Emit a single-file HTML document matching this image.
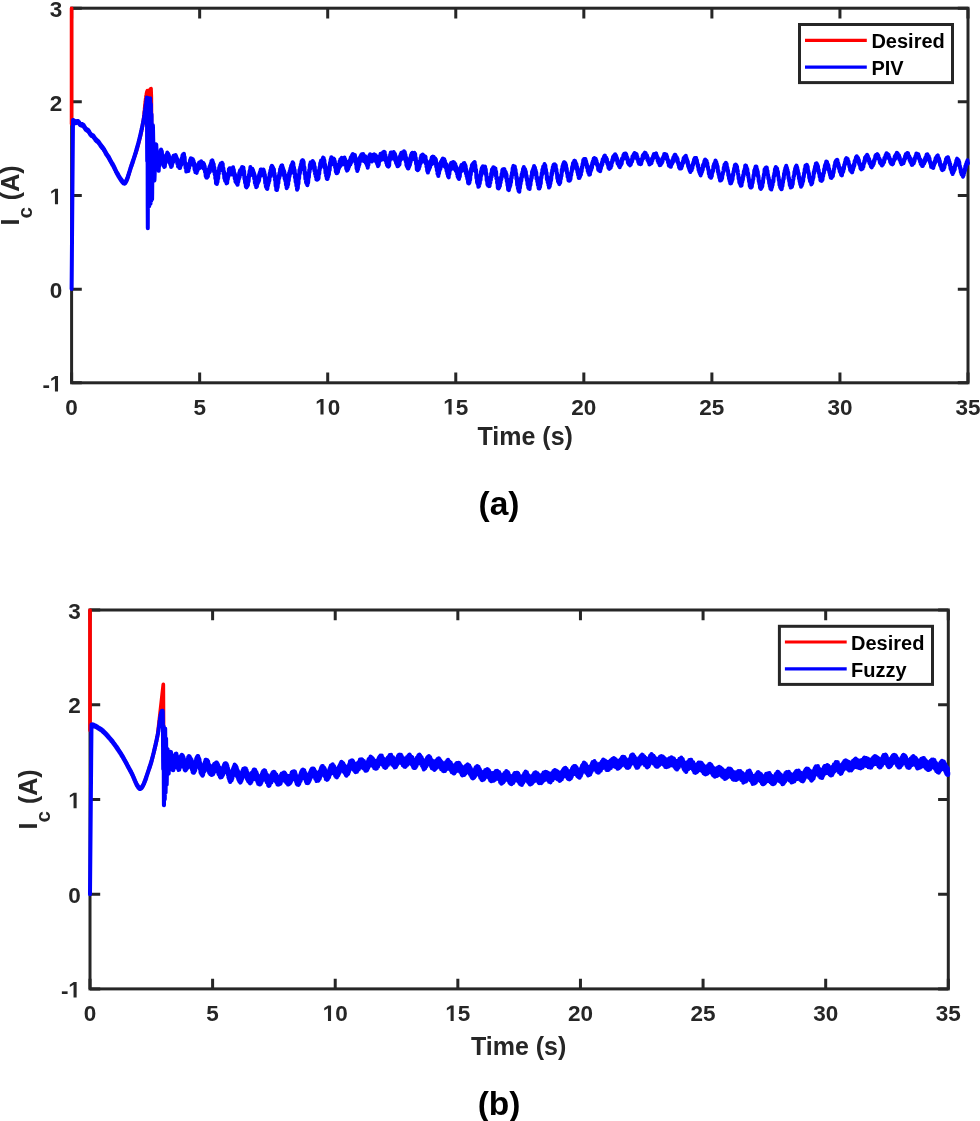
<!DOCTYPE html><html><head><meta charset="utf-8"><style>html,body{margin:0;padding:0;background:#fff;overflow:hidden}svg{display:block;will-change:transform}text{font-family:"Liberation Sans",sans-serif;font-weight:bold}</style></head><body>
<svg width="980" height="1121" viewBox="0 0 980 1121">
<defs><clipPath id="ca"><rect x="68.6" y="6.4" width="902.4" height="378.2"/></clipPath>
<clipPath id="cb"><rect x="87.0" y="608.2" width="864.3" height="382.5"/></clipPath></defs>
<path d="M71.60,382.80V372.60M71.60,8.20V18.40M199.66,382.80V372.60M199.66,8.20V18.40M327.71,382.80V372.60M327.71,8.20V18.40M455.77,382.80V372.60M455.77,8.20V18.40M583.83,382.80V372.60M583.83,8.20V18.40M711.89,382.80V372.60M711.89,8.20V18.40M839.94,382.80V372.60M839.94,8.20V18.40M968.00,382.80V372.60M968.00,8.20V18.40M71.60,382.80H81.80M968.00,382.80H957.80M71.60,289.15H81.80M968.00,289.15H957.80M71.60,195.50H81.80M968.00,195.50H957.80M71.60,101.85H81.80M968.00,101.85H957.80M71.60,8.20H81.80M968.00,8.20H957.80" stroke="#262626" stroke-width="3" fill="none"/>
<rect x="71.60" y="8.20" width="896.40" height="374.60" stroke="#262626" stroke-width="3" fill="none"/>
<g font-size="22.5" fill="#262626"><text x="71.60" y="414.50" text-anchor="middle">0</text><text x="199.66" y="414.50" text-anchor="middle">5</text><text x="327.71" y="414.50">0</text><text x="455.77" y="414.50">5</text><text x="583.83" y="414.50" text-anchor="middle">20</text><text x="711.89" y="414.50" text-anchor="middle">25</text><text x="839.94" y="414.50" text-anchor="middle">30</text><text x="968.00" y="414.50" text-anchor="middle">35</text><text x="49.99" y="391.50" text-anchor="end">-</text><text x="62.20" y="297.85" text-anchor="end">0</text><text x="62.20" y="110.55" text-anchor="end">2</text><text x="62.20" y="16.90" text-anchor="end">3</text><path d="M320.45,414.50 L320.45,401.65 L316.74,403.96 L316.74,401.54 L320.62,399.02 L323.54,399.02 L323.54,414.50ZM448.51,414.50 L448.51,401.65 L444.80,403.96 L444.80,401.54 L448.67,399.02 L451.60,399.02 L451.60,414.50ZM54.94,391.50 L54.94,378.65 L51.22,380.96 L51.22,378.54 L55.10,376.02 L58.03,376.02 L58.03,391.50ZM54.94,204.20 L54.94,191.35 L51.22,193.66 L51.22,191.24 L55.10,188.72 L58.03,188.72 L58.03,204.20Z"/></g>
<g clip-path="url(#ca)" fill="none" stroke-width="3.6" stroke-linejoin="round" stroke-linecap="round">
<path d="M71.6,8.2 L71.6,124.0 71.9,123.2 72.1,122.4 72.4,121.6 72.6,121.0 72.9,120.6 73.1,120.6 73.4,120.6 73.6,120.6 73.9,120.7 74.2,120.7 74.4,120.8 74.7,120.8 74.9,120.9 75.2,121.0 75.4,121.1 75.7,121.2 76.0,121.3 76.2,121.4 76.5,121.5 76.7,121.7 77.0,121.8 77.2,121.9 77.5,122.1 77.7,122.2 78.0,122.4 78.3,122.5 78.5,122.7 78.8,122.9 79.0,123.0 79.3,123.2 79.5,123.3 79.8,123.5 80.1,123.6 80.3,123.8 80.6,124.0 80.8,124.1 81.1,124.3 81.3,124.5 81.6,124.7 81.8,124.9 82.1,125.1 82.4,125.3 82.6,125.5 82.9,125.7 83.1,125.9 83.4,126.2 83.6,126.4 83.9,126.7 84.1,126.9 84.4,127.2 84.7,127.5 84.9,127.7 85.2,128.0 85.4,128.3 85.7,128.5 85.9,128.8 86.2,129.1 86.5,129.4 86.7,129.7 87.0,130.0 87.2,130.2 87.5,130.5 87.7,130.8 88.0,131.1 88.2,131.4 88.5,131.7 88.8,132.0 89.0,132.3 89.3,132.5 89.5,132.8 89.8,133.1 90.0,133.4 90.3,133.6 90.6,133.9 90.8,134.2 91.1,134.5 91.3,134.7 91.6,135.0 91.8,135.3 92.1,135.5 92.3,135.8 92.6,136.0 92.9,136.3 93.1,136.6 93.4,136.8 93.6,137.1 93.9,137.4 94.1,137.6 94.4,137.9 94.7,138.2 94.9,138.5 95.2,138.7 95.4,139.0 95.7,139.3 95.9,139.6 96.2,139.8 96.4,140.1 96.7,140.4 97.0,140.7 97.2,141.0 97.5,141.3 97.7,141.5 98.0,141.8 98.2,142.1 98.5,142.4 98.7,142.7 99.0,143.1 99.3,143.4 99.5,143.7 99.8,144.0 100.0,144.3 100.3,144.6 100.5,145.0 100.8,145.3 101.1,145.6 101.3,146.0 101.6,146.3 101.8,146.7 102.1,147.1 102.3,147.4 102.6,147.8 102.8,148.2 103.1,148.6 103.4,148.9 103.6,149.3 103.9,149.7 104.1,150.1 104.4,150.5 104.6,150.9 104.9,151.3 105.2,151.8 105.4,152.2 105.7,152.6 105.9,153.0 106.2,153.4 106.4,153.9 106.7,154.3 106.9,154.7 107.2,155.1 107.5,155.6 107.7,156.0 108.0,156.4 108.2,156.9 108.5,157.3 108.7,157.8 109.0,158.2 109.2,158.6 109.5,159.1 109.8,159.5 110.0,159.9 110.3,160.4 110.5,160.8 110.8,161.3 111.0,161.7 111.3,162.1 111.6,162.6 111.8,163.0 112.1,163.5 112.3,164.0 112.6,164.5 112.8,164.9 113.1,165.4 113.3,165.9 113.6,166.4 113.9,166.9 114.1,167.4 114.4,167.9 114.6,168.5 114.9,169.0 115.1,169.5 115.4,170.0 115.7,170.5 115.9,171.0 116.2,171.5 116.4,172.0 116.7,172.5 116.9,173.0 117.2,173.5 117.4,174.0 117.7,174.4 118.0,174.9 118.2,175.4 118.5,175.8 118.7,176.3 119.0,176.7 119.2,177.1 119.5,177.5 119.7,177.9 120.0,178.3 120.3,178.7 120.5,179.1 120.8,179.4 121.0,179.7 121.3,180.0 121.5,180.4 121.8,180.7 122.1,181.1 122.3,181.4 122.6,181.7 122.8,182.0 123.1,182.3 123.3,182.6 123.6,182.8 123.8,182.9 124.1,183.0 124.4,183.0 124.6,183.0 124.9,182.9 125.1,182.6 125.4,182.4 125.6,182.0 125.9,181.6 126.2,181.2 126.4,180.7 126.7,180.1 126.9,179.5 127.2,178.8 127.4,178.1 127.7,177.4 127.9,176.7 128.2,175.9 128.5,175.1 128.7,174.3 129.0,173.5 129.2,172.6 129.5,171.8 129.7,171.0 130.0,170.1 130.3,169.3 130.5,168.5 130.8,167.6 131.0,166.9 131.3,166.1 131.5,165.3 131.8,164.6 132.0,163.9 132.3,163.1 132.6,162.4 132.8,161.7 133.1,160.9 133.3,160.2 133.6,159.4 133.8,158.7 134.1,157.9 134.3,157.2 134.6,156.4 134.9,155.7 135.1,154.9 135.4,154.1 135.6,153.3 135.9,152.5 136.1,151.7 136.4,150.8 136.7,150.0 136.9,149.1 137.2,148.3 137.4,147.4 137.7,146.5 137.9,145.6 138.2,144.7 138.4,143.7 138.7,142.7 139.0,141.7 139.2,140.7 139.5,139.7 139.7,138.7 140.0,137.6 140.2,136.5 140.5,135.4 140.8,134.2 141.0,133.0 141.3,131.8 141.5,130.6 141.8,129.4 142.0,128.1 142.3,126.8 142.5,125.4 142.8,124.0 143.1,122.6 143.3,121.0 143.6,119.0 143.8,116.8 144.1,114.4 144.3,111.9 144.6,109.4 144.8,106.8 145.1,104.2 145.4,101.8 145.6,99.6 145.9,97.5 146.1,95.8 146.4,94.4 146.6,93.1 146.9,91.9 147.2,91.0 147.4,90.6 147.7,91.3 147.9,92.9 148.2,94.9 148.4,96.5 148.7,97.2 148.9,96.5 149.2,94.7 149.5,92.6 149.7,90.7 150.0,89.7 150.2,89.3 150.5,89.0 150.7,88.8 151.0,88.7 151.3,96.2 151.8,167.4 153.6,162.7" stroke="#ff0000" stroke-width="3.7"/>
<path d="M71.6,289.1 L73.0,121.0 73.0,120.0 73.3,120.3 73.5,120.1 73.8,121.2 74.0,120.5 74.3,122.2 74.5,121.0 74.8,122.8 75.1,121.6 75.3,123.2 75.6,121.8 75.8,123.3 76.1,121.7 76.3,123.1 76.6,121.4 76.9,122.7 77.1,121.1 77.4,122.5 77.6,121.0 77.9,122.5 78.1,121.1 78.4,122.8 78.6,121.6 78.9,123.5 79.2,122.3 79.4,124.2 79.7,123.1 79.9,124.9 80.2,123.6 80.4,125.3 80.7,124.0 80.9,125.6 81.2,124.1 81.5,125.6 81.7,124.1 82.0,125.5 82.2,124.0 82.5,125.6 82.7,124.2 83.0,125.9 83.3,124.6 83.5,126.4 83.8,125.3 84.0,127.2 84.3,126.1 84.5,128.1 84.8,127.0 85.0,128.9 85.3,127.8 85.6,129.6 85.8,128.4 86.1,130.1 86.3,128.8 86.6,130.5 86.8,129.1 87.1,130.7 87.4,129.4 87.6,131.0 87.9,129.7 88.1,131.5 88.4,130.3 88.6,132.1 88.9,131.0 89.1,132.9 89.4,131.8 89.7,133.8 89.9,132.7 90.2,134.6 90.4,133.4 90.7,135.2 90.9,134.0 91.2,135.7 91.4,134.4 91.7,136.1 92.0,134.7 92.2,136.3 92.5,135.0 92.7,136.6 93.0,135.3 93.2,137.1 93.5,135.8 93.8,137.7 94.0,136.5 94.3,138.4 94.5,137.2 94.8,139.1 95.0,138.0 95.3,139.9 95.5,138.7 95.8,140.5 96.1,139.3 96.3,141.0 96.6,139.7 96.8,141.4 97.1,140.1 97.3,141.8 97.6,140.5 97.9,142.2 98.1,141.0 98.4,142.7 98.6,141.5 98.9,143.4 99.1,142.2 99.4,144.1 99.6,143.0 99.9,144.9 100.2,143.9 100.4,145.7 100.7,144.6 100.9,146.5 101.2,145.3 101.4,147.1 101.7,145.9 101.9,147.7 102.2,146.5 102.5,148.3 102.7,147.1 103.0,148.9 103.2,147.8 103.5,149.7 103.7,148.5 104.0,150.5 104.3,149.4 104.5,151.4 104.8,150.4 105.0,152.3 105.3,151.3 105.5,153.3 105.8,152.2 106.0,154.2 106.3,153.1 106.6,155.0 106.8,153.9 107.1,155.8 107.3,154.6 107.6,156.5 107.8,155.4 108.1,157.3 108.4,156.2 108.6,158.1 108.9,157.0 109.1,159.0 109.4,158.0 109.6,160.0 109.9,158.9 110.1,160.9 110.4,159.9 110.7,161.9 110.9,160.9 111.2,162.8 111.4,161.8 111.7,163.7 111.9,162.6 112.2,164.6 112.5,163.5 112.7,165.4 113.0,164.4 113.2,166.3 113.5,165.3 113.7,167.3 114.0,166.3 114.2,168.3 114.5,167.4 114.8,169.4 115.0,168.4 115.3,170.5 115.5,169.5 115.8,171.6 116.0,170.6 116.3,172.6 116.5,171.6 116.8,173.6 117.1,172.6 117.3,174.5 117.6,173.5 117.8,175.4 118.1,174.3 118.3,176.3 118.6,175.2 118.9,177.1 119.1,176.1 119.4,178.0 119.6,176.9 119.9,178.8 120.1,177.7 120.4,179.6 120.6,178.5 120.9,180.4 121.2,179.2 121.4,181.1 121.7,179.9 121.9,181.7 122.2,180.6 122.4,182.4 122.7,181.2 123.0,182.9 123.2,181.7 123.5,183.4 123.7,182.0 124.0,183.6 124.2,182.2 124.5,183.7 124.7,182.1 125.0,183.5 125.3,181.8 125.5,183.0 125.8,181.1 126.0,182.2 126.3,180.2 126.5,181.2 126.8,179.1 127.0,180.0 127.3,177.8 127.6,178.6 127.8,176.3 128.1,177.0 128.3,174.7 128.6,175.4 128.8,173.1 129.1,173.7 129.4,171.4 129.6,172.1 129.9,169.7 130.1,170.4 130.4,168.1 130.6,168.8 130.9,166.5 131.1,167.3 131.4,165.0 131.7,165.8 131.9,163.5 132.2,164.3 132.4,162.0 132.7,162.7 132.9,160.5 133.2,161.2 133.5,158.9 133.7,159.6 134.0,157.3 134.2,158.0 134.5,155.7 134.7,156.4 135.0,154.1 135.2,154.7 135.5,152.4 135.8,153.1 136.0,150.7 136.3,151.4 136.5,149.0 136.8,149.6 137.0,147.2 137.3,147.8 137.5,145.4 137.8,145.9 138.1,143.5 138.3,144.0 138.6,141.5 138.8,142.0 139.1,139.5 139.3,140.0 139.6,137.4 139.9,137.9 140.1,135.3 140.4,135.8 140.6,133.2 140.9,133.6 141.1,131.0 141.4,131.3 141.6,128.7 141.9,129.0 142.2,126.3 142.4,126.6 142.7,123.8 142.9,124.1 143.2,121.3 143.4,121.4 143.7,118.4 144.0,118.4 144.2,115.3 144.5,115.2 144.7,112.0 145.0,111.7 145.2,108.5 145.5,108.2 145.7,104.9 146.0,104.5 146.3,101.1 146.5,100.8 146.8,97.4 146.9,97.7 147.0,116.2 147.1,147.5 147.2,161.2 147.3,139.8 147.4,105.9 147.5,102.5 147.6,147.1 147.7,206.8 147.8,228.3 147.9,192.3 148.0,131.8 148.1,97.9 148.2,115.4 148.3,165.4 148.4,205.1 148.5,201.7 148.6,157.9 148.7,110.3 148.8,98.7 148.9,132.0 149.0,182.1 149.2,206.3 149.3,184.5 149.4,135.4 149.5,100.8 149.6,109.3 149.7,153.8 149.8,196.3 149.9,200.9 150.0,163.4 150.1,116.0 150.2,98.3 150.3,125.2 150.4,174.0 150.5,203.7 150.6,188.9 150.7,142.6 150.8,103.8 150.9,104.8 151.0,144.4 151.1,189.2 151.2,201.0 151.3,173.6 151.4,135.7 151.5,114.1 151.6,116.2 151.7,136.0 151.8,161.7 151.9,183.9 152.0,196.7 152.1,199.1 152.2,192.2 152.3,179.6 152.4,164.8 152.5,150.7 152.6,138.7 152.7,130.5 152.8,126.1 152.9,125.3 153.0,127.4 153.1,132.2 153.2,138.3 153.4,145.2 153.5,152.2 153.6,159.0 153.7,165.0 153.8,170.2 153.9,174.3 154.0,177.2 154.1,178.9 154.2,180.1 154.3,180.6 154.4,180.4 154.5,179.2 154.6,177.0 154.7,173.4 154.8,169.5 154.9,165.8 155.0,162.7 155.1,159.8 155.2,157.3 155.3,154.5 155.4,151.7 155.5,149.5 155.6,148.5 155.7,148.0 155.8,147.9 155.9,147.4 156.0,146.1 156.1,144.6 156.2,144.3 156.3,145.3 156.4,147.3 156.5,149.2 156.6,150.4 156.7,150.2 156.8,150.0 156.9,150.8 157.0,152.9 157.1,155.7 157.2,158.4 157.3,159.8 157.4,160.0 157.6,160.3 157.7,161.9 157.8,164.0 157.9,166.3 158.0,167.6 158.1,167.0 158.2,165.4 158.3,164.9 158.4,165.9 158.5,168.2 158.6,170.3 158.7,170.8 158.8,168.9 158.9,166.2 159.0,164.4 159.1,164.3 159.2,165.3 159.3,166.2 159.4,165.4 159.5,163.0 159.6,160.3 159.7,159.0 159.8,159.0 159.9,159.8 160.0,159.8 160.1,158.1 160.2,155.1 160.3,152.9 160.4,152.3 160.5,153.5 160.6,155.1 160.7,155.7 160.8,154.0 160.9,151.4 161.0,149.5 161.1,149.5 161.2,150.9 161.3,153.1 161.4,153.8 161.5,153.0 161.6,151.5 161.8,151.1 161.9,152.2 162.0,154.5 162.1,156.4 162.2,156.7 162.3,155.4 162.4,154.5 162.5,154.9 162.6,157.1 162.7,160.1 162.8,162.4 162.9,162.2 163.0,160.6 163.1,159.2 163.2,159.3 163.3,161.1 163.4,163.9 163.5,165.5 163.6,165.2 163.7,163.9 163.8,163.0 163.9,163.3 164.0,165.0 164.1,166.7 164.2,166.9 164.3,165.3 164.4,163.4 164.5,162.4 164.6,163.1 164.7,165.1 164.8,166.6 164.9,166.0 165.0,163.7 165.1,161.1 165.2,159.8 165.3,160.2 165.4,162.0 165.5,163.0 165.6,162.3 165.7,160.1 165.9,158.0 166.0,157.1 166.1,158.0 166.2,159.3 166.3,159.6 166.4,158.0 166.5,155.9 166.6,154.4 166.7,154.7 166.8,156.5 166.9,158.5 167.0,158.4 167.1,156.6 167.2,154.1 167.3,152.6 167.4,152.9 167.5,155.1 167.6,157.0 167.7,157.3 167.8,156.0 167.9,154.3 168.0,153.5 168.1,154.5 168.2,156.5 168.3,157.7 168.4,157.2 168.5,155.9 168.6,154.6 168.7,154.9 168.8,157.0 168.9,159.7 169.0,160.7 169.1,159.9 169.2,157.9 169.3,156.5 169.4,156.8 169.5,159.3 169.6,161.9 169.7,163.1 169.8,162.4 169.9,161.0 170.1,160.0 170.2,160.7 170.3,162.8 170.4,164.6 170.5,164.7 170.6,163.6 170.7,162.0 170.8,161.7 170.9,163.3 171.0,165.7 171.1,166.9 171.2,166.2 171.3,164.0 171.4,161.8 171.5,161.1 171.6,162.8 171.7,165.0 171.8,166.1 171.9,165.4 172.0,163.4 172.1,161.2 172.2,160.8 172.3,162.0 172.4,163.4 172.5,163.4 172.6,162.0 172.7,159.8 172.8,158.5 172.9,159.0 173.0,161.0 173.1,162.2 173.2,161.7 173.3,159.6 173.4,157.0 173.5,155.8 173.6,156.8 173.7,158.9 173.8,160.4 173.9,160.1 174.0,158.4 174.1,156.2 174.3,155.5 174.4,156.7 174.5,158.5 174.6,159.3 174.7,158.8 174.8,157.1 174.9,155.9 175.0,156.4 175.1,158.5 175.2,160.2 175.3,160.5 175.4,159.0 175.5,156.6 175.6,155.0 175.7,155.9 175.8,158.3 175.9,160.4 176.0,161.0 176.1,159.8 176.2,157.6 176.3,156.6 176.4,157.6 176.5,159.6 176.6,161.1 176.7,161.2 176.8,159.7 176.9,158.3 177.0,158.3 177.1,160.2 177.2,162.4 177.3,163.6 177.4,162.9 177.5,161.0 177.6,159.4 177.7,160.1 177.8,162.5 177.9,165.1 178.0,166.4 178.1,165.8 178.2,163.6 178.3,162.2 178.5,162.6 178.6,164.5 178.7,166.1 178.8,166.8 178.9,165.6 179.0,163.9 179.1,163.3 179.2,164.6 179.3,166.5 179.4,167.9 179.5,167.4 179.6,165.3 179.7,163.1 179.8,162.8 179.9,164.3 180.0,166.6 180.1,168.0 180.2,167.3 180.3,164.9 180.4,162.7 180.5,162.2 180.6,163.5 180.7,165.0 180.8,165.9 180.9,164.8 181.0,162.8 181.1,161.5 181.2,162.0 181.3,163.4 181.4,164.7 181.5,164.3 181.6,162.1 181.7,159.3 181.8,158.1 181.9,158.9 182.0,160.8 182.1,162.2 182.2,161.7 182.3,159.1 182.4,156.4 182.5,155.2 182.7,155.8 182.8,157.3 182.9,158.5 183.0,157.9 183.1,155.9 183.2,154.2 183.3,154.3 183.4,155.7 183.5,157.5 183.6,158.1 183.7,156.9 183.8,154.6 183.9,153.7 184.0,154.6 184.1,157.2 184.2,159.8 184.3,160.8 184.4,159.5 184.5,157.7 184.6,157.0 184.7,158.3 184.8,160.8 184.9,163.4 185.0,164.2 185.1,163.3 185.2,162.3 185.3,162.6 185.4,164.2 185.5,166.6 185.6,168.0 185.7,167.5 185.8,165.6 185.9,164.5 186.0,165.1 186.1,167.4 186.2,170.2 186.3,171.6 186.4,170.4 186.5,168.1 186.6,166.4 186.7,166.6 186.9,168.3 187.0,170.6 187.1,171.3 187.2,170.0 187.3,168.1 187.4,167.3 187.5,167.8 187.6,169.7 187.7,171.0 187.8,170.6 187.9,168.4 188.0,166.5 188.1,166.0 188.2,167.4 188.3,169.6 188.4,171.0 188.5,170.0 188.6,167.4 188.7,165.0 188.8,164.3 188.9,165.4 189.0,167.5 189.1,168.3 189.2,167.2 189.3,164.9 189.4,163.2 189.5,163.0 189.6,164.3 189.7,165.6 189.8,165.5 189.9,163.4 190.0,161.1 190.1,159.9 190.2,160.7 190.3,162.8 190.4,164.5 190.5,164.1 190.6,161.9 190.7,159.4 190.8,158.3 190.9,159.3 191.1,161.6 191.2,163.2 191.3,162.9 191.4,161.0 191.5,159.4 191.6,159.0 191.7,160.4 191.8,162.3 191.9,163.1 192.0,161.9 192.1,160.1 192.2,158.8 192.3,159.4 192.4,161.7 192.5,164.1 192.6,164.4 192.7,162.9 192.8,160.6 192.9,159.3 193.0,159.9 193.1,162.4 193.2,164.5 193.3,164.9 193.4,163.5 193.5,161.7 193.6,161.0 193.7,162.3 193.8,164.6 193.9,166.2 194.0,165.8 194.1,164.4 194.2,163.0 194.3,163.4 194.4,165.6 194.5,168.5 194.6,169.7 194.7,168.9 194.8,167.0 194.9,165.5 195.0,166.0 195.1,168.5 195.3,171.1 195.4,172.2 195.5,171.3 195.6,169.6 195.7,168.3 195.8,168.9 195.9,170.9 196.0,172.5 196.1,172.4 196.2,170.9 196.3,169.0 196.4,168.3 196.5,169.6 196.6,171.9 196.7,172.9 196.8,171.9 196.9,169.4 197.0,166.8 197.1,165.9 197.2,167.4 197.3,169.6 197.4,170.7 197.5,169.8 197.6,167.6 197.7,165.4 197.8,165.0 197.9,166.4 198.0,168.0 198.1,168.2 198.2,167.0 198.3,165.0 198.4,163.9 198.5,164.8 198.6,167.2 198.7,168.7 198.8,168.4 198.9,166.4 199.0,163.8 199.1,162.6 199.2,164.0 199.3,166.5 199.5,168.2 199.6,168.1 199.7,166.3 199.8,164.0 199.9,163.2 200.0,164.4 200.1,166.3 200.2,167.1 200.3,166.4 200.4,164.3 200.5,162.7 200.6,163.0 200.7,165.0 200.8,166.8 200.9,167.1 201.0,165.4 201.1,162.8 201.2,161.2 201.3,162.0 201.4,164.4 201.5,166.6 201.6,167.1 201.7,165.7 201.8,163.4 201.9,162.3 202.0,163.2 202.1,165.3 202.2,166.8 202.3,166.7 202.4,164.9 202.5,163.1 202.6,162.9 202.7,164.7 202.8,166.8 202.9,167.8 203.0,166.9 203.1,164.6 203.2,162.7 203.3,163.0 203.4,165.2 203.6,167.7 203.7,168.8 203.8,167.9 203.9,165.5 204.0,163.9 204.1,164.4 204.2,166.4 204.3,168.3 204.4,169.0 204.5,168.0 204.6,166.4 204.7,166.0 204.8,167.8 204.9,170.2 205.0,172.2 205.1,172.2 205.2,170.5 205.3,168.8 205.4,169.1 205.5,171.3 205.6,174.3 205.7,176.2 205.8,176.1 205.9,174.1 206.0,172.4 206.1,172.4 206.2,174.2 206.3,176.4 206.4,177.6 206.5,176.8 206.6,174.8 206.7,173.7 206.8,174.4 206.9,176.1 207.0,177.7 207.1,177.5 207.2,175.4 207.3,172.7 207.4,171.7 207.5,172.7 207.6,174.9 207.8,176.6 207.9,176.4 208.0,173.8 208.1,171.1 208.2,169.9 208.3,170.7 208.4,172.4 208.5,173.7 208.6,173.0 208.7,170.9 208.8,169.1 208.9,169.1 209.0,170.5 209.1,172.2 209.2,172.6 209.3,171.0 209.4,168.3 209.5,166.8 209.6,167.3 209.7,169.4 209.8,171.4 209.9,171.7 210.0,169.6 210.1,166.9 210.2,165.2 210.3,165.6 210.4,167.3 210.5,168.8 210.6,168.5 210.7,166.4 210.8,164.1 210.9,163.2 211.0,164.1 211.1,165.8 211.2,166.6 211.3,165.4 211.4,162.8 211.5,160.9 211.6,160.8 211.7,162.6 211.8,164.9 212.0,165.9 212.1,164.5 212.2,162.0 212.3,160.2 212.4,160.5 212.5,162.5 212.6,164.9 212.7,165.8 212.8,164.7 212.9,162.9 213.0,162.3 213.1,163.2 213.2,165.4 213.3,167.2 213.4,167.2 213.5,165.4 213.6,164.0 213.7,164.1 213.8,166.2 213.9,169.3 214.0,171.6 214.1,171.1 214.2,169.2 214.3,167.5 214.4,167.5 214.5,169.5 214.6,172.7 214.7,174.5 214.8,174.4 214.9,173.1 215.0,172.5 215.1,173.2 215.2,175.5 215.3,178.0 215.4,178.8 215.5,177.6 215.6,176.3 215.7,176.0 215.8,177.7 215.9,180.7 216.0,183.3 216.2,183.4 216.3,181.5 216.4,179.3 216.5,178.5 216.6,179.6 216.7,182.3 216.8,184.0 216.9,183.7 217.0,181.7 217.1,179.8 217.2,179.1 217.3,180.2 217.4,181.8 217.5,182.1 217.6,180.3 217.7,177.7 217.8,175.6 217.9,175.5 218.0,177.0 218.1,178.7 218.2,178.3 218.3,175.9 218.4,172.7 218.5,170.6 218.6,170.5 218.7,172.3 218.8,173.8 218.9,173.5 219.0,171.3 219.1,168.9 219.2,167.4 219.3,168.1 219.4,169.8 219.5,170.8 219.6,169.7 219.7,167.7 219.8,165.7 219.9,165.5 220.0,167.3 220.1,169.6 220.2,170.2 220.4,168.8 220.5,166.0 220.6,163.9 220.7,163.7 220.8,165.8 220.9,168.0 221.0,168.7 221.1,167.3 221.2,165.2 221.3,163.4 221.4,163.8 221.5,165.6 221.6,167.1 221.7,166.8 221.8,165.2 221.9,163.3 222.0,162.7 222.1,164.3 222.2,167.0 222.3,168.5 222.4,168.0 222.5,165.9 222.6,163.9 222.7,163.7 222.8,166.0 222.9,169.1 223.0,170.9 223.1,170.8 223.2,169.4 223.3,167.9 223.4,168.4 223.5,170.7 223.6,173.2 223.7,174.1 223.8,173.6 223.9,172.1 224.0,171.5 224.1,173.0 224.2,175.9 224.3,178.0 224.4,178.3 224.6,176.7 224.7,174.6 224.8,173.8 224.9,175.6 225.0,178.5 225.1,180.6 225.2,180.8 225.3,179.3 225.4,177.2 225.5,176.8 225.6,178.4 225.7,180.7 225.8,181.8 225.9,181.4 226.0,179.5 226.1,178.1 226.2,178.6 226.3,180.9 226.4,182.9 226.5,183.4 226.6,181.9 226.7,179.3 226.8,177.6 226.9,178.4 227.0,180.7 227.1,182.7 227.2,182.9 227.3,181.1 227.4,178.2 227.5,176.5 227.6,176.9 227.7,178.4 227.8,179.3 227.9,178.7 228.0,176.4 228.1,174.1 228.2,173.4 228.3,174.7 228.4,176.1 228.5,176.5 228.6,174.8 228.8,171.8 228.9,169.2 229.0,169.1 229.1,171.0 229.2,173.2 229.3,174.0 229.4,172.8 229.5,170.0 229.6,168.2 229.7,168.4 229.8,170.3 229.9,172.0 230.0,172.5 230.1,171.1 230.2,169.1 230.3,168.5 230.4,169.9 230.5,172.1 230.6,173.6 230.7,173.2 230.8,171.0 230.9,168.7 231.0,168.5 231.1,170.3 231.2,172.9 231.3,174.4 231.4,173.8 231.5,171.3 231.6,169.0 231.7,168.6 231.8,170.1 231.9,171.9 232.0,172.9 232.1,171.7 232.2,169.6 232.3,168.3 232.4,169.0 232.5,170.8 232.6,172.5 232.7,172.4 232.8,170.5 233.0,167.9 233.1,167.3 233.2,168.8 233.3,171.5 233.4,173.8 233.5,174.1 233.6,172.2 233.7,170.1 233.8,169.6 233.9,171.2 234.0,173.7 234.1,175.7 234.2,175.6 234.3,174.1 234.4,172.8 234.5,173.4 234.6,175.4 234.7,177.8 234.8,178.8 234.9,177.7 235.0,175.5 235.1,174.5 235.2,175.5 235.3,178.2 235.4,180.8 235.5,181.7 235.6,180.1 235.7,177.8 235.8,176.8 235.9,177.8 236.0,180.1 236.1,182.3 236.2,182.6 236.3,181.0 236.4,179.3 236.5,179.0 236.6,180.3 236.7,182.5 236.8,183.7 236.9,182.8 237.0,180.4 237.2,178.8 237.3,179.0 237.4,181.1 237.5,183.6 237.6,184.8 237.7,183.2 237.8,180.4 237.9,178.3 238.0,178.2 238.1,179.7 238.2,181.7 238.3,182.0 238.4,180.3 238.5,177.8 238.6,176.4 238.7,176.7 238.8,178.2 238.9,179.3 239.0,178.5 239.1,175.8 239.2,173.4 239.3,172.6 239.4,173.8 239.5,176.0 239.6,177.4 239.7,176.1 239.8,173.4 239.9,170.9 240.0,170.3 240.1,171.6 240.2,173.9 240.3,174.9 240.4,173.9 240.5,171.6 240.6,170.1 240.7,170.0 240.8,171.7 240.9,173.5 241.0,173.6 241.1,171.6 241.3,169.5 241.4,168.4 241.5,169.4 241.6,171.8 241.7,173.8 241.8,173.3 241.9,170.9 242.0,168.2 242.1,167.0 242.2,167.8 242.3,170.3 242.4,171.9 242.5,171.5 242.6,169.6 242.7,167.8 242.8,167.2 242.9,168.6 243.0,170.7 243.1,171.5 243.2,170.3 243.3,168.6 243.4,167.5 243.5,168.4 243.6,171.2 243.7,174.2 243.8,175.0 243.9,173.7 244.0,171.8 244.1,170.9 244.2,172.1 244.3,175.3 244.4,178.2 244.5,179.2 244.6,178.3 244.7,177.0 244.8,176.7 244.9,178.4 245.0,181.1 245.1,183.0 245.2,182.8 245.3,181.4 245.5,180.1 245.6,180.4 245.7,182.7 245.8,185.6 245.9,186.7 246.0,185.7 246.1,183.4 246.2,181.6 246.3,181.7 246.4,184.1 246.5,186.6 246.6,187.4 246.7,186.2 246.8,184.1 246.9,182.4 247.0,182.9 247.1,184.8 247.2,186.4 247.3,186.0 247.4,184.2 247.5,181.8 247.6,180.9 247.7,182.0 247.8,184.2 247.9,185.2 248.0,184.1 248.1,181.3 248.2,178.5 248.3,177.4 248.4,178.8 248.5,180.8 248.6,181.6 248.7,180.3 248.8,177.6 248.9,174.9 249.0,174.2 249.1,175.3 249.2,176.6 249.3,176.4 249.4,174.6 249.5,172.0 249.7,170.4 249.8,171.0 249.9,173.1 250.0,174.3 250.1,173.8 250.2,171.4 250.3,168.6 250.4,167.1 250.5,168.5 250.6,171.1 250.7,173.0 250.8,173.0 250.9,171.2 251.0,168.9 251.1,168.3 251.2,169.7 251.3,171.9 251.4,173.0 251.5,172.4 251.6,170.5 251.7,169.1 251.8,169.6 251.9,172.0 252.0,174.0 252.1,174.6 252.2,173.0 252.3,170.5 252.4,168.8 252.5,169.8 252.6,172.3 252.7,174.6 252.8,175.2 252.9,173.7 253.0,171.3 253.1,170.3 253.2,171.4 253.3,173.7 253.4,175.4 253.5,175.5 253.6,174.0 253.7,172.5 253.9,172.7 254.0,174.9 254.1,177.4 254.2,178.8 254.3,178.2 254.4,176.1 254.5,174.5 254.6,175.5 254.7,178.3 254.8,181.4 254.9,183.1 255.0,182.6 255.1,180.5 255.2,179.3 255.3,180.1 255.4,182.4 255.5,184.5 255.6,185.4 255.7,184.3 255.8,182.5 255.9,181.9 256.0,183.4 256.1,185.6 256.2,187.2 256.3,186.6 256.4,184.3 256.5,181.8 256.6,181.3 256.7,182.9 256.8,185.2 256.9,186.5 257.0,185.6 257.1,182.8 257.2,180.4 257.3,179.9 257.4,181.3 257.5,183.0 257.6,183.8 257.7,182.5 257.8,180.2 257.9,178.6 258.1,179.2 258.2,180.8 258.3,182.4 258.4,182.1 258.5,179.9 258.6,177.0 258.7,175.8 258.8,176.8 258.9,179.1 259.0,180.8 259.1,180.4 259.2,177.7 259.3,174.9 259.4,173.6 259.5,174.5 259.6,176.2 259.7,177.4 259.8,176.5 259.9,174.1 260.0,172.0 260.1,171.9 260.2,173.2 260.3,175.0 260.4,175.4 260.5,173.7 260.6,171.0 260.7,169.5 260.8,170.1 260.9,172.4 261.0,174.7 261.1,175.3 261.2,173.4 261.3,170.8 261.4,169.4 261.5,170.2 261.6,172.3 261.7,174.3 261.8,174.4 261.9,172.7 262.0,170.7 262.1,170.3 262.3,171.6 262.4,173.8 262.5,175.0 262.6,174.1 262.7,171.7 262.8,169.9 262.9,169.9 263.0,171.8 263.1,174.3 263.2,175.3 263.3,173.9 263.4,171.4 263.5,169.6 263.6,169.9 263.7,171.9 263.8,174.4 263.9,175.2 264.0,174.1 264.1,172.2 264.2,171.6 264.3,172.7 264.4,175.2 264.5,177.3 264.6,177.5 264.7,175.8 264.8,174.5 264.9,174.8 265.0,177.2 265.1,180.7 265.2,183.1 265.3,182.9 265.4,181.0 265.5,179.3 265.6,179.4 265.7,181.5 265.8,184.8 265.9,186.6 266.0,186.3 266.1,184.7 266.2,183.8 266.3,184.1 266.5,186.1 266.6,188.1 266.7,188.4 266.8,186.5 266.9,184.4 267.0,183.4 267.1,184.5 267.2,186.9 267.3,188.9 267.4,188.3 267.5,185.7 267.6,182.8 267.7,181.3 267.8,182.0 267.9,184.3 268.0,185.7 268.1,185.0 268.2,182.7 268.3,180.5 268.4,179.7 268.5,180.9 268.6,182.7 268.7,183.2 268.8,181.5 268.9,178.9 269.0,177.0 269.1,177.1 269.2,178.9 269.3,180.8 269.4,180.7 269.5,178.4 269.6,175.3 269.7,173.3 269.8,173.4 269.9,175.4 270.0,177.0 270.1,176.6 270.2,174.4 270.3,171.8 270.4,170.2 270.5,170.8 270.7,172.4 270.8,173.3 270.9,172.1 271.0,169.7 271.1,167.5 271.2,167.1 271.3,168.7 271.4,171.1 271.5,171.8 271.6,170.4 271.7,167.7 271.8,165.7 271.9,165.7 272.0,167.9 272.1,170.4 272.2,171.3 272.3,170.1 272.4,168.0 272.5,166.5 272.6,167.2 272.7,169.4 272.8,171.3 272.9,171.3 273.0,170.0 273.1,168.2 273.2,167.8 273.3,169.6 273.4,172.6 273.5,174.1 273.6,173.6 273.7,171.5 273.8,169.4 273.9,169.1 274.0,171.4 274.1,174.4 274.2,176.3 274.3,176.0 274.4,174.4 274.5,173.0 274.6,173.6 274.7,176.1 274.9,178.8 275.0,180.0 275.1,179.6 275.2,178.2 275.3,177.9 275.4,179.7 275.5,183.0 275.6,185.5 275.7,186.2 275.8,184.8 275.9,182.9 276.0,182.4 276.1,184.4 276.2,187.5 276.3,189.8 276.4,189.9 276.5,188.3 276.6,186.1 276.7,185.6 276.8,187.1 276.9,189.2 277.0,190.1 277.1,189.1 277.2,186.6 277.3,184.5 277.4,184.4 277.5,186.0 277.6,187.5 277.7,187.5 277.8,185.3 277.9,182.0 278.0,179.7 278.1,179.9 278.2,181.7 278.3,183.3 278.4,183.0 278.5,180.8 278.6,177.6 278.7,175.7 278.8,176.1 279.0,177.6 279.1,178.5 279.2,178.0 279.3,175.6 279.4,173.3 279.5,172.7 279.6,174.1 279.7,175.8 279.8,176.4 279.9,174.8 280.0,171.8 280.1,169.2 280.2,169.1 280.3,170.9 280.4,172.9 280.5,173.5 280.6,172.0 280.7,169.0 280.8,166.9 280.9,167.0 281.0,168.6 281.1,170.2 281.2,170.4 281.3,168.7 281.4,166.4 281.5,165.5 281.6,166.7 281.7,168.9 281.8,170.4 281.9,170.0 282.0,167.8 282.1,165.5 282.2,165.4 282.3,167.4 282.4,170.3 282.5,172.1 282.6,171.8 282.7,169.5 282.8,167.5 282.9,167.5 283.0,169.4 283.2,171.7 283.3,173.1 283.4,172.4 283.5,170.7 283.6,169.7 283.7,170.9 283.8,173.2 283.9,175.4 284.0,175.8 284.1,174.2 284.2,172.0 284.3,171.5 284.4,173.1 284.5,176.0 284.6,178.3 284.7,178.7 284.8,176.8 284.9,174.8 285.0,174.4 285.1,176.2 285.2,178.8 285.3,181.0 285.4,181.0 285.5,179.6 285.6,178.4 285.7,179.2 285.8,181.4 285.9,184.0 286.0,185.1 286.1,184.1 286.2,181.9 286.3,181.0 286.4,182.0 286.5,184.8 286.6,187.4 286.7,188.2 286.8,186.4 286.9,183.9 287.0,182.5 287.1,183.1 287.2,185.1 287.4,187.0 287.5,186.8 287.6,184.8 287.7,182.5 287.8,181.7 287.9,182.4 288.0,184.0 288.1,184.6 288.2,183.0 288.3,179.9 288.4,177.4 288.5,176.8 288.6,178.2 288.7,180.1 288.8,180.6 288.9,178.6 289.0,175.4 289.1,173.0 289.2,172.8 289.3,174.2 289.4,176.1 289.5,176.4 289.6,174.6 289.7,172.0 289.8,170.7 289.9,171.1 290.0,172.9 290.1,174.2 290.2,173.5 290.3,171.0 290.4,168.7 290.5,168.0 290.6,169.3 290.7,171.7 290.8,173.1 290.9,171.8 291.0,169.0 291.1,166.4 291.2,165.6 291.3,166.8 291.4,169.0 291.6,169.9 291.7,168.6 291.8,166.2 291.9,164.4 292.0,164.2 292.1,165.7 292.2,167.4 292.3,167.4 292.4,165.3 292.5,163.2 292.6,162.2 292.7,163.5 292.8,166.2 292.9,168.6 293.0,168.4 293.1,166.3 293.2,164.0 293.3,163.2 293.4,164.6 293.5,167.6 293.6,169.8 293.7,170.0 293.8,168.5 293.9,167.2 294.0,167.2 294.1,169.3 294.2,171.9 294.3,173.3 294.4,172.5 294.5,170.8 294.6,169.8 294.7,170.9 294.8,173.8 294.9,176.7 295.0,177.7 295.1,176.7 295.2,174.8 295.3,174.0 295.4,175.3 295.5,178.6 295.6,181.5 295.8,182.4 295.9,181.4 296.0,180.1 296.1,179.6 296.2,181.2 296.3,183.9 296.4,185.8 296.5,185.5 296.6,184.1 296.7,182.9 296.8,183.3 296.9,185.7 297.0,188.7 297.1,189.8 297.2,188.6 297.3,186.0 297.4,183.9 297.5,183.7 297.6,185.8 297.7,188.0 297.8,188.5 297.9,186.8 298.0,184.1 298.1,181.9 298.2,181.8 298.3,183.1 298.4,184.0 298.5,183.0 298.6,180.5 298.7,177.5 298.8,175.9 298.9,176.5 299.0,178.2 299.1,178.7 299.2,177.2 299.3,174.1 299.4,171.0 299.5,169.7 299.6,171.0 299.7,173.0 299.8,173.8 300.0,172.5 300.1,169.9 300.2,167.3 300.3,166.8 300.4,168.1 300.5,169.7 300.6,169.7 300.7,168.1 300.8,165.7 300.9,164.2 301.0,164.8 301.1,167.1 301.2,168.5 301.3,168.0 301.4,165.6 301.5,162.7 301.6,161.2 301.7,162.3 301.8,164.7 301.9,166.3 302.0,165.9 302.1,163.8 302.2,161.1 302.3,160.2 302.4,161.4 302.5,163.3 302.6,164.2 302.7,163.6 302.8,161.6 302.9,160.2 303.0,160.8 303.1,163.4 303.2,165.7 303.3,166.5 303.4,165.2 303.5,163.0 303.6,161.7 303.7,163.2 303.8,166.3 303.9,169.2 304.0,170.3 304.2,169.4 304.3,167.6 304.4,167.1 304.5,168.7 304.6,171.6 304.7,173.8 304.8,174.4 304.9,173.2 305.0,171.9 305.1,172.3 305.2,174.8 305.3,177.5 305.4,179.1 305.5,178.4 305.6,176.4 305.7,174.7 305.8,175.5 305.9,178.2 306.0,181.2 306.1,182.6 306.2,181.9 306.3,179.7 306.4,178.3 306.5,179.0 306.6,181.3 306.7,183.4 306.8,184.2 306.9,182.9 307.0,181.0 307.1,180.3 307.2,181.8 307.3,183.8 307.4,185.2 307.5,184.4 307.6,181.7 307.7,178.9 307.8,178.3 307.9,179.8 308.0,182.0 308.1,183.1 308.2,181.9 308.4,178.7 308.5,175.9 308.6,174.9 308.7,175.8 308.8,177.1 308.9,177.3 309.0,175.3 309.1,172.2 309.2,170.0 309.3,169.9 309.4,171.1 309.5,172.3 309.6,171.7 309.7,169.2 309.8,166.0 309.9,164.5 310.0,165.3 310.1,167.4 310.2,169.0 310.3,168.7 310.4,166.0 310.5,163.3 310.6,162.3 310.7,163.4 310.8,165.5 310.9,167.0 311.0,166.5 311.1,164.4 311.2,162.7 311.3,162.9 311.4,164.6 311.5,166.7 311.6,167.4 311.7,165.9 311.8,163.2 311.9,161.7 312.0,162.3 312.1,164.6 312.2,166.8 312.3,167.3 312.4,165.3 312.6,162.5 312.7,161.1 312.8,161.8 312.9,163.8 313.0,165.8 313.1,165.9 313.2,164.1 313.3,162.2 313.4,161.9 313.5,163.3 313.6,165.8 313.7,167.3 313.8,166.7 313.9,164.7 314.0,163.2 314.1,163.7 314.2,166.2 314.3,169.2 314.4,170.8 314.5,169.9 314.6,167.9 314.7,166.6 314.8,167.4 314.9,169.9 315.0,172.8 315.1,174.0 315.2,173.1 315.3,171.4 315.4,170.9 315.5,172.0 315.6,174.4 315.7,176.4 315.8,176.3 315.9,174.3 316.0,172.6 316.1,172.4 316.2,174.4 316.3,177.3 316.4,179.3 316.5,178.6 316.7,176.3 316.8,174.2 316.9,174.0 317.0,175.7 317.1,178.5 317.2,179.8 317.3,179.0 317.4,177.0 317.5,175.6 317.6,175.6 317.7,177.4 317.8,179.2 317.9,179.2 318.0,177.1 318.1,174.8 318.2,173.5 318.3,174.3 318.4,176.6 318.5,178.4 318.6,177.6 318.7,174.9 318.8,171.8 318.9,170.3 319.0,170.8 319.1,172.9 319.2,174.1 319.3,173.2 319.4,170.7 319.5,168.3 319.6,167.1 319.7,168.0 319.8,169.5 319.9,169.7 320.0,167.8 320.1,165.1 320.2,163.1 320.3,163.2 320.4,165.2 320.5,167.3 320.6,167.3 320.7,165.2 320.9,162.3 321.0,160.6 321.1,161.0 321.2,163.4 321.3,165.4 321.4,165.5 321.5,163.7 321.6,161.5 321.7,160.4 321.8,161.4 321.9,163.4 322.0,164.7 322.1,163.8 322.2,161.7 322.3,159.7 322.4,159.5 322.5,161.3 322.6,163.7 322.7,164.4 322.8,162.9 322.9,160.0 323.0,157.8 323.1,157.6 323.2,159.8 323.3,162.2 323.4,163.0 323.5,161.7 323.6,159.6 323.7,158.1 323.8,158.8 323.9,161.1 324.0,163.1 324.1,163.3 324.2,162.1 324.3,160.5 324.4,160.4 324.5,162.5 324.6,165.8 324.7,167.9 324.8,167.8 324.9,166.1 325.1,164.5 325.2,164.7 325.3,167.4 325.4,170.9 325.5,173.1 325.6,173.1 325.7,171.7 325.8,170.3 325.9,170.7 326.0,173.0 326.1,175.5 326.2,176.3 326.3,175.5 326.4,173.7 326.5,172.8 326.6,174.0 326.7,176.8 326.8,178.7 326.9,178.8 327.0,176.8 327.1,174.2 327.2,173.1 327.3,174.5 327.4,177.1 327.5,178.9 327.6,178.5 327.7,176.4 327.8,173.9 327.9,173.0 328.0,174.2 328.1,176.0 328.2,176.7 328.3,175.7 328.4,173.3 328.5,171.3 328.6,171.2 328.7,173.1 328.8,174.6 328.9,174.5 329.0,172.3 329.1,169.0 329.3,166.6 329.4,166.9 329.5,168.7 329.6,170.3 329.7,170.1 329.8,167.8 329.9,164.5 330.0,162.6 330.1,162.9 330.2,164.5 330.3,165.4 330.4,164.7 330.5,162.3 330.6,160.0 330.7,159.3 330.8,160.9 330.9,162.7 331.0,163.5 331.1,162.2 331.2,159.5 331.3,157.3 331.4,157.6 331.5,159.9 331.6,162.6 331.7,163.8 331.8,162.8 331.9,160.1 332.0,158.4 332.1,158.7 332.2,160.7 332.3,162.6 332.4,163.2 332.5,161.9 332.6,159.9 332.7,159.2 332.8,160.6 332.9,162.8 333.0,164.3 333.1,163.7 333.2,161.3 333.3,158.8 333.5,158.5 333.6,160.2 333.7,162.8 333.8,164.4 333.9,163.8 334.0,161.3 334.1,159.2 334.2,159.1 334.3,160.9 334.4,163.2 334.5,164.6 334.6,163.8 334.7,162.0 334.8,161.1 334.9,162.4 335.0,164.8 335.1,167.1 335.2,167.7 335.3,166.2 335.4,164.1 335.5,163.8 335.6,165.7 335.7,168.8 335.8,171.4 335.9,171.9 336.0,170.0 336.1,167.9 336.2,167.4 336.3,169.0 336.4,171.4 336.5,173.2 336.6,172.7 336.7,170.7 336.8,169.0 336.9,169.1 337.0,170.7 337.1,172.6 337.2,173.1 337.3,171.4 337.4,168.5 337.5,166.9 337.7,167.4 337.8,169.5 337.9,171.6 338.0,171.9 338.1,169.7 338.2,166.8 338.3,165.1 338.4,165.6 338.5,167.5 338.6,169.3 338.7,169.1 338.8,167.1 338.9,164.8 339.0,164.1 339.1,165.0 339.2,166.8 339.3,167.6 339.4,166.3 339.5,163.4 339.6,161.4 339.7,161.3 339.8,163.2 339.9,165.6 340.0,166.6 340.1,164.8 340.2,161.8 340.3,159.5 340.4,159.4 340.5,161.0 340.6,163.2 340.7,163.7 340.8,162.2 340.9,159.9 341.0,158.8 341.1,159.3 341.2,161.3 341.3,162.7 341.4,162.3 341.5,159.9 341.6,158.0 341.7,157.8 341.9,159.6 342.0,162.5 342.1,164.5 342.2,163.7 342.3,161.3 342.4,159.1 342.5,158.8 342.6,160.5 342.7,163.2 342.8,164.5 342.9,163.7 343.0,161.5 343.1,160.1 343.2,160.2 343.3,162.0 343.4,163.9 343.5,164.0 343.6,162.0 343.7,159.8 343.8,158.6 343.9,159.6 344.0,162.1 344.1,164.1 344.2,163.7 344.3,161.3 344.4,158.7 344.5,157.6 344.6,158.8 344.7,161.4 344.8,163.2 344.9,162.9 345.0,161.1 345.1,159.4 345.2,159.2 345.3,161.1 345.4,163.7 345.5,164.9 345.6,164.0 345.7,162.3 345.8,161.3 345.9,162.4 346.1,165.2 346.2,168.2 346.3,168.9 346.4,167.5 346.5,165.2 346.6,163.9 346.7,164.8 346.8,167.7 346.9,170.1 347.0,170.6 347.1,169.0 347.2,167.1 347.3,165.9 347.4,166.9 347.5,168.9 347.6,170.0 347.7,168.9 347.8,166.7 347.9,164.6 348.0,164.3 348.1,166.0 348.2,168.3 348.3,168.9 348.4,167.2 348.5,164.3 348.6,162.0 348.7,161.7 348.8,163.8 348.9,166.1 349.0,166.8 349.1,165.4 349.2,163.1 349.3,161.3 349.4,161.7 349.5,163.6 349.6,165.1 349.7,164.8 349.8,162.9 349.9,160.6 350.0,159.7 350.1,161.0 350.3,163.4 350.4,164.5 350.5,163.5 350.6,160.8 350.7,158.1 350.8,157.2 350.9,159.0 351.0,161.4 351.1,162.7 351.2,161.8 351.3,159.5 351.4,157.1 351.5,156.7 351.6,158.2 351.7,159.9 351.8,160.0 351.9,158.6 352.0,156.3 352.1,155.0 352.2,155.9 352.3,158.4 352.4,160.1 352.5,160.0 352.6,157.8 352.7,155.2 352.8,154.0 352.9,155.5 353.0,158.2 353.1,160.2 353.2,160.1 353.3,158.2 353.4,155.8 353.5,155.2 353.6,156.7 353.7,158.9 353.8,159.9 353.9,159.2 354.0,157.1 354.1,155.5 354.2,155.8 354.4,158.1 354.5,160.2 354.6,160.7 354.7,159.1 354.8,156.6 354.9,155.0 355.0,156.1 355.1,158.8 355.2,161.4 355.3,162.1 355.4,160.9 355.5,158.7 355.6,157.8 355.7,159.2 355.8,161.8 355.9,163.8 356.0,164.2 356.1,163.0 356.2,161.6 356.3,162.0 356.4,164.5 356.5,167.2 356.6,168.7 356.7,168.1 356.8,165.9 356.9,164.2 357.0,164.8 357.1,167.2 357.2,170.0 357.3,171.1 357.4,170.0 357.5,167.3 357.6,165.5 357.7,165.8 357.8,167.7 357.9,169.3 358.0,169.4 358.1,167.4 358.2,164.7 358.3,163.4 358.4,164.2 358.6,165.9 358.7,166.8 358.8,165.7 358.9,162.9 359.0,159.9 359.1,159.2 359.2,160.7 359.3,163.1 359.4,164.4 359.5,163.6 359.6,160.6 359.7,158.1 359.8,157.5 359.9,158.9 360.0,160.7 360.1,161.6 360.2,160.4 360.3,158.1 360.4,156.6 360.5,157.3 360.6,159.1 360.7,160.9 360.8,160.8 360.9,158.7 361.0,155.9 361.1,154.9 361.2,156.1 361.3,158.6 361.4,160.5 361.5,160.4 361.6,157.9 361.7,155.3 361.8,154.3 361.9,155.4 362.0,157.5 362.1,159.0 362.2,158.5 362.3,156.4 362.4,154.7 362.5,154.9 362.6,156.5 362.8,158.7 362.9,159.4 363.0,157.9 363.1,155.3 363.2,154.1 363.3,155.0 363.4,157.6 363.5,160.1 363.6,160.9 363.7,159.1 363.8,156.6 363.9,155.3 364.0,156.2 364.1,158.5 364.2,160.6 364.3,160.8 364.4,159.0 364.5,157.0 364.6,156.7 364.7,157.9 364.8,160.1 364.9,161.4 365.0,160.4 365.1,157.9 365.2,156.2 365.3,156.4 365.4,158.6 365.5,161.3 365.6,162.6 365.7,161.4 365.8,159.0 365.9,157.3 366.0,157.8 366.1,160.1 366.2,162.8 366.3,163.7 366.4,162.6 366.5,160.8 366.6,160.2 366.7,161.2 366.8,163.6 367.0,165.5 367.1,165.4 367.2,163.4 367.3,161.6 367.4,161.3 367.5,163.2 367.6,165.9 367.7,167.7 367.8,166.7 367.9,164.0 368.0,161.4 368.1,160.7 368.2,161.9 368.3,164.2 368.4,165.2 368.5,163.9 368.6,161.3 368.7,159.5 368.8,159.1 368.9,160.4 369.0,161.9 369.1,161.6 369.2,159.3 369.3,156.7 369.4,155.4 369.5,156.3 369.6,158.6 369.7,160.6 369.8,160.2 369.9,157.9 370.0,155.3 370.1,154.3 370.2,155.5 370.3,158.2 370.4,160.0 370.5,159.7 370.6,157.7 370.7,156.0 370.8,155.7 370.9,157.4 371.0,159.7 371.2,160.6 371.3,159.4 371.4,157.3 371.5,155.8 371.6,156.4 371.7,158.7 371.8,161.2 371.9,161.4 372.0,159.5 372.1,156.7 372.2,155.0 372.3,155.4 372.4,157.8 372.5,159.9 372.6,160.0 372.7,158.1 372.8,155.9 372.9,154.7 373.0,155.7 373.1,157.8 373.2,159.1 373.3,158.2 373.4,156.3 373.5,154.4 373.6,154.4 373.7,156.5 373.8,159.2 373.9,160.2 374.0,158.9 374.1,156.3 374.2,154.3 374.3,154.4 374.4,156.8 374.5,159.5 374.6,160.4 374.7,159.3 374.8,157.2 374.9,155.5 375.0,156.0 375.1,158.0 375.2,159.7 375.4,159.4 375.5,157.9 375.6,155.8 375.7,155.3 375.8,156.9 375.9,159.7 376.0,161.3 376.1,160.8 376.2,158.6 376.3,156.4 376.4,156.1 376.5,158.3 376.6,161.3 376.7,163.0 376.8,162.6 376.9,160.8 377.0,159.1 377.1,159.3 377.2,161.4 377.3,163.7 377.4,164.4 377.5,163.5 377.6,161.5 377.7,160.6 377.8,161.7 377.9,164.4 378.0,166.2 378.1,166.0 378.2,163.9 378.3,161.1 378.4,159.8 378.5,161.0 378.6,163.4 378.7,165.0 378.8,164.4 378.9,162.1 379.0,159.3 379.1,158.2 379.2,159.2 379.3,161.0 379.4,161.5 379.6,160.5 379.7,158.0 379.8,156.1 379.9,156.2 380.0,158.3 380.1,160.0 380.2,160.3 380.3,158.4 380.4,155.6 380.5,153.8 380.6,154.6 380.7,157.0 380.8,159.2 380.9,159.6 381.0,158.0 381.1,155.4 381.2,154.2 381.3,155.2 381.4,157.4 381.5,158.9 381.6,158.9 381.7,157.0 381.8,155.0 381.9,154.8 382.0,156.6 382.1,158.7 382.2,159.6 382.3,158.3 382.4,155.5 382.5,153.1 382.6,153.3 382.7,155.3 382.8,157.7 382.9,158.5 383.0,157.2 383.1,154.2 383.2,152.2 383.3,152.4 383.4,154.2 383.5,155.9 383.6,156.3 383.8,154.7 383.9,152.6 384.0,151.8 384.1,153.3 384.2,155.5 384.3,157.1 384.4,156.6 384.5,154.4 384.6,152.1 384.7,152.2 384.8,154.4 384.9,157.5 385.0,159.5 385.1,159.3 385.2,157.0 385.3,155.1 385.4,155.2 385.5,157.1 385.6,159.5 385.7,160.9 385.8,160.2 385.9,158.4 386.0,157.4 386.1,158.6 386.2,160.8 386.3,162.8 386.4,163.1 386.5,161.3 386.6,158.9 386.7,158.3 386.8,159.9 386.9,162.8 387.0,165.1 387.1,165.4 387.2,163.3 387.3,161.1 387.4,160.5 387.5,162.0 387.6,164.3 387.7,166.2 387.8,165.9 388.0,164.0 388.1,162.4 388.2,162.6 388.3,164.2 388.4,166.1 388.5,166.6 388.6,164.8 388.7,161.8 388.8,160.2 388.9,160.8 389.0,162.9 389.1,165.0 389.2,165.3 389.3,162.7 389.4,159.4 389.5,157.4 389.6,157.5 389.7,159.0 389.8,160.6 389.9,160.1 390.0,157.8 390.1,155.4 390.2,154.5 390.3,155.4 390.4,157.3 390.5,158.2 390.6,157.1 390.7,154.4 390.8,152.4 390.9,152.5 391.0,154.6 391.1,157.2 391.2,158.4 391.3,156.9 391.4,154.3 391.5,152.5 391.6,152.7 391.7,154.7 391.8,157.3 391.9,158.2 392.1,156.9 392.2,154.9 392.3,154.0 392.4,154.8 392.5,156.9 392.6,158.5 392.7,158.2 392.8,155.8 392.9,153.6 393.0,153.0 393.1,154.4 393.2,156.9 393.3,158.4 393.4,157.4 393.5,154.8 393.6,152.4 393.7,152.0 393.8,153.5 393.9,156.1 394.0,157.4 394.1,156.5 394.2,154.4 394.3,153.1 394.4,153.3 394.5,155.4 394.6,157.6 394.7,158.1 394.8,156.6 394.9,154.6 395.0,153.9 395.1,155.3 395.2,158.2 395.3,160.7 395.4,160.8 395.5,159.1 395.6,156.9 395.7,156.3 395.8,157.9 395.9,160.9 396.0,163.0 396.1,163.0 396.3,161.3 396.4,159.7 396.5,159.5 396.6,161.2 396.7,163.6 396.8,164.6 396.9,163.4 397.0,161.4 397.1,160.1 397.2,160.8 397.3,163.3 397.4,166.0 397.5,166.3 397.6,164.6 397.7,162.0 397.8,160.4 397.9,161.1 398.0,163.7 398.1,165.9 398.2,166.2 398.3,164.5 398.4,162.4 398.5,161.2 398.6,162.1 398.7,164.1 398.8,165.3 398.9,164.3 399.0,162.2 399.1,160.2 399.2,159.9 399.3,161.7 399.4,164.1 399.5,164.5 399.6,162.6 399.7,159.5 399.8,156.9 399.9,156.3 400.0,158.2 400.1,160.3 400.2,160.7 400.3,159.0 400.5,156.5 400.6,154.4 400.7,154.6 400.8,156.4 400.9,157.8 401.0,157.4 401.1,155.6 401.2,153.5 401.3,152.8 401.4,154.3 401.5,157.1 401.6,158.4 401.7,157.7 401.8,155.3 401.9,153.0 402.0,152.5 402.1,154.5 402.2,157.2 402.3,158.7 402.4,158.0 402.5,155.8 402.6,153.9 402.7,153.9 402.8,155.8 402.9,157.8 403.0,158.3 403.1,156.9 403.2,154.6 403.3,153.3 403.4,154.1 403.5,156.5 403.6,158.0 403.7,157.7 403.8,155.4 403.9,152.7 404.0,151.3 404.1,152.6 404.2,155.1 404.3,157.0 404.4,156.7 404.5,154.8 404.7,152.6 404.8,152.1 404.9,153.8 405.0,156.3 405.1,157.6 405.2,157.3 405.3,155.7 405.4,154.5 405.5,155.4 405.6,158.3 405.7,160.9 405.8,161.9 405.9,160.8 406.0,158.7 406.1,157.5 406.2,158.9 406.3,161.9 406.4,164.7 406.5,165.6 406.6,164.4 406.7,162.2 406.8,161.4 406.9,162.7 407.0,165.2 407.1,166.9 407.2,167.0 407.3,165.2 407.4,163.4 407.5,163.3 407.6,165.2 407.7,167.4 407.8,168.4 407.9,167.3 408.0,164.7 408.1,162.5 408.2,162.7 408.3,164.9 408.4,167.5 408.5,168.4 408.6,167.2 408.7,164.4 408.9,162.5 409.0,162.7 409.1,164.5 409.2,166.1 409.3,166.4 409.4,164.6 409.5,162.3 409.6,161.2 409.7,162.2 409.8,164.0 409.9,165.0 410.0,164.0 410.1,161.1 410.2,158.2 410.3,157.5 410.4,158.9 410.5,161.2 410.6,162.4 410.7,161.4 410.8,158.4 410.9,155.7 411.0,155.0 411.1,156.3 411.2,158.1 411.3,158.8 411.4,157.5 411.5,155.1 411.6,153.6 411.7,154.3 411.8,156.2 411.9,158.0 412.0,158.0 412.1,156.0 412.2,153.4 412.3,152.7 412.4,154.1 412.5,156.9 412.6,159.1 412.7,159.2 412.8,157.0 412.9,154.6 413.1,153.8 413.2,155.1 413.3,157.3 413.4,158.9 413.5,158.3 413.6,156.2 413.7,154.3 413.8,154.4 413.9,156.0 414.0,158.0 414.1,158.6 414.2,157.0 414.3,154.2 414.4,152.8 414.5,153.5 414.6,156.0 414.7,158.5 414.8,159.2 414.9,157.4 415.0,154.9 415.1,153.7 415.2,154.7 415.3,157.2 415.4,159.7 415.5,160.3 415.6,159.0 415.7,157.6 415.8,157.8 415.9,159.6 416.0,162.4 416.1,164.2 416.2,163.9 416.3,162.0 416.4,160.9 416.5,161.6 416.6,164.4 416.7,167.5 416.8,169.3 416.9,168.2 417.0,165.9 417.1,164.3 417.3,164.8 417.4,166.9 417.5,169.5 417.6,170.3 417.7,168.9 417.8,166.8 417.9,165.8 418.0,166.3 418.1,168.3 418.2,169.7 418.3,169.1 418.4,166.5 418.5,164.3 418.6,163.6 418.7,165.0 418.8,167.4 418.9,168.9 419.0,167.7 419.1,165.0 419.2,162.5 419.3,161.8 419.4,163.2 419.5,165.6 419.6,166.6 419.7,165.4 419.8,163.0 419.9,161.3 420.0,161.0 420.1,162.5 420.2,164.0 420.3,163.8 420.4,161.5 420.5,159.1 420.6,157.8 420.7,158.7 420.8,161.1 420.9,163.0 421.0,162.3 421.1,159.7 421.2,156.8 421.3,155.5 421.5,156.3 421.6,158.7 421.7,160.3 421.8,159.7 421.9,157.5 422.0,155.6 422.1,154.9 422.2,156.3 422.3,158.4 422.4,159.1 422.5,157.7 422.6,155.7 422.7,154.5 422.8,155.3 422.9,157.9 423.0,160.6 423.1,161.0 423.2,159.3 423.3,156.7 423.4,155.2 423.5,155.8 423.6,158.6 423.7,160.9 423.8,161.3 423.9,159.7 424.0,157.8 424.1,156.6 424.2,157.7 424.3,159.8 424.4,161.1 424.5,160.2 424.6,158.3 424.7,156.4 424.8,156.5 424.9,158.5 425.0,161.3 425.1,162.2 425.2,161.0 425.3,158.5 425.4,156.6 425.5,156.9 425.7,159.6 425.8,162.5 425.9,163.8 426.0,163.0 426.1,161.4 426.2,160.3 426.3,161.5 426.4,164.1 426.5,166.5 426.6,166.9 426.7,165.8 426.8,164.2 426.9,164.1 427.0,166.1 427.1,169.2 427.2,171.0 427.3,170.6 427.4,168.5 427.5,166.4 427.6,166.0 427.7,168.2 427.8,171.0 427.9,172.6 428.0,171.9 428.1,169.7 428.2,167.5 428.3,167.2 428.4,168.8 428.5,170.6 428.6,170.7 428.7,169.2 428.8,166.7 428.9,165.2 429.0,165.8 429.1,168.0 429.2,169.4 429.3,169.0 429.4,166.5 429.5,163.6 429.6,162.1 429.8,163.3 429.9,165.7 430.0,167.4 430.1,167.0 430.2,164.9 430.3,162.2 430.4,161.3 430.5,162.5 430.6,164.5 430.7,165.2 430.8,164.3 430.9,161.9 431.0,160.0 431.1,160.1 431.2,162.1 431.3,164.0 431.4,164.3 431.5,162.4 431.6,159.5 431.7,157.6 431.8,158.2 431.9,160.4 432.0,162.4 432.1,162.5 432.2,160.7 432.3,158.0 432.4,156.7 432.5,157.5 432.6,159.7 432.7,161.2 432.8,161.0 432.9,159.0 433.0,157.0 433.1,156.7 433.2,158.5 433.3,160.9 433.4,162.1 433.5,161.2 433.6,158.8 433.7,156.8 433.8,157.2 434.0,159.6 434.1,162.3 434.2,163.4 434.3,162.4 434.4,159.8 434.5,158.0 434.6,158.4 434.7,160.4 434.8,162.3 434.9,162.8 435.0,161.3 435.1,159.2 435.2,158.5 435.3,160.0 435.4,162.3 435.5,164.0 435.6,163.7 435.7,161.6 435.8,159.5 435.9,159.5 436.0,161.8 436.1,164.9 436.2,167.0 436.3,166.9 436.4,164.9 436.5,163.2 436.6,163.5 436.7,165.9 436.8,168.6 436.9,170.3 437.0,169.8 437.1,168.2 437.2,167.4 437.3,168.8 437.4,171.3 437.5,173.7 437.6,174.2 437.7,172.5 437.8,170.2 437.9,169.6 438.0,171.1 438.2,173.9 438.3,176.0 438.4,176.0 438.5,173.4 438.6,170.7 438.7,169.5 438.8,170.5 438.9,172.3 439.0,173.5 439.1,172.6 439.2,170.1 439.3,167.9 439.4,167.6 439.5,168.7 439.6,170.3 439.7,170.5 439.8,168.5 439.9,165.4 440.0,163.7 440.1,164.1 440.2,166.3 440.3,168.4 440.4,168.8 440.5,166.6 440.6,163.7 440.7,162.1 440.8,162.7 440.9,164.6 441.0,166.6 441.1,166.5 441.2,164.6 441.3,162.4 441.4,161.9 441.5,162.9 441.6,164.8 441.7,165.8 441.8,164.6 441.9,161.8 442.0,159.8 442.1,159.7 442.2,161.7 442.4,164.1 442.5,165.1 442.6,163.5 442.7,160.6 442.8,158.6 442.9,158.6 443.0,160.4 443.1,162.8 443.2,163.4 443.3,161.9 443.4,159.8 443.5,158.9 443.6,159.6 443.7,161.8 443.8,163.5 443.9,163.2 444.0,161.1 444.1,159.3 444.2,159.2 444.3,161.2 444.4,164.2 444.5,166.2 444.6,165.5 444.7,163.1 444.8,161.0 444.9,160.7 445.0,162.4 445.1,165.3 445.2,166.9 445.3,166.2 445.4,164.4 445.5,163.2 445.6,163.5 445.7,165.5 445.8,167.6 445.9,168.0 446.0,166.3 446.1,164.5 446.2,163.9 446.3,165.5 446.4,168.6 446.6,171.2 446.7,171.2 446.8,169.4 446.9,167.2 447.0,166.6 447.1,168.1 447.2,171.3 447.3,173.6 447.4,173.8 447.5,172.3 447.6,171.0 447.7,170.9 447.8,172.7 447.9,175.2 448.0,176.2 448.1,175.1 448.2,173.1 448.3,171.8 448.4,172.4 448.5,174.8 448.6,177.2 448.7,177.3 448.8,175.2 448.9,172.3 449.0,170.3 449.1,170.5 449.2,172.6 449.3,174.3 449.4,174.0 449.5,171.8 449.6,169.1 449.7,167.5 449.8,168.1 449.9,169.7 450.0,170.6 450.1,169.3 450.2,167.0 450.3,164.8 450.4,164.5 450.5,166.2 450.6,168.7 450.8,169.3 450.9,167.9 451.0,165.1 451.1,163.0 451.2,162.9 451.3,165.2 451.4,167.7 451.5,168.6 451.6,167.3 451.7,165.2 451.8,163.6 451.9,164.2 452.0,166.3 452.1,168.0 452.2,167.8 452.3,166.1 452.4,163.9 452.5,163.2 452.6,164.6 452.7,167.2 452.8,168.4 452.9,167.6 453.0,165.1 453.1,162.6 453.2,161.9 453.3,163.7 453.4,166.2 453.5,167.5 453.6,166.6 453.7,164.4 453.8,162.3 453.9,162.3 454.0,164.2 454.1,166.3 454.2,166.9 454.3,165.9 454.4,164.0 454.5,163.1 454.6,164.3 454.7,167.2 454.8,169.2 455.0,169.2 455.1,167.3 455.2,164.9 455.3,163.9 455.4,165.6 455.5,168.4 455.6,170.5 455.7,170.5 455.8,168.7 455.9,166.6 456.0,166.2 456.1,167.8 456.2,170.3 456.3,171.5 456.4,171.0 456.5,169.1 456.6,167.7 456.7,168.3 456.8,170.8 456.9,173.2 457.0,174.0 457.1,172.7 457.2,170.4 457.3,169.1 457.4,170.4 457.5,173.3 457.6,176.0 457.7,176.9 457.8,175.7 457.9,173.4 458.0,172.5 458.1,173.7 458.2,176.1 458.3,177.8 458.4,178.0 458.5,176.3 458.6,174.5 458.7,174.3 458.8,176.2 458.9,178.2 459.0,178.9 459.2,177.5 459.3,174.5 459.4,171.9 459.5,171.9 459.6,173.9 459.7,176.1 459.8,176.7 459.9,175.2 460.0,171.9 460.1,169.5 460.2,169.3 460.3,170.7 460.4,172.0 460.5,172.1 460.6,170.2 460.7,167.8 460.8,166.7 460.9,167.9 461.0,169.8 461.1,171.1 461.2,170.4 461.3,167.9 461.4,165.3 461.5,165.0 461.6,166.7 461.7,169.4 461.8,170.9 461.9,170.3 462.0,167.9 462.1,165.8 462.2,165.6 462.3,167.4 462.4,169.5 462.5,170.6 462.6,169.4 462.7,167.1 462.8,165.6 462.9,166.2 463.0,168.0 463.1,169.6 463.2,169.4 463.4,167.1 463.5,164.2 463.6,163.2 463.7,164.4 463.8,166.9 463.9,168.8 464.0,168.7 464.1,166.3 464.2,163.8 464.3,163.0 464.4,164.3 464.5,166.6 464.6,168.3 464.7,167.8 464.8,165.9 464.9,164.3 465.0,164.7 465.1,166.6 465.2,169.1 465.3,170.1 465.4,169.0 465.5,166.7 465.6,165.8 465.7,167.0 465.8,169.9 465.9,172.7 466.0,173.8 466.1,172.4 466.2,170.3 466.3,169.4 466.4,170.6 466.5,173.3 466.6,175.8 466.7,176.2 466.8,174.8 466.9,173.2 467.0,173.1 467.1,174.8 467.2,177.4 467.3,179.0 467.5,178.5 467.6,176.3 467.7,175.0 467.8,175.6 467.9,178.2 468.0,181.2 468.1,182.9 468.2,181.7 468.3,179.3 468.4,177.7 468.5,178.1 468.6,180.2 468.7,182.8 468.8,183.6 468.9,182.2 469.0,180.0 469.1,179.0 469.2,179.5 469.3,181.4 469.4,182.8 469.5,182.0 469.6,179.3 469.7,176.9 469.8,175.9 469.9,177.0 470.0,179.1 470.1,180.2 470.2,178.6 470.3,175.4 470.4,172.4 470.5,171.3 470.6,172.2 470.7,174.2 470.8,174.8 470.9,173.4 471.0,170.7 471.1,168.7 471.2,168.3 471.3,169.7 471.4,171.2 471.5,171.1 471.7,168.9 471.8,166.4 471.9,165.1 472.0,166.1 472.1,168.5 472.2,170.5 472.3,170.1 472.4,167.8 472.5,165.1 472.6,164.1 472.7,165.1 472.8,167.7 472.9,169.3 473.0,168.8 473.1,166.7 473.2,164.6 473.3,163.9 473.4,165.3 473.5,167.2 473.6,167.8 473.7,166.2 473.8,164.0 473.9,162.4 474.0,163.0 474.1,165.3 474.2,167.8 474.3,168.0 474.4,166.1 474.5,163.5 474.6,161.9 474.7,162.6 474.8,165.5 474.9,167.9 475.0,168.6 475.1,167.3 475.2,165.7 475.3,165.2 475.4,166.9 475.5,169.8 475.6,171.8 475.7,171.8 475.9,170.6 476.0,169.5 476.1,170.2 476.2,173.0 476.3,176.5 476.4,178.2 476.5,177.7 476.6,175.8 476.7,174.5 476.8,175.2 476.9,178.2 477.0,181.3 477.1,182.7 477.2,181.9 477.3,180.1 477.4,178.9 477.5,179.8 477.6,182.2 477.7,184.2 477.8,184.2 477.9,182.9 478.0,181.1 478.1,180.7 478.2,182.5 478.3,185.4 478.4,186.8 478.5,186.0 478.6,183.5 478.7,181.0 478.8,180.2 478.9,182.2 479.0,184.8 479.1,186.1 479.2,185.2 479.3,182.9 479.4,180.6 479.5,180.2 479.6,181.7 479.7,183.3 479.8,183.3 479.9,181.5 480.1,178.7 480.2,176.9 480.3,177.2 480.4,179.0 480.5,180.2 480.6,179.4 480.7,176.6 480.8,173.4 480.9,171.5 481.0,172.4 481.1,174.4 481.2,175.8 481.3,175.0 481.4,172.6 481.5,169.7 481.6,168.6 481.7,169.6 481.8,171.4 481.9,172.1 482.0,171.2 482.1,169.0 482.2,167.3 482.3,167.6 482.4,169.8 482.5,171.8 482.6,172.2 482.7,170.6 482.8,167.9 482.9,166.2 483.0,167.2 483.1,169.8 483.2,172.1 483.3,172.6 483.4,171.1 483.5,168.6 483.6,167.3 483.7,168.2 483.8,170.3 483.9,171.7 484.0,171.6 484.1,169.8 484.3,167.9 484.4,167.7 484.5,169.5 484.6,171.5 484.7,172.4 484.8,171.2 484.9,168.6 485.0,166.4 485.1,166.9 485.2,169.3 485.3,172.0 485.4,173.3 485.5,172.5 485.6,170.3 485.7,168.9 485.8,169.7 485.9,172.2 486.0,174.5 486.1,175.6 486.2,174.8 486.3,173.5 486.4,173.5 486.5,175.5 486.6,178.3 486.7,180.3 486.8,180.4 486.9,178.8 487.0,177.0 487.1,177.2 487.2,179.5 487.3,182.5 487.4,184.5 487.5,184.3 487.6,182.1 487.7,180.3 487.8,180.3 487.9,182.1 488.0,184.3 488.1,185.5 488.2,184.7 488.3,182.7 488.5,181.6 488.6,182.5 488.7,184.4 488.8,186.1 488.9,186.2 489.0,184.2 489.1,181.6 489.2,180.7 489.3,181.9 489.4,184.3 489.5,186.0 489.6,185.9 489.7,183.4 489.8,180.8 489.9,179.7 490.0,180.6 490.1,182.3 490.2,183.4 490.3,182.5 490.4,180.1 490.5,178.0 490.6,177.7 490.7,178.7 490.8,180.1 490.9,180.1 491.0,178.1 491.1,175.0 491.2,173.2 491.3,173.3 491.4,175.1 491.5,176.7 491.6,176.8 491.7,174.4 491.8,171.4 491.9,169.6 492.0,169.8 492.1,171.4 492.2,173.0 492.3,172.8 492.4,171.0 492.5,168.9 492.7,168.5 492.8,169.4 492.9,171.3 493.0,172.3 493.1,171.3 493.2,168.9 493.3,167.3 493.4,167.5 493.5,169.5 493.6,172.0 493.7,173.2 493.8,171.8 493.9,169.2 494.0,167.4 494.1,167.4 494.2,169.1 494.3,171.4 494.4,172.2 494.5,171.0 494.6,169.2 494.7,168.4 494.8,169.1 494.9,171.0 495.0,172.5 495.1,172.2 495.2,170.2 495.3,168.6 495.4,168.5 495.5,170.4 495.6,173.3 495.7,175.3 495.8,174.9 495.9,173.1 496.0,171.5 496.1,171.7 496.2,173.7 496.3,176.7 496.4,178.6 496.5,178.5 496.6,177.3 496.7,176.8 496.9,177.6 497.0,180.0 497.1,182.5 497.2,183.4 497.3,182.4 497.4,181.2 497.5,180.9 497.6,182.6 497.7,185.6 497.8,188.0 497.9,188.0 498.0,186.2 498.1,184.1 498.2,183.2 498.3,184.3 498.4,186.8 498.5,188.5 498.6,188.2 498.7,186.4 498.8,184.7 498.9,184.1 499.0,185.3 499.1,187.0 499.2,187.5 499.3,186.0 499.4,183.9 499.5,182.3 499.6,182.5 499.7,184.3 499.8,186.2 499.9,186.0 500.0,183.9 500.1,181.0 500.2,179.2 500.3,179.2 500.4,181.2 500.5,182.8 500.6,182.7 500.7,180.8 500.8,178.6 500.9,177.2 501.1,177.6 501.2,179.0 501.3,179.6 501.4,178.3 501.5,176.1 501.6,174.1 501.7,173.6 501.8,174.9 501.9,176.7 502.0,177.0 502.1,175.3 502.2,172.5 502.3,170.3 502.4,169.9 502.5,171.6 502.6,173.5 502.7,174.0 502.8,172.7 502.9,170.7 503.0,169.2 503.1,169.6 503.2,171.3 503.3,172.8 503.4,172.7 503.5,171.4 503.6,169.7 503.7,169.3 503.8,170.8 503.9,173.4 504.0,174.5 504.1,173.9 504.2,171.7 504.3,169.7 504.4,169.1 504.5,171.0 504.6,173.5 504.7,174.9 504.8,174.4 504.9,172.8 505.0,171.1 505.2,171.2 505.3,172.9 505.4,174.8 505.5,175.3 505.6,174.5 505.7,172.9 505.8,172.2 505.9,173.4 506.0,175.9 506.1,177.7 506.2,178.0 506.3,176.6 506.4,174.9 506.5,174.4 506.6,176.2 506.7,179.0 506.8,181.2 506.9,181.6 507.0,180.6 507.1,179.3 507.2,179.5 507.3,181.4 507.4,183.9 507.5,185.5 507.6,185.5 507.7,184.4 507.8,183.6 507.9,184.5 508.0,186.9 508.1,188.9 508.2,189.6 508.3,188.4 508.4,186.3 508.5,184.9 508.6,185.8 508.7,187.9 508.8,189.8 508.9,190.1 509.0,188.7 509.1,186.2 509.2,184.9 509.4,185.3 509.5,186.7 509.6,187.5 509.7,187.1 509.8,185.2 509.9,183.2 510.0,182.7 510.1,183.9 510.2,185.2 510.3,185.5 510.4,184.0 510.5,181.3 510.6,179.0 510.7,178.8 510.8,180.3 510.9,182.0 511.0,182.4 511.1,181.0 511.2,178.2 511.3,176.2 511.4,175.9 511.5,177.0 511.6,178.0 511.7,177.8 511.8,176.0 511.9,173.7 512.0,172.5 512.1,173.0 512.2,174.2 512.3,174.9 512.4,173.9 512.5,171.4 512.6,168.9 512.7,168.1 512.8,169.2 512.9,170.9 513.0,171.8 513.1,170.9 513.2,168.5 513.3,166.4 513.4,165.9 513.6,167.0 513.7,168.6 513.8,169.5 513.9,168.7 514.0,167.1 514.1,166.2 514.2,167.1 514.3,168.7 514.4,170.3 514.5,170.4 514.6,168.9 514.7,166.9 514.8,166.5 514.9,168.0 515.0,170.5 515.1,172.6 515.2,173.0 515.3,171.4 515.4,169.7 515.5,169.4 515.6,170.7 515.7,172.9 515.8,174.8 515.9,175.0 516.0,173.9 516.1,173.2 516.2,174.0 516.3,175.9 516.4,178.1 516.5,179.2 516.6,178.6 516.7,177.1 516.8,176.8 516.9,178.2 517.0,181.0 517.1,183.8 517.2,185.1 517.3,184.2 517.4,182.8 517.5,182.3 517.6,183.6 517.8,185.9 517.9,188.1 518.0,188.7 518.1,187.8 518.2,186.7 518.3,186.8 518.4,188.0 518.5,190.0 518.6,191.1 518.7,190.4 518.8,188.5 518.9,187.2 519.0,187.4 519.1,189.0 519.2,191.0 519.3,191.8 519.4,190.3 519.5,187.8 519.6,185.8 519.7,185.4 519.8,186.4 519.9,187.8 520.0,187.9 520.1,186.3 520.2,184.1 520.3,182.8 520.4,182.6 520.5,183.5 520.6,184.1 520.7,183.1 520.8,180.6 520.9,178.5 521.0,177.7 521.1,178.5 521.2,180.2 521.3,181.1 521.4,179.8 521.5,177.3 521.6,175.0 521.7,174.2 521.8,174.9 522.0,176.5 522.1,177.0 522.2,175.9 522.3,173.8 522.4,172.2 522.5,171.8 522.6,172.9 522.7,173.9 522.8,173.7 522.9,171.9 523.0,169.9 523.1,168.8 523.2,169.4 523.3,171.1 523.4,172.5 523.5,172.1 523.6,170.1 523.7,168.0 523.8,167.1 523.9,167.8 524.0,169.9 524.1,171.4 524.2,171.3 524.3,169.9 524.4,168.8 524.5,168.5 524.6,169.7 524.7,171.5 524.8,172.3 524.9,171.4 525.0,170.1 525.1,169.3 525.2,170.1 525.3,172.3 525.4,174.6 525.5,175.1 525.6,174.1 525.7,172.4 525.8,171.5 525.9,172.4 526.0,174.8 526.2,177.1 526.3,177.8 526.4,177.1 526.5,176.1 526.6,175.7 526.7,176.9 526.8,179.0 526.9,180.4 527.0,180.3 527.1,179.4 527.2,178.5 527.3,179.1 527.4,181.2 527.5,183.8 527.6,184.9 527.7,184.3 527.8,182.7 527.9,181.6 528.0,182.0 528.1,184.3 528.2,186.7 528.3,187.8 528.4,187.3 528.5,186.1 528.6,185.0 528.7,185.6 528.8,187.2 528.9,188.5 529.0,188.3 529.1,187.3 529.2,185.8 529.3,185.4 529.4,186.5 529.5,188.4 529.6,189.0 529.7,187.9 529.8,185.5 529.9,183.2 530.0,182.1 530.1,183.1 530.2,184.7 530.4,185.4 530.5,184.4 530.6,182.3 530.7,180.1 530.8,179.4 530.9,180.0 531.0,180.9 531.1,180.5 531.2,179.1 531.3,177.0 531.4,175.7 531.5,176.0 531.6,177.5 531.7,178.2 531.8,177.5 531.9,175.3 532.0,172.9 532.1,171.4 532.2,172.2 532.3,173.8 532.4,174.9 532.5,174.5 532.6,172.8 532.7,170.6 532.8,169.7 532.9,170.4 533.0,171.6 533.1,171.9 533.2,171.2 533.3,169.5 533.4,168.1 533.5,168.2 533.6,169.7 533.7,170.9 533.8,171.0 533.9,169.6 534.0,167.4 534.1,166.0 534.2,166.8 534.3,168.7 534.4,170.6 534.6,171.1 534.7,170.2 534.8,168.3 534.9,167.5 535.0,168.3 535.1,170.0 535.2,171.2 535.3,171.6 535.4,170.7 535.5,169.8 535.6,170.1 535.7,172.0 535.8,174.0 535.9,175.1 536.0,174.7 536.1,173.3 536.2,172.1 536.3,173.0 536.4,175.3 536.5,177.7 536.6,179.1 536.7,179.0 536.8,177.5 536.9,176.7 537.0,177.4 537.1,179.2 537.2,181.0 537.3,181.9 537.4,181.3 537.5,180.2 537.6,180.2 537.7,181.6 537.8,183.6 537.9,185.0 538.0,185.0 538.1,183.6 538.2,182.2 538.3,182.5 538.4,184.4 538.5,186.8 538.7,188.4 538.8,188.4 538.9,186.7 539.0,185.2 539.1,185.1 539.2,186.2 539.3,187.6 539.4,188.5 539.5,187.7 539.6,186.1 539.7,185.0 539.8,185.4 539.9,186.4 540.0,187.2 540.1,186.7 540.2,184.7 540.3,182.2 540.4,181.1 540.5,181.5 540.6,182.9 540.7,183.8 540.8,183.3 540.9,180.8 541.0,178.2 541.1,176.7 541.2,176.8 541.3,177.5 541.4,178.1 541.5,177.1 541.6,175.2 541.7,173.4 541.8,173.1 541.9,173.7 542.0,174.7 542.1,174.6 542.2,173.1 542.3,170.8 542.4,169.4 542.5,169.5 542.6,170.8 542.7,172.1 542.9,172.1 543.0,170.3 543.1,168.0 543.2,166.5 543.3,166.6 543.4,167.6 543.5,169.0 543.6,168.9 543.7,167.6 543.8,166.1 543.9,165.7 544.0,166.3 544.1,167.5 544.2,168.1 544.3,167.2 544.4,165.3 544.5,164.1 544.6,164.3 544.7,166.0 544.8,168.0 544.9,169.1 545.0,168.1 545.1,166.4 545.2,165.3 545.3,165.7 545.4,167.3 545.5,169.4 545.6,170.4 545.7,170.0 545.8,169.1 545.9,169.1 546.0,170.1 546.1,172.1 546.2,173.8 546.3,174.1 546.4,173.2 546.5,172.5 546.6,173.0 546.7,174.9 546.8,177.5 546.9,179.4 547.1,179.2 547.2,177.9 547.3,176.7 547.4,176.9 547.5,178.3 547.6,180.8 547.7,182.3 547.8,182.3 547.9,181.4 548.0,181.0 548.1,181.4 548.2,183.0 548.3,184.7 548.4,185.1 548.5,184.1 548.6,183.0 548.7,182.7 548.8,183.8 548.9,185.9 549.0,187.6 549.1,187.3 549.2,185.8 549.3,183.9 549.4,183.0 549.5,183.6 549.6,185.3 549.7,186.4 549.8,186.0 549.9,184.4 550.0,182.9 550.1,182.1 550.2,182.7 550.3,183.6 550.4,183.6 550.5,182.1 550.6,180.2 550.7,178.7 550.8,178.5 550.9,179.6 551.0,180.7 551.1,180.1 551.3,178.0 551.4,175.4 551.5,173.5 551.6,173.1 551.7,174.2 551.8,175.2 551.9,174.8 552.0,173.1 552.1,171.3 552.2,169.9 552.3,170.0 552.4,170.9 552.5,171.2 552.6,170.1 552.7,168.6 552.8,167.1 552.9,166.9 553.0,168.1 553.1,169.7 553.2,169.9 553.3,168.8 553.4,166.7 553.5,165.0 553.6,164.8 553.7,166.2 553.8,167.8 553.9,168.3 554.0,167.4 554.1,165.9 554.2,164.6 554.3,164.7 554.4,165.8 554.5,166.7 554.6,166.4 554.7,165.6 554.8,164.4 554.9,164.3 555.0,165.6 555.1,167.7 555.2,168.7 555.3,168.4 555.5,167.0 555.6,165.6 555.7,165.5 555.8,167.2 555.9,169.4 556.0,170.8 556.1,170.9 556.2,170.0 556.3,169.1 556.4,169.5 556.5,171.1 556.6,173.0 556.7,173.7 556.8,173.7 556.9,173.0 557.0,173.0 557.1,174.4 557.2,176.8 557.3,178.4 557.4,178.7 557.5,177.7 557.6,176.4 557.7,176.0 557.8,177.4 557.9,179.7 558.0,181.4 558.1,181.7 558.2,180.9 558.3,179.5 558.4,179.3 558.5,180.3 558.6,181.9 558.7,182.6 558.8,182.5 558.9,181.5 559.0,180.7 559.1,181.2 559.2,182.9 559.3,184.1 559.4,184.2 559.5,182.9 559.7,180.9 559.8,179.5 559.9,179.9 560.0,181.4 560.1,182.6 560.2,182.7 560.3,181.3 560.4,179.2 560.5,177.8 560.6,177.9 560.7,178.7 560.8,179.1 560.9,178.6 561.0,177.0 561.1,175.3 561.2,174.7 561.3,175.4 561.4,176.0 561.5,175.9 561.6,174.3 561.7,171.8 561.8,169.6 561.9,169.3 562.0,170.2 562.1,171.3 562.2,171.5 562.3,170.4 562.4,168.1 562.5,166.4 562.6,166.1 562.7,166.9 562.8,167.6 562.9,167.6 563.0,166.4 563.1,164.8 563.2,164.0 563.3,164.7 563.4,165.8 563.5,166.5 563.6,166.0 563.7,164.3 563.9,162.5 564.0,162.3 564.1,163.4 564.2,165.2 564.3,166.2 564.4,165.9 564.5,164.1 564.6,162.6 564.7,162.3 564.8,163.3 564.9,164.6 565.0,165.4 565.1,164.9 565.2,163.7 565.3,163.1 565.4,163.8 565.5,165.3 565.6,166.7 565.7,167.1 565.8,166.1 565.9,164.8 566.0,164.8 566.1,166.1 566.2,168.3 566.3,170.2 566.4,170.8 566.5,169.7 566.6,168.5 566.7,168.4 566.8,169.7 566.9,171.5 567.0,173.2 567.1,173.5 567.2,172.9 567.3,172.4 567.4,173.2 567.5,174.7 567.6,176.4 567.7,177.2 567.8,176.6 567.9,175.3 568.1,174.9 568.2,175.9 568.3,177.8 568.4,179.7 568.5,180.5 568.6,179.4 568.7,177.8 568.8,177.0 568.9,177.5 569.0,178.9 569.1,180.4 569.2,180.6 569.3,179.6 569.4,178.4 569.5,178.2 569.6,178.8 569.7,180.0 569.8,180.5 569.9,179.6 570.0,177.7 570.1,176.4 570.2,176.3 570.3,177.4 570.4,178.7 570.5,179.2 570.6,177.7 570.7,175.5 570.8,173.8 570.9,173.3 571.0,173.9 571.1,175.1 571.2,175.2 571.3,173.9 571.4,172.2 571.5,171.2 571.6,171.0 571.7,171.5 571.8,171.8 571.9,170.9 572.0,168.8 572.1,167.1 572.3,166.5 572.4,167.2 572.5,168.5 572.6,169.3 572.7,168.0 572.8,165.9 572.9,163.9 573.0,163.0 573.1,163.5 573.2,164.9 573.3,165.6 573.4,164.9 573.5,163.6 573.6,162.6 573.7,162.4 573.8,163.2 573.9,164.2 574.0,164.1 574.1,162.7 574.2,161.3 574.3,160.7 574.4,161.4 574.5,163.1 574.6,164.5 574.7,164.3 574.8,163.0 574.9,161.4 575.0,160.9 575.1,161.6 575.2,163.4 575.3,164.7 575.4,164.7 575.5,163.7 575.6,162.8 575.7,162.7 575.8,163.9 575.9,165.4 576.0,166.1 576.1,165.6 576.2,164.6 576.4,164.1 576.5,164.9 576.6,166.7 576.7,168.7 576.8,169.3 576.9,168.6 577.0,167.4 577.1,166.8 577.2,167.6 577.3,169.8 577.4,171.7 577.5,172.5 577.6,172.1 577.7,171.4 577.8,171.1 577.9,172.2 578.0,173.9 578.1,175.1 578.2,174.9 578.3,174.2 578.4,173.5 578.5,173.9 578.6,175.5 578.7,177.4 578.8,178.0 578.9,177.2 579.0,175.5 579.1,174.1 579.2,174.0 579.3,175.6 579.4,177.3 579.5,177.9 579.6,177.2 579.7,176.0 579.8,174.7 579.9,174.7 580.0,175.6 580.1,176.3 580.2,175.7 580.3,174.6 580.4,173.1 580.6,172.5 580.7,173.2 580.8,174.6 580.9,174.9 581.0,173.9 581.1,171.8 581.2,169.8 581.3,168.8 581.4,169.6 581.5,170.9 581.6,171.4 581.7,170.6 581.8,168.9 581.9,167.1 582.0,166.5 582.1,167.1 582.2,167.8 582.3,167.5 582.4,166.3 582.5,164.6 582.6,163.6 582.7,163.8 582.8,165.0 582.9,165.5 583.0,164.9 583.1,163.1 583.2,161.1 583.3,160.0 583.4,160.6 583.5,162.0 583.6,162.9 583.7,162.6 583.8,161.4 583.9,159.7 584.0,159.1 584.1,159.8 584.2,160.9 584.3,161.4 584.4,161.0 584.5,159.8 584.6,158.9 584.8,159.2 584.9,160.7 585.0,161.9 585.1,162.3 585.2,161.4 585.3,159.9 585.4,159.0 585.5,159.8 585.6,161.5 585.7,163.1 585.8,163.7 585.9,163.1 586.0,161.7 586.1,161.2 586.2,162.0 586.3,163.6 586.4,164.7 586.5,165.1 586.6,164.4 586.7,163.6 586.8,163.9 586.9,165.5 587.0,167.1 587.1,168.1 587.2,167.8 587.3,166.6 587.4,165.7 587.5,166.4 587.6,168.2 587.7,170.2 587.8,171.3 587.9,171.1 588.0,169.9 588.1,169.1 588.2,169.6 588.3,171.1 588.4,172.4 588.5,173.1 588.6,172.6 588.7,171.7 588.8,171.5 589.0,172.6 589.1,173.8 589.2,174.7 589.3,174.2 589.4,172.7 589.5,171.1 589.6,171.0 589.7,172.1 589.8,173.7 589.9,174.6 590.0,174.2 590.1,172.3 590.2,170.5 590.3,169.9 590.4,170.4 590.5,171.1 590.6,171.6 590.7,170.8 590.8,169.3 590.9,168.3 591.0,168.5 591.1,169.3 591.2,170.0 591.3,169.6 591.4,168.0 591.5,166.0 591.6,165.2 591.7,165.7 591.8,167.0 591.9,167.9 592.0,167.6 592.1,165.7 592.2,163.8 592.3,162.8 592.4,163.0 592.5,163.8 592.6,164.5 592.7,163.9 592.8,162.4 592.9,161.1 593.0,161.0 593.2,161.5 593.3,162.4 593.4,162.4 593.5,161.1 593.6,159.2 593.7,158.4 593.8,158.8 593.9,160.2 594.0,161.7 594.1,162.1 594.2,160.7 594.3,158.9 594.4,157.9 594.5,158.2 594.6,159.3 594.7,160.6 594.8,160.7 594.9,159.9 595.0,158.9 595.1,158.8 595.2,159.5 595.3,160.8 595.4,161.4 595.5,160.9 595.6,159.5 595.7,158.8 595.8,159.2 595.9,160.7 596.0,162.6 596.1,163.7 596.2,162.9 596.3,161.5 596.4,160.6 596.5,160.8 596.6,162.1 596.7,163.8 596.8,164.6 596.9,164.2 597.0,163.3 597.1,163.2 597.2,163.7 597.4,165.1 597.5,166.3 597.6,166.3 597.7,165.2 597.8,164.5 597.9,164.7 598.0,166.1 598.1,168.1 598.2,169.6 598.3,169.3 598.4,168.1 598.5,166.9 598.6,166.9 598.7,167.9 598.8,169.7 598.9,170.6 599.0,170.3 599.1,169.3 599.2,168.6 599.3,168.6 599.4,169.6 599.5,170.6 599.6,170.6 599.7,169.3 599.8,168.2 599.9,167.7 600.0,168.5 600.1,170.0 600.2,171.2 600.3,170.6 600.4,168.9 600.5,167.0 600.6,166.0 600.7,166.1 600.8,167.6 600.9,168.5 601.0,168.2 601.1,166.9 601.2,165.7 601.3,164.9 601.4,165.2 601.6,165.9 601.7,165.8 601.8,164.4 601.9,163.0 602.0,162.0 602.1,162.2 602.2,163.3 602.3,164.5 602.4,164.2 602.5,162.7 602.6,160.8 602.7,159.4 602.8,159.3 602.9,160.6 603.0,161.7 603.1,161.7 603.2,160.6 603.3,159.4 603.4,158.3 603.5,158.5 603.6,159.4 603.7,159.7 603.8,158.9 603.9,157.7 604.0,156.6 604.1,156.6 604.2,157.7 604.3,159.2 604.4,159.5 604.5,158.5 604.6,156.9 604.7,155.6 604.8,155.5 604.9,156.9 605.0,158.5 605.1,159.2 605.2,158.7 605.3,157.7 605.4,156.8 605.5,157.1 605.6,158.2 605.8,159.2 605.9,159.2 606.0,158.5 606.1,157.7 606.2,157.6 606.3,158.8 606.4,160.6 606.5,161.6 606.6,161.4 606.7,160.3 606.8,159.2 606.9,159.1 607.0,160.6 607.1,162.5 607.2,163.6 607.3,163.6 607.4,162.8 607.5,161.9 607.6,162.0 607.7,163.2 607.8,164.6 607.9,165.0 608.0,164.8 608.1,164.0 608.2,163.8 608.3,164.8 608.4,166.6 608.5,167.7 608.6,167.8 608.7,166.7 608.8,165.4 608.9,164.8 609.0,165.8 609.1,167.5 609.2,168.8 609.3,168.9 609.4,168.0 609.5,166.5 609.6,166.0 609.7,166.6 609.8,167.6 610.0,168.0 610.1,167.6 610.2,166.5 610.3,165.7 610.4,165.9 610.5,167.1 610.6,167.8 610.7,167.6 610.8,166.3 610.9,164.3 611.0,162.9 611.1,163.3 611.2,164.5 611.3,165.7 611.4,165.8 611.5,164.7 611.6,162.8 611.7,161.7 611.8,161.7 611.9,162.5 612.0,162.8 612.1,162.5 612.2,161.1 612.3,159.8 612.4,159.4 612.5,160.2 612.6,161.0 612.7,161.2 612.8,160.2 612.9,158.4 613.0,156.9 613.1,157.0 613.2,158.1 613.3,159.4 613.4,159.9 613.5,159.2 613.6,157.4 613.7,156.0 613.8,155.9 613.9,156.7 614.1,157.4 614.2,157.6 614.3,156.7 614.4,155.5 614.5,155.1 614.6,155.8 614.7,156.8 614.8,157.5 614.9,157.0 615.0,155.6 615.1,154.2 615.2,154.2 615.3,155.3 615.4,157.0 615.5,158.0 615.6,158.0 615.7,156.6 615.8,155.4 615.9,155.3 616.0,156.3 616.1,157.5 616.2,158.4 616.3,158.2 616.4,157.4 616.5,157.0 616.6,157.8 616.7,159.2 616.8,160.4 616.9,160.7 617.0,159.8 617.1,158.6 617.2,158.6 617.3,159.7 617.4,161.6 617.5,163.1 617.6,163.6 617.7,162.4 617.8,161.1 617.9,160.8 618.0,161.6 618.1,162.8 618.3,164.1 618.4,164.2 618.5,163.5 618.6,162.9 618.7,163.4 618.8,164.4 618.9,165.6 619.0,166.0 619.1,165.2 619.2,163.8 619.3,163.3 619.4,163.8 619.5,165.3 619.6,166.7 619.7,167.2 619.8,166.1 619.9,164.5 620.0,163.6 620.1,163.9 620.2,164.9 620.3,166.1 620.4,166.1 620.5,165.2 620.6,164.1 620.7,163.8 620.8,164.0 620.9,164.8 621.0,164.9 621.1,163.9 621.2,162.1 621.3,161.0 621.4,160.9 621.5,161.8 621.6,163.0 621.7,163.5 621.8,162.2 621.9,160.2 622.0,158.7 622.1,158.3 622.2,158.8 622.3,160.0 622.5,160.3 622.6,159.5 622.7,158.3 622.8,157.7 622.9,157.6 623.0,158.2 623.1,158.6 623.2,158.0 623.3,156.3 623.4,155.3 623.5,155.0 623.6,156.0 623.7,157.5 623.8,158.5 623.9,157.6 624.0,155.9 624.1,154.4 624.2,153.8 624.3,154.3 624.4,155.7 624.5,156.5 624.6,156.0 624.7,154.9 624.8,154.2 624.9,154.1 625.0,155.0 625.1,155.9 625.2,155.9 625.3,154.8 625.4,153.9 625.5,153.5 625.6,154.4 625.7,156.0 625.8,157.4 625.9,157.2 626.0,156.1 626.1,154.8 626.2,154.3 626.3,154.9 626.4,156.7 626.5,158.1 626.7,158.2 626.8,157.6 626.9,157.0 627.0,156.9 627.1,158.0 627.2,159.3 627.3,159.9 627.4,159.4 627.5,158.7 627.6,158.4 627.7,159.1 627.8,160.8 627.9,162.6 628.0,162.8 628.1,162.0 628.2,160.6 628.3,159.9 628.4,160.2 628.5,162.0 628.6,163.5 628.7,163.9 628.8,163.3 628.9,162.6 629.0,162.0 629.1,162.7 629.2,163.8 629.3,164.6 629.4,164.1 629.5,163.2 629.6,162.4 629.7,162.5 629.8,163.6 629.9,165.1 630.0,165.4 630.1,164.5 630.2,162.9 630.3,161.6 630.4,161.3 630.5,162.6 630.6,164.0 630.7,164.5 630.9,163.9 631.0,162.7 631.1,161.5 631.2,161.4 631.3,162.2 631.4,162.7 631.5,162.2 631.6,161.1 631.7,159.8 631.8,159.3 631.9,159.9 632.0,161.2 632.1,161.4 632.2,160.6 632.3,158.8 632.4,157.1 632.5,156.3 632.6,157.3 632.7,158.6 632.8,159.3 632.9,158.8 633.0,157.6 633.1,156.1 633.2,155.6 633.3,156.2 633.4,156.8 633.5,156.7 633.6,156.0 633.7,154.8 633.8,154.2 633.9,154.7 634.0,156.1 634.1,156.8 634.2,156.6 634.3,155.3 634.4,153.7 634.5,152.9 634.6,153.8 634.7,155.2 634.8,156.3 634.9,156.3 635.1,155.4 635.2,153.9 635.3,153.4 635.4,154.0 635.5,155.1 635.6,155.5 635.7,155.3 635.8,154.4 635.9,153.8 636.0,154.3 636.1,155.7 636.2,156.9 636.3,157.2 636.4,156.4 636.5,155.1 636.6,154.3 636.7,155.1 636.8,156.7 636.9,158.3 637.0,158.8 637.1,158.4 637.2,157.1 637.3,156.6 637.4,157.3 637.5,158.6 637.6,159.5 637.7,159.8 637.8,159.3 637.9,158.7 638.0,159.0 638.1,160.4 638.2,161.6 638.3,162.3 638.4,161.8 638.5,160.5 638.6,159.5 638.7,159.9 638.8,161.4 638.9,163.0 639.0,163.8 639.1,163.5 639.3,162.1 639.4,161.2 639.5,161.3 639.6,162.3 639.7,163.2 639.8,163.6 639.9,163.0 640.0,162.1 640.1,161.8 640.2,162.6 640.3,163.6 640.4,164.2 640.5,163.8 640.6,162.4 640.7,160.9 640.8,160.8 640.9,161.7 641.0,163.1 641.1,163.9 641.2,163.6 641.3,161.9 641.4,160.4 641.5,159.9 641.6,160.3 641.7,161.0 641.8,161.4 641.9,160.6 642.0,159.3 642.1,158.3 642.2,158.5 642.3,159.1 642.4,159.6 642.5,159.2 642.6,157.7 642.7,155.9 642.8,155.4 642.9,156.0 643.0,157.4 643.1,158.4 643.2,158.4 643.3,156.8 643.5,155.1 643.6,154.3 643.7,154.6 643.8,155.4 643.9,156.1 644.0,155.8 644.1,154.7 644.2,153.8 644.3,153.9 644.4,154.5 644.5,155.4 644.6,155.6 644.7,154.7 644.8,153.2 644.9,152.6 645.0,153.1 645.1,154.4 645.2,155.8 645.3,156.3 645.4,155.2 645.5,153.8 645.6,153.1 645.7,153.5 645.8,154.6 645.9,155.9 646.0,156.3 646.1,155.6 646.2,154.9 646.3,155.0 646.4,155.6 646.5,156.7 646.6,157.3 646.7,156.9 646.8,155.6 646.9,155.1 647.0,155.6 647.1,157.1 647.2,158.8 647.3,159.9 647.4,159.3 647.5,158.2 647.7,157.4 647.8,157.7 647.9,159.0 648.0,160.6 648.1,161.3 648.2,160.9 648.3,160.1 648.4,160.0 648.5,160.4 648.6,161.6 648.7,162.5 648.8,162.3 648.9,161.2 649.0,160.5 649.1,160.6 649.2,161.7 649.3,163.4 649.4,164.5 649.5,164.1 649.6,162.7 649.7,161.5 649.8,161.3 649.9,162.0 650.0,163.5 650.1,164.2 650.2,163.9 650.3,162.8 650.4,162.2 650.5,162.0 650.6,162.8 650.7,163.6 650.8,163.4 650.9,162.2 651.0,161.1 651.1,160.5 651.2,161.0 651.3,162.3 651.4,163.3 651.5,162.8 651.6,161.2 651.8,159.5 651.9,158.6 652.0,158.8 652.1,160.0 652.2,160.8 652.3,160.5 652.4,159.3 652.5,158.3 652.6,157.6 652.7,158.1 652.8,158.8 652.9,158.8 653.0,157.7 653.1,156.5 653.2,155.7 653.3,155.9 653.4,157.0 653.5,158.2 653.6,158.0 653.7,156.7 653.8,155.1 653.9,154.0 654.0,154.0 654.1,155.3 654.2,156.4 654.3,156.5 654.4,155.6 654.5,154.6 654.6,153.9 654.7,154.4 654.8,155.4 654.9,156.0 655.0,155.5 655.1,154.6 655.2,153.8 655.3,153.9 655.4,155.0 655.5,156.5 655.6,156.8 655.7,156.1 655.8,154.6 656.0,153.5 656.1,153.4 656.2,154.9 656.3,156.4 656.4,157.1 656.5,156.8 656.6,156.0 656.7,155.2 656.8,155.6 656.9,156.7 657.0,157.7 657.1,157.7 657.2,157.4 657.3,156.8 657.4,157.0 657.5,158.3 657.6,160.1 657.7,160.9 657.8,160.7 657.9,159.5 658.0,158.4 658.1,158.2 658.2,159.7 658.3,161.5 658.4,162.7 658.5,162.8 658.6,162.2 658.7,161.2 658.8,161.2 658.9,162.1 659.0,163.2 659.1,163.4 659.2,163.1 659.3,162.3 659.4,162.0 659.5,162.8 659.6,164.4 659.7,165.2 659.8,165.1 659.9,163.9 660.0,162.5 660.2,161.8 660.3,162.6 660.4,164.1 660.5,165.1 660.6,165.1 660.7,164.2 660.8,162.7 660.9,162.1 661.0,162.5 661.1,163.3 661.2,163.5 661.3,163.1 661.4,162.0 661.5,161.1 661.6,161.3 661.7,162.3 661.8,163.0 661.9,162.9 662.0,161.6 662.1,159.9 662.2,158.7 662.3,159.0 662.4,160.2 662.5,161.2 662.6,161.3 662.7,160.4 662.8,158.6 662.9,157.6 663.0,157.6 663.1,158.3 663.2,158.6 663.3,158.4 663.4,157.4 663.5,156.4 663.6,156.3 663.7,157.2 663.8,157.9 663.9,158.1 664.0,157.1 664.1,155.5 664.2,154.1 664.4,154.2 664.5,155.3 664.6,156.6 664.7,157.1 664.8,156.6 664.9,155.1 665.0,154.1 665.1,154.1 665.2,155.0 665.3,155.9 665.4,156.2 665.5,155.6 665.6,154.6 665.7,154.4 665.8,155.2 665.9,156.3 666.0,157.1 666.1,156.9 666.2,155.7 666.3,154.6 666.4,154.8 666.5,156.1 666.6,157.8 666.7,158.9 666.8,159.1 666.9,157.8 667.0,156.8 667.1,156.7 667.2,157.6 667.3,158.7 667.4,159.8 667.5,159.8 667.6,159.2 667.7,159.1 667.8,160.0 667.9,161.2 668.0,162.3 668.1,162.5 668.2,161.7 668.3,160.6 668.4,160.6 668.6,161.8 668.7,163.6 668.8,165.0 668.9,165.5 669.0,164.5 669.1,163.4 669.2,163.0 669.3,163.8 669.4,164.9 669.5,166.0 669.6,165.9 669.7,165.1 669.8,164.4 669.9,164.7 670.0,165.4 670.1,166.4 670.2,166.5 670.3,165.6 670.4,164.2 670.5,163.6 670.6,164.0 670.7,165.2 670.8,166.5 670.9,166.8 671.0,165.6 671.1,164.0 671.2,163.0 671.3,163.1 671.4,163.9 671.5,164.9 671.6,164.9 671.7,163.9 671.8,162.8 671.9,162.5 672.0,162.7 672.1,163.4 672.2,163.5 672.3,162.6 672.4,160.9 672.5,159.8 672.6,159.7 672.8,160.5 672.9,161.6 673.0,162.0 673.1,160.9 673.2,159.1 673.3,157.7 673.4,157.4 673.5,157.9 673.6,159.0 673.7,159.2 673.8,158.4 673.9,157.2 674.0,156.6 674.1,156.6 674.2,157.4 674.3,157.9 674.4,157.4 674.5,156.0 674.6,155.0 674.7,154.9 674.8,155.8 674.9,157.2 675.0,158.1 675.1,157.6 675.2,156.3 675.3,155.1 675.4,154.8 675.5,155.6 675.6,157.0 675.7,157.9 675.8,157.6 675.9,156.8 676.0,156.4 676.1,156.4 676.2,157.4 676.3,158.5 676.4,158.7 676.5,157.8 676.6,157.2 676.7,157.1 676.8,158.1 677.0,159.9 677.1,161.4 677.2,161.4 677.3,160.3 677.4,159.2 677.5,158.8 677.6,159.4 677.7,161.2 677.8,162.6 677.9,162.9 678.0,162.5 678.1,162.1 678.2,162.0 678.3,163.0 678.4,164.2 678.5,164.8 678.6,164.3 678.7,163.7 678.8,163.4 678.9,164.1 679.0,165.7 679.1,167.3 679.2,167.6 679.3,166.7 679.4,165.5 679.5,164.7 679.6,165.0 679.7,166.6 679.8,168.0 679.9,168.5 680.0,167.9 680.1,167.1 680.2,166.5 680.3,166.9 680.4,167.8 680.5,168.2 680.6,167.6 680.7,166.8 680.8,165.9 680.9,166.0 681.0,167.0 681.2,168.4 681.3,168.4 681.4,167.4 681.5,165.7 681.6,164.3 681.7,163.8 681.8,164.9 681.9,166.0 682.0,166.3 682.1,165.6 682.2,164.4 682.3,163.2 682.4,163.1 682.5,163.7 682.6,164.1 682.7,163.6 682.8,162.6 682.9,161.4 683.0,160.9 683.1,161.4 683.2,162.5 683.3,162.8 683.4,161.9 683.5,160.3 683.6,158.7 683.7,158.0 683.8,158.9 683.9,160.2 684.0,160.8 684.1,160.5 684.2,159.4 684.3,158.0 684.4,157.6 684.5,158.0 684.6,158.7 684.7,158.5 684.8,158.0 684.9,157.0 685.0,156.5 685.1,157.1 685.2,158.5 685.4,159.2 685.5,159.0 685.6,157.8 685.7,156.4 685.8,155.7 685.9,156.8 686.0,158.4 686.1,159.7 686.2,160.0 686.3,159.4 686.4,158.3 686.5,158.0 686.6,158.8 686.7,160.0 686.8,160.6 686.9,160.6 687.0,160.0 687.1,159.6 687.2,160.3 687.3,161.8 687.4,163.1 687.5,163.6 687.6,163.1 687.7,162.0 687.8,161.5 687.9,162.5 688.0,164.2 688.1,165.8 688.2,166.6 688.3,166.3 688.4,165.3 688.5,164.9 688.6,165.6 688.7,166.9 688.8,167.8 688.9,168.2 689.0,167.7 689.1,167.2 689.2,167.5 689.3,168.8 689.5,169.9 689.6,170.5 689.7,170.0 689.8,168.8 689.9,167.7 690.0,168.2 690.1,169.6 690.2,171.2 690.3,172.0 690.4,171.7 690.5,170.2 690.6,169.2 690.7,169.2 690.8,169.9 690.9,170.5 691.0,170.8 691.1,170.1 691.2,169.0 691.3,168.5 691.4,169.1 691.5,169.9 691.6,170.3 691.7,169.7 691.8,168.2 691.9,166.6 692.0,166.2 692.1,166.8 692.2,167.8 692.3,168.3 692.4,167.7 692.5,166.1 692.6,164.6 692.7,164.1 692.8,164.5 692.9,165.1 693.0,165.4 693.1,164.5 693.2,163.2 693.3,162.3 693.4,162.4 693.5,162.9 693.7,163.3 693.8,162.9 693.9,161.5 694.0,159.8 694.1,159.3 694.2,159.8 694.3,160.9 694.4,161.8 694.5,161.7 694.6,160.3 694.7,158.8 694.8,158.1 694.9,158.5 695.0,159.4 695.1,160.1 695.2,159.9 695.3,158.9 695.4,158.2 695.5,158.4 695.6,159.1 695.7,160.0 695.8,160.3 695.9,159.6 696.0,158.3 696.1,158.0 696.2,158.7 696.3,160.3 696.4,161.9 696.5,162.6 696.6,161.7 696.7,160.6 696.8,160.0 696.9,160.5 697.0,161.7 697.1,163.2 697.2,163.7 697.3,163.4 697.4,162.9 697.5,163.3 697.6,164.2 697.7,165.6 697.9,166.5 698.0,166.4 698.1,165.5 698.2,165.2 698.3,165.8 698.4,167.4 698.5,169.1 698.6,170.2 698.7,169.8 698.8,168.8 698.9,168.1 699.0,168.4 699.1,169.5 699.2,171.3 699.3,172.2 699.4,172.0 699.5,171.5 699.6,171.5 699.7,171.9 699.8,173.0 699.9,173.8 700.0,173.6 700.1,172.4 700.2,171.7 700.3,171.8 700.4,172.8 700.5,174.3 700.6,175.4 700.7,174.7 700.8,173.3 700.9,171.9 701.0,171.4 701.1,171.8 701.2,173.1 701.3,173.7 701.4,173.3 701.5,172.2 701.6,171.4 701.7,171.0 701.8,171.5 701.9,171.9 702.1,171.6 702.2,170.2 702.3,168.8 702.4,168.1 702.5,168.3 702.6,169.2 702.7,170.0 702.8,169.3 702.9,167.7 703.0,165.9 703.1,164.8 703.2,164.9 703.3,166.0 703.4,166.7 703.5,166.3 703.6,165.2 703.7,164.2 703.8,163.4 703.9,163.7 704.0,164.2 704.1,164.2 704.2,163.0 704.3,161.9 704.4,161.0 704.5,161.2 704.6,162.2 704.7,163.3 704.8,163.1 704.9,161.9 705.0,160.4 705.1,159.4 705.2,159.4 705.3,160.7 705.4,161.9 705.5,162.1 705.6,161.5 705.7,160.7 705.8,160.1 705.9,160.5 706.0,161.6 706.1,162.2 706.3,161.9 706.4,161.3 706.5,160.7 706.6,161.1 706.7,162.5 706.8,164.2 706.9,164.9 707.0,164.5 707.1,163.6 707.2,162.9 707.3,163.2 707.4,164.9 707.5,166.6 707.6,167.6 707.7,167.6 707.8,167.1 707.9,166.7 708.0,167.2 708.1,168.5 708.2,169.6 708.3,169.8 708.4,169.7 708.5,169.4 708.6,169.7 708.7,171.1 708.8,173.1 708.9,174.0 709.0,173.8 709.1,172.9 709.2,171.9 709.3,171.8 709.4,173.3 709.5,175.1 709.6,176.3 709.7,176.5 709.8,175.9 709.9,175.0 710.0,175.0 710.1,175.8 710.2,176.8 710.3,176.9 710.5,176.6 710.6,175.7 710.7,175.3 710.8,175.9 710.9,177.2 711.0,177.8 711.1,177.6 711.2,176.3 711.3,174.8 711.4,173.9 711.5,174.5 711.6,175.6 711.7,176.3 711.8,176.0 711.9,174.8 712.0,173.2 712.1,172.4 712.2,172.5 712.3,173.0 712.4,173.0 712.5,172.4 712.6,171.2 712.7,170.2 712.8,170.1 712.9,170.9 713.0,171.2 713.1,170.8 713.2,169.4 713.3,167.4 713.4,166.0 713.5,166.1 713.6,167.1 713.7,167.9 713.8,167.9 713.9,166.9 714.0,165.1 714.1,164.0 714.2,163.9 714.3,164.4 714.4,164.6 714.5,164.5 714.7,163.5 714.8,162.6 714.9,162.5 715.0,163.5 715.1,164.1 715.2,164.2 715.3,163.3 715.4,161.8 715.5,160.5 715.6,160.8 715.7,162.1 715.8,163.6 715.9,164.4 716.0,164.2 716.1,162.9 716.2,162.0 716.3,162.2 716.4,163.2 716.5,164.2 716.6,164.9 716.7,164.6 716.8,164.1 716.9,164.2 717.0,165.4 717.1,166.7 717.2,167.7 717.3,167.7 717.4,166.9 717.5,166.1 717.6,166.6 717.7,168.2 717.8,170.1 717.9,171.5 718.0,171.9 718.1,171.1 718.2,170.4 718.3,170.7 718.4,171.8 718.5,173.2 718.6,174.4 718.7,174.6 718.9,174.2 719.0,174.2 719.1,175.3 719.2,176.5 719.3,177.6 719.4,177.9 719.5,177.1 719.6,176.0 719.7,176.1 719.8,177.1 719.9,178.7 720.0,180.0 720.1,180.4 720.2,179.3 720.3,178.2 720.4,177.8 720.5,178.4 720.6,179.4 720.7,180.4 720.8,180.3 720.9,179.4 721.0,178.6 721.1,178.7 721.2,179.3 721.3,180.0 721.4,180.0 721.5,178.9 721.6,177.3 721.7,176.5 721.8,176.6 721.9,177.5 722.0,178.4 722.1,178.3 722.2,176.9 722.3,175.0 722.4,173.7 722.5,173.5 722.6,173.9 722.7,174.6 722.8,174.4 722.9,173.2 723.1,172.0 723.2,171.6 723.3,171.5 723.4,171.9 723.5,171.8 723.6,170.7 723.7,168.8 723.8,167.6 723.9,167.3 724.0,168.0 724.1,168.9 724.2,169.1 724.3,167.9 724.4,166.2 724.5,164.8 724.6,164.4 724.7,164.9 724.8,166.0 724.9,166.2 725.0,165.5 725.1,164.5 725.2,164.0 725.3,164.1 725.4,164.8 725.5,165.3 725.6,164.9 725.7,163.6 725.8,162.8 725.9,162.8 726.0,163.9 726.1,165.4 726.2,166.6 726.3,166.2 726.4,165.1 726.5,164.1 726.6,164.0 726.7,164.9 726.8,166.7 726.9,167.8 727.0,168.0 727.2,167.6 727.3,167.5 727.4,167.9 727.5,169.2 727.6,170.5 727.7,171.0 727.8,170.5 727.9,170.2 728.0,170.4 728.1,171.7 728.2,173.6 728.3,175.3 728.4,175.6 728.5,174.9 728.6,174.1 728.7,174.0 728.8,174.9 728.9,176.9 729.0,178.4 729.1,179.0 729.2,178.7 729.3,178.5 729.4,178.5 729.5,179.4 729.6,180.6 729.7,181.2 729.8,180.6 729.9,180.1 730.0,179.7 730.1,180.4 730.2,181.8 730.3,183.3 730.4,183.4 730.5,182.5 730.6,181.2 730.7,180.4 730.8,180.5 730.9,181.9 731.0,183.0 731.1,183.2 731.2,182.5 731.4,181.5 731.5,180.6 731.6,180.7 731.7,181.3 731.8,181.5 731.9,180.7 732.0,179.5 732.1,178.4 732.2,178.1 732.3,178.8 732.4,179.7 732.5,179.5 732.6,178.3 732.7,176.4 732.8,174.7 732.9,174.1 733.0,174.7 733.1,175.5 733.2,175.5 733.3,174.4 733.4,173.0 733.5,171.6 733.6,171.2 733.7,171.6 733.8,171.8 733.9,171.1 734.0,170.0 734.1,168.7 734.2,168.2 734.3,168.7 734.4,169.7 734.5,169.8 734.6,168.9 734.7,167.3 734.8,165.7 734.9,165.0 735.0,165.7 735.1,166.9 735.2,167.4 735.3,167.0 735.4,166.0 735.6,164.8 735.7,164.6 735.8,165.4 735.9,166.3 736.0,166.4 736.1,166.1 736.2,165.4 736.3,165.1 736.4,165.9 736.5,167.5 736.6,168.4 736.7,168.5 736.8,167.7 736.9,166.7 737.0,166.4 737.1,167.6 737.2,169.4 737.3,170.9 737.4,171.5 737.5,171.2 737.6,170.4 737.7,170.5 737.8,171.5 737.9,172.9 738.0,173.8 738.1,174.3 738.2,174.1 738.3,174.1 738.4,175.1 738.5,176.9 738.6,178.3 738.7,179.0 738.8,178.7 738.9,177.9 739.0,177.5 739.1,178.5 739.2,180.3 739.3,182.0 739.4,182.7 739.5,182.5 739.6,181.6 739.8,181.3 739.9,181.9 740.0,183.1 740.1,183.9 740.2,184.3 740.3,183.7 740.4,183.1 740.5,183.3 740.6,184.4 740.7,185.3 740.8,185.7 740.9,185.0 741.0,183.7 741.1,182.5 741.2,182.7 741.3,183.8 741.4,185.1 741.5,185.6 741.6,185.0 741.7,183.3 741.8,182.0 741.9,181.7 742.0,182.1 742.1,182.4 742.2,182.4 742.3,181.3 742.4,180.0 742.5,179.3 742.6,179.6 742.7,180.0 742.8,180.0 742.9,179.1 743.0,177.4 743.1,175.5 743.2,174.9 743.3,175.2 743.4,175.9 743.5,176.2 743.6,175.4 743.7,173.5 743.8,171.8 744.0,171.0 744.1,171.2 744.2,171.5 744.3,171.7 744.4,171.0 744.5,169.7 744.6,168.9 744.7,169.1 744.8,169.4 744.9,169.7 745.0,169.2 745.1,167.7 745.2,166.0 745.3,165.5 745.4,166.1 745.5,167.3 745.6,168.3 745.7,168.3 745.8,167.2 745.9,166.0 746.0,165.6 746.1,166.2 746.2,167.3 746.3,168.3 746.4,168.4 746.5,167.7 746.6,167.3 746.7,167.8 746.8,168.7 746.9,169.9 747.0,170.4 747.1,170.0 747.2,169.0 747.3,169.0 747.4,170.0 747.5,171.8 747.6,173.7 747.7,174.7 747.8,174.1 747.9,173.3 748.0,173.0 748.2,173.8 748.3,175.2 748.4,177.0 748.5,177.9 748.6,177.9 748.7,177.8 748.8,178.5 748.9,179.4 749.0,180.8 749.1,181.7 749.2,181.5 749.3,180.6 749.4,180.5 749.5,181.3 749.6,182.9 749.7,184.8 749.8,186.0 749.9,185.6 750.0,184.6 750.1,183.9 750.2,184.1 750.3,185.2 750.4,186.7 750.5,187.4 750.6,187.1 750.7,186.4 750.8,186.2 750.9,186.3 751.0,187.1 751.1,187.5 751.2,187.0 751.3,185.6 751.4,184.6 751.5,184.3 751.6,185.0 751.7,186.0 751.8,186.7 751.9,185.7 752.0,184.0 752.1,182.4 752.2,181.6 752.4,181.8 752.5,182.7 752.6,183.0 752.7,182.2 752.8,180.9 752.9,179.9 753.0,179.2 753.1,179.4 753.2,179.6 753.3,179.0 753.4,177.4 753.5,175.8 753.6,174.9 753.7,174.9 753.8,175.6 753.9,176.1 754.0,175.2 754.1,173.5 754.2,171.6 754.3,170.5 754.4,170.4 754.5,171.3 754.6,171.8 754.7,171.4 754.8,170.2 754.9,169.2 755.0,168.4 755.1,168.7 755.2,169.3 755.3,169.2 755.4,168.2 755.5,167.2 755.6,166.6 755.7,166.9 755.8,168.1 755.9,169.4 756.0,169.4 756.1,168.5 756.2,167.2 756.3,166.4 756.4,166.7 756.6,168.3 756.7,169.8 756.8,170.4 756.9,170.2 757.0,169.8 757.1,169.4 757.2,170.1 757.3,171.3 757.4,172.2 757.5,172.1 757.6,171.8 757.7,171.6 757.8,172.3 757.9,174.0 758.0,176.0 758.1,176.9 758.2,176.8 758.3,176.2 758.4,175.8 758.5,176.4 758.6,178.2 758.7,180.1 758.8,181.3 758.9,181.5 759.0,181.2 759.1,180.8 759.2,181.5 759.3,182.8 759.4,183.9 759.5,184.2 759.6,184.1 759.7,183.8 759.8,184.2 759.9,185.5 760.0,187.3 760.1,188.1 760.2,187.9 760.3,186.8 760.4,185.7 760.5,185.5 760.6,186.6 760.8,188.1 760.9,188.9 761.0,188.7 761.1,187.8 761.2,186.7 761.3,186.6 761.4,187.2 761.5,187.9 761.6,187.8 761.7,187.1 761.8,186.0 761.9,185.2 762.0,185.5 762.1,186.4 762.2,186.6 762.3,186.0 762.4,184.4 762.5,182.6 762.6,181.4 762.7,181.7 762.8,182.5 762.9,182.9 763.0,182.3 763.1,181.0 763.2,179.1 763.3,178.0 763.4,177.9 763.5,178.1 763.6,177.7 763.7,177.0 763.8,175.6 763.9,174.4 764.0,174.2 764.1,174.8 764.2,175.0 764.3,174.5 764.4,172.9 764.5,171.0 764.6,169.5 764.7,169.6 764.9,170.5 765.0,171.4 765.1,171.4 765.2,170.5 765.3,168.8 765.4,167.9 765.5,167.9 765.6,168.6 765.7,169.0 765.8,169.0 765.9,168.3 766.0,167.5 766.1,167.6 766.2,168.7 766.3,169.6 766.4,170.1 766.5,169.6 766.6,168.4 766.7,167.5 766.8,168.0 766.9,169.4 767.0,171.0 767.1,171.9 767.2,171.9 767.3,171.0 767.4,170.6 767.5,171.2 767.6,172.6 767.7,173.9 767.8,174.8 767.9,174.8 768.0,174.6 768.1,175.0 768.2,176.4 768.3,177.8 768.4,178.8 768.5,179.0 768.6,178.3 768.7,177.5 768.8,178.2 768.9,179.8 769.1,181.8 769.2,183.2 769.3,183.7 769.4,183.0 769.5,182.5 769.6,182.8 769.7,184.1 769.8,185.4 769.9,186.5 770.0,186.5 770.1,186.0 770.2,185.9 770.3,186.7 770.4,187.7 770.5,188.7 770.6,188.8 770.7,187.9 770.8,186.6 770.9,186.4 771.0,187.2 771.1,188.5 771.2,189.5 771.3,189.5 771.4,188.3 771.5,186.9 771.6,186.2 771.7,186.5 771.8,187.1 771.9,187.7 772.0,187.2 772.1,186.0 772.2,184.9 772.3,184.7 772.4,184.8 772.5,185.2 772.6,184.8 772.7,183.5 772.8,181.5 772.9,180.5 773.0,180.4 773.1,181.1 773.3,181.8 773.4,181.7 773.5,179.9 773.6,177.9 773.7,176.4 773.8,175.9 773.9,176.0 774.0,176.6 774.1,176.2 774.2,175.0 774.3,173.7 774.4,173.1 774.5,172.9 774.6,173.2 774.7,173.0 774.8,171.8 774.9,169.9 775.0,168.9 775.1,168.9 775.2,169.7 775.3,170.8 775.4,171.3 775.5,170.2 775.6,168.6 775.7,167.3 775.8,167.1 775.9,167.7 776.0,168.9 776.1,169.3 776.2,168.8 776.3,168.1 776.4,167.9 776.5,168.2 776.6,169.2 776.7,170.0 776.8,169.9 776.9,169.0 777.0,168.5 777.1,168.7 777.2,170.0 777.3,171.7 777.5,173.1 777.6,173.0 777.7,172.2 777.8,171.5 777.9,171.7 778.0,172.9 778.1,174.8 778.2,176.1 778.3,176.5 778.4,176.3 778.5,176.4 778.6,176.9 778.7,178.3 778.8,179.7 778.9,180.4 779.0,180.0 779.1,179.8 779.2,180.1 779.3,181.3 779.4,183.3 779.5,185.0 779.6,185.2 779.7,184.4 779.8,183.5 779.9,183.3 780.0,184.1 780.1,185.9 780.2,187.2 780.3,187.6 780.4,187.1 780.5,186.7 780.6,186.5 780.7,187.3 780.8,188.2 780.9,188.5 781.0,187.8 781.1,187.0 781.2,186.5 781.3,186.9 781.4,188.1 781.5,189.3 781.7,189.0 781.8,187.8 781.9,186.1 782.0,184.8 782.1,184.6 782.2,185.6 782.3,186.4 782.4,186.2 782.5,185.2 782.6,183.9 782.7,182.7 782.8,182.5 782.9,182.7 783.0,182.5 783.1,181.4 783.2,180.0 783.3,178.7 783.4,178.1 783.5,178.6 783.6,179.3 783.7,179.0 783.8,177.6 783.9,175.7 784.0,174.0 784.1,173.3 784.2,173.9 784.3,174.6 784.4,174.5 784.5,173.4 784.6,172.0 784.7,170.7 784.8,170.4 784.9,170.8 785.0,171.2 785.1,170.6 785.2,169.6 785.3,168.3 785.4,167.8 785.5,168.3 785.6,169.3 785.7,169.6 785.9,169.0 786.0,167.6 786.1,166.3 786.2,165.8 786.3,166.9 786.4,168.3 786.5,169.2 786.6,169.2 786.7,168.5 786.8,167.6 786.9,167.7 787.0,168.7 787.1,169.8 787.2,170.2 787.3,170.1 787.4,169.7 787.5,169.8 787.6,170.9 787.7,172.7 787.8,173.8 787.9,174.1 788.0,173.5 788.1,172.6 788.2,172.4 788.3,173.9 788.4,176.0 788.5,177.7 788.6,178.4 788.7,178.3 788.8,177.6 788.9,177.7 789.0,178.8 789.1,180.2 789.2,181.0 789.3,181.4 789.4,181.2 789.5,181.1 789.6,182.0 789.7,183.7 789.8,184.9 789.9,185.3 790.1,184.8 790.2,183.7 790.3,183.0 790.4,183.9 790.5,185.5 790.6,187.0 790.7,187.5 790.8,187.1 790.9,186.0 791.0,185.4 791.1,185.8 791.2,186.7 791.3,187.2 791.4,187.2 791.5,186.4 791.6,185.4 791.7,185.3 791.8,186.0 791.9,186.7 792.0,186.7 792.1,185.8 792.2,184.1 792.3,182.7 792.4,182.5 792.5,183.2 792.6,184.1 792.7,184.2 792.8,183.3 792.9,181.4 793.0,179.8 793.1,179.3 793.2,179.4 793.3,179.5 793.4,179.3 793.5,178.2 793.6,176.7 793.7,175.9 793.8,176.1 793.9,176.4 794.0,176.4 794.1,175.4 794.3,173.6 794.4,171.8 794.5,171.3 794.6,171.7 794.7,172.5 794.8,172.9 794.9,172.3 795.0,170.5 795.1,168.9 795.2,168.2 795.3,168.4 795.4,168.8 795.5,169.1 795.6,168.4 795.7,167.3 795.8,166.6 795.9,166.8 796.0,167.6 796.1,168.2 796.2,168.1 796.3,167.1 796.4,165.9 796.5,165.6 796.6,166.4 796.7,167.9 796.8,169.1 796.9,169.4 797.0,168.5 797.1,167.5 797.2,167.4 797.3,168.2 797.4,169.5 797.5,170.7 797.6,170.9 797.7,170.5 797.8,170.2 797.9,170.8 798.0,172.0 798.1,173.4 798.2,174.2 798.3,173.9 798.5,173.2 798.6,173.3 798.7,174.3 798.8,176.1 798.9,177.9 799.0,178.8 799.1,178.4 799.2,177.6 799.3,177.4 799.4,178.2 799.5,179.6 799.6,181.1 799.7,181.8 799.8,181.6 799.9,181.2 800.0,181.6 800.1,182.4 800.2,183.7 800.3,184.5 800.4,184.2 800.5,183.2 800.6,182.8 800.7,183.2 800.8,184.5 800.9,185.9 801.0,186.7 801.1,186.0 801.2,184.7 801.3,183.7 801.4,183.6 801.5,184.3 801.6,185.4 801.7,185.7 801.8,185.1 801.9,184.0 802.0,183.5 802.1,183.3 802.2,183.7 802.3,183.9 802.4,183.1 802.6,181.5 802.7,180.2 802.8,179.7 802.9,180.1 803.0,180.9 803.1,181.3 803.2,180.3 803.3,178.5 803.4,176.8 803.5,176.0 803.6,176.1 803.7,176.7 803.8,176.8 803.9,175.8 804.0,174.3 804.1,173.1 804.2,172.5 804.3,172.7 804.4,172.9 804.5,172.4 804.6,170.9 804.7,169.5 804.8,168.7 804.9,168.8 805.0,169.7 805.1,170.4 805.2,169.7 805.3,168.1 805.4,166.4 805.5,165.5 805.6,165.6 805.7,166.8 805.8,167.5 805.9,167.4 806.0,166.6 806.1,165.8 806.2,165.3 806.3,165.7 806.4,166.5 806.5,166.7 806.6,165.9 806.8,165.2 806.9,164.9 807.0,165.5 807.1,167.0 807.2,168.6 807.3,168.9 807.4,168.1 807.5,167.1 807.6,166.5 807.7,167.0 807.8,168.8 807.9,170.5 808.0,171.2 808.1,171.1 808.2,170.9 808.3,170.7 808.4,171.5 808.5,172.8 808.6,173.7 808.7,173.7 808.8,173.5 808.9,173.3 809.0,174.0 809.1,175.6 809.2,177.5 809.3,178.3 809.4,178.1 809.5,177.3 809.6,176.8 809.7,177.1 809.8,178.7 809.9,180.4 810.0,181.3 810.1,181.1 810.2,180.6 810.3,180.0 810.4,180.4 810.5,181.5 810.6,182.4 810.7,182.4 810.8,182.0 811.0,181.4 811.1,181.5 811.2,182.5 811.3,184.0 811.4,184.4 811.5,183.9 811.6,182.5 811.7,181.2 811.8,180.6 811.9,181.5 812.0,182.7 812.1,183.3 812.2,182.8 812.3,181.7 812.4,180.2 812.5,179.6 812.6,179.8 812.7,180.1 812.8,179.6 812.9,178.8 813.0,177.5 813.1,176.6 813.2,176.7 813.3,177.5 813.4,177.6 813.5,176.8 813.6,175.1 813.7,173.1 813.8,171.8 813.9,172.1 814.0,173.0 814.1,173.6 814.2,173.2 814.3,172.0 814.4,170.2 814.5,169.1 814.6,169.1 814.7,169.4 814.8,169.1 814.9,168.5 815.0,167.2 815.2,166.2 815.3,166.1 815.4,166.9 815.5,167.4 815.6,167.2 815.7,166.1 815.8,164.5 815.9,163.4 816.0,163.7 816.1,164.8 816.2,165.8 816.3,165.9 816.4,165.2 816.5,163.9 816.6,163.3 816.7,163.7 816.8,164.7 816.9,165.4 817.0,165.6 817.1,165.0 817.2,164.4 817.3,164.6 817.4,165.9 817.5,167.1 817.6,167.8 817.7,167.6 817.8,166.7 817.9,166.0 818.0,166.7 818.1,168.3 818.2,170.0 818.3,171.1 818.4,171.2 818.5,170.2 818.6,169.7 818.7,170.1 818.8,171.3 818.9,172.4 819.0,173.3 819.1,173.4 819.2,173.1 819.4,173.5 819.5,174.8 819.6,176.0 819.7,177.0 819.8,176.9 819.9,176.1 820.0,175.1 820.1,175.6 820.2,177.0 820.3,178.8 820.4,180.1 820.5,180.4 820.6,179.3 820.7,178.3 820.8,178.2 820.9,178.9 821.0,179.8 821.1,180.6 821.2,180.3 821.3,179.5 821.4,179.1 821.5,179.6 821.6,180.3 821.7,180.9 821.8,180.7 821.9,179.5 822.0,178.0 822.1,177.5 822.2,178.0 822.3,179.0 822.4,179.8 822.5,179.6 822.6,178.1 822.7,176.4 822.8,175.5 822.9,175.5 823.0,176.0 823.1,176.3 823.2,175.7 823.3,174.4 823.4,173.2 823.6,172.9 823.7,173.0 823.8,173.3 823.9,173.0 824.0,171.6 824.1,169.8 824.2,168.8 824.3,168.8 824.4,169.5 824.5,170.3 824.6,170.2 824.7,168.7 824.8,166.8 824.9,165.6 825.0,165.3 825.1,165.7 825.2,166.4 825.3,166.2 825.4,165.2 825.5,164.2 825.6,163.9 825.7,164.0 825.8,164.6 825.9,164.8 826.0,164.0 826.1,162.5 826.2,161.6 826.3,161.7 826.4,162.7 826.5,163.9 826.6,164.5 826.7,163.8 826.8,162.6 826.9,161.8 827.0,161.9 827.1,162.9 827.2,164.2 827.3,164.8 827.4,164.5 827.5,163.9 827.6,163.8 827.8,164.3 827.9,165.5 828.0,166.4 828.1,166.5 828.2,165.7 828.3,165.3 828.4,165.7 828.5,167.0 828.6,168.8 828.7,170.2 828.8,170.0 828.9,169.2 829.0,168.5 829.1,168.6 829.2,169.6 829.3,171.4 829.4,172.5 829.5,172.7 829.6,172.3 829.7,172.2 829.8,172.5 829.9,173.7 830.0,174.8 830.1,175.2 830.2,174.6 830.3,174.0 830.4,173.9 830.5,174.8 830.6,176.3 830.7,177.6 830.8,177.6 830.9,176.6 831.0,175.5 831.1,175.0 831.2,175.5 831.3,177.0 831.4,178.0 831.5,178.0 831.6,177.3 831.7,176.6 831.8,176.0 832.0,176.4 832.1,177.0 832.2,176.9 832.3,175.8 832.4,174.9 832.5,174.1 832.6,174.3 832.7,175.3 832.8,176.3 832.9,175.9 833.0,174.6 833.1,172.8 833.2,171.5 833.3,171.2 833.4,172.1 833.5,172.8 833.6,172.6 833.7,171.5 833.8,170.3 833.9,169.1 834.0,168.9 834.1,169.2 834.2,169.1 834.3,168.0 834.4,166.8 834.5,165.6 834.6,165.2 834.7,165.8 834.8,166.7 834.9,166.6 835.0,165.5 835.1,163.8 835.2,162.4 835.3,162.0 835.4,162.8 835.5,163.7 835.6,163.8 835.7,163.0 835.8,161.9 835.9,160.8 836.0,160.7 836.2,161.4 836.3,161.9 836.4,161.6 836.5,161.0 836.6,160.2 836.7,160.0 836.8,160.9 836.9,162.4 837.0,162.9 837.1,162.4 837.2,161.2 837.3,160.1 837.4,159.8 837.5,161.1 837.6,162.7 837.7,163.8 837.8,164.0 837.9,163.5 838.0,162.7 838.1,162.8 838.2,163.8 838.3,164.9 838.4,165.3 838.5,165.2 838.6,164.8 838.7,164.7 838.8,165.7 838.9,167.4 839.0,168.5 839.1,168.7 839.2,168.0 839.3,167.1 839.4,166.8 839.5,168.0 839.6,169.7 839.7,171.1 839.8,171.5 839.9,171.1 840.0,170.3 840.1,170.2 840.3,171.0 840.4,172.2 840.5,172.8 840.6,172.9 840.7,172.3 840.8,171.9 840.9,172.4 841.0,173.7 841.1,174.7 841.2,174.9 841.3,174.2 841.4,172.9 841.5,172.1 841.6,172.7 841.7,174.0 841.8,175.1 841.9,175.4 842.0,174.7 842.1,173.1 842.2,172.1 842.3,172.1 842.4,172.6 842.5,172.8 842.6,172.7 842.7,171.8 842.8,170.8 842.9,170.6 843.0,171.3 843.1,171.8 843.2,171.8 843.3,170.7 843.4,169.0 843.5,167.5 843.6,167.3 843.7,168.0 843.8,168.8 843.9,169.0 844.0,168.2 844.1,166.4 844.2,165.0 844.3,164.6 844.5,164.9 844.6,165.2 844.7,165.1 844.8,164.1 844.9,162.8 845.0,162.1 845.1,162.5 845.2,163.0 845.3,163.3 845.4,162.6 845.5,161.1 845.6,159.6 845.7,159.3 845.8,160.0 845.9,161.0 846.0,161.6 846.1,161.2 846.2,159.7 846.3,158.5 846.4,158.1 846.5,158.6 846.6,159.4 846.7,160.0 846.8,159.7 846.9,158.9 847.0,158.5 847.1,159.1 847.2,160.0 847.3,160.9 847.4,161.0 847.5,160.1 847.6,159.0 847.7,159.0 847.8,159.9 847.9,161.4 848.0,162.8 848.1,163.2 848.2,162.3 848.3,161.3 848.4,161.1 848.5,161.9 848.7,163.1 848.8,164.4 848.9,164.7 849.0,164.3 849.1,164.0 849.2,164.6 849.3,165.6 849.4,166.7 849.5,167.2 849.6,166.7 849.7,165.6 849.8,165.5 849.9,166.3 850.0,167.9 850.1,169.4 850.2,170.1 850.3,169.4 850.4,168.4 850.5,168.0 850.6,168.5 850.7,169.6 850.8,170.9 850.9,171.2 851.0,170.7 851.1,170.0 851.2,170.1 851.3,170.5 851.4,171.4 851.5,171.8 851.6,171.2 851.7,169.9 851.8,169.2 851.9,169.4 852.0,170.5 852.1,171.8 852.2,172.4 852.3,171.4 852.4,169.9 852.5,168.6 852.6,168.4 852.7,168.8 852.9,169.8 853.0,169.9 853.1,169.0 853.2,167.8 853.3,167.1 853.4,167.0 853.5,167.4 853.6,167.7 853.7,167.0 853.8,165.5 853.9,164.3 854.0,163.8 854.1,164.3 854.2,165.3 854.3,165.8 854.4,164.9 854.5,163.2 854.6,161.6 854.7,160.9 854.8,161.1 854.9,162.1 855.0,162.5 855.1,161.9 855.2,160.7 855.3,159.9 855.4,159.5 855.5,160.0 855.6,160.5 855.7,160.2 855.8,159.0 855.9,157.8 856.0,157.2 856.1,157.6 856.2,158.7 856.3,159.6 856.4,159.3 856.5,158.1 856.6,156.8 856.7,156.2 856.8,156.7 856.9,158.0 857.1,158.9 857.2,158.9 857.3,158.1 857.4,157.5 857.5,157.3 857.6,158.0 857.7,159.1 857.8,159.6 857.9,159.0 858.0,158.4 858.1,158.1 858.2,158.8 858.3,160.3 858.4,161.8 858.5,162.1 858.6,161.5 858.7,160.5 858.8,160.0 858.9,160.5 859.0,162.1 859.1,163.5 859.2,164.0 859.3,163.7 859.4,163.2 859.5,162.9 859.6,163.6 859.7,164.7 859.8,165.5 859.9,165.3 860.0,164.9 860.1,164.5 860.2,164.9 860.3,166.2 860.4,167.8 860.5,168.4 860.6,167.9 860.7,166.8 860.8,166.0 860.9,166.0 861.0,167.3 861.1,168.7 861.3,169.4 861.4,169.0 861.5,168.2 861.6,167.3 861.7,167.3 861.8,168.1 861.9,168.6 862.0,168.3 862.1,167.6 862.2,166.7 862.3,166.5 862.4,167.2 862.5,168.4 862.6,168.7 862.7,168.1 862.8,166.6 862.9,165.2 863.0,164.5 863.1,165.3 863.2,166.4 863.3,166.9 863.4,166.5 863.5,165.4 863.6,163.9 863.7,163.3 863.8,163.5 863.9,163.9 864.0,163.5 864.1,162.8 864.2,161.6 864.3,160.8 864.4,161.1 864.5,162.0 864.6,162.3 864.7,161.8 864.8,160.3 864.9,158.6 865.0,157.6 865.1,158.2 865.2,159.2 865.3,160.0 865.5,159.8 865.6,158.8 865.7,157.3 865.8,156.6 865.9,156.8 866.0,157.4 866.1,157.4 866.2,157.2 866.3,156.4 866.4,155.7 866.5,156.0 866.6,157.2 866.7,157.9 866.8,157.9 866.9,157.0 867.0,155.6 867.1,154.7 867.2,155.2 867.3,156.6 867.4,157.8 867.5,158.2 867.6,157.7 867.7,156.6 867.8,156.0 867.9,156.5 868.0,157.5 868.1,158.3 868.2,158.6 868.3,158.2 868.4,157.8 868.5,158.2 868.6,159.5 868.7,160.6 868.8,161.2 868.9,160.8 869.0,159.7 869.1,158.9 869.2,159.5 869.3,160.9 869.4,162.5 869.5,163.4 869.7,163.3 869.8,162.2 869.9,161.5 870.0,161.8 870.1,162.8 870.2,163.7 870.3,164.4 870.4,164.1 870.5,163.6 870.6,163.6 870.7,164.7 870.8,165.7 870.9,166.4 871.0,166.2 871.1,165.2 871.2,164.0 871.3,164.1 871.4,165.2 871.5,166.5 871.6,167.4 871.7,167.3 871.8,166.0 871.9,164.8 872.0,164.5 872.1,165.1 872.2,165.8 872.3,166.3 872.4,165.8 872.5,164.8 872.6,164.2 872.7,164.5 872.8,165.1 872.9,165.5 873.0,165.1 873.1,163.8 873.2,162.2 873.3,161.7 873.4,162.2 873.5,163.3 873.6,164.1 873.7,163.9 873.9,162.4 874.0,160.9 874.1,160.0 874.2,160.1 874.3,160.7 874.4,161.2 874.5,160.8 874.6,159.7 874.7,158.7 874.8,158.6 874.9,158.9 875.0,159.4 875.1,159.2 875.2,158.1 875.3,156.4 875.4,155.7 875.5,156.0 875.6,157.1 875.7,158.1 875.8,158.4 875.9,157.2 876.0,155.6 876.1,154.7 876.2,154.7 876.3,155.4 876.4,156.4 876.5,156.4 876.6,155.6 876.7,154.8 876.8,154.7 876.9,155.1 877.0,155.9 877.1,156.4 877.2,155.8 877.3,154.6 877.4,154.1 877.5,154.4 877.6,155.7 877.7,157.2 877.8,158.1 878.0,157.4 878.1,156.2 878.2,155.4 878.3,155.6 878.4,156.5 878.5,157.9 878.6,158.6 878.7,158.3 878.8,157.7 878.9,157.7 879.0,158.1 879.1,159.2 879.2,160.1 879.3,160.1 879.4,159.2 879.5,158.7 879.6,158.8 879.7,159.9 879.8,161.5 879.9,162.7 880.0,162.4 880.1,161.3 880.2,160.4 880.3,160.3 880.4,161.1 880.5,162.6 880.6,163.5 880.7,163.5 880.8,162.8 880.9,162.5 881.0,162.6 881.1,163.4 881.2,164.3 881.3,164.4 881.4,163.5 881.5,162.7 881.6,162.5 881.7,163.1 881.8,164.5 881.9,165.6 882.0,165.3 882.2,164.2 882.3,162.8 882.4,162.2 882.5,162.5 882.6,163.8 882.7,164.6 882.8,164.5 882.9,163.6 883.0,162.8 883.1,162.2 883.2,162.6 883.3,163.2 883.4,163.3 883.5,162.3 883.6,161.2 883.7,160.4 883.8,160.5 883.9,161.5 884.0,162.4 884.1,162.1 884.2,160.9 884.3,159.2 884.4,158.0 884.5,157.9 884.6,158.8 884.7,159.7 884.8,159.6 884.9,158.7 885.0,157.5 885.1,156.7 885.2,156.8 885.3,157.4 885.4,157.6 885.5,156.9 885.6,155.9 885.7,155.0 885.8,154.9 885.9,155.8 886.0,156.9 886.1,157.0 886.2,156.1 886.4,154.7 886.5,153.5 886.6,153.2 886.7,154.3 886.8,155.5 886.9,155.9 887.0,155.4 887.1,154.5 887.2,153.7 887.3,153.9 887.4,154.8 887.5,155.6 887.6,155.5 887.7,155.0 887.8,154.3 887.9,154.3 888.0,155.3 888.1,156.8 888.2,157.4 888.3,157.1 888.4,156.1 888.5,155.1 888.6,154.9 888.7,156.1 888.8,157.6 888.9,158.6 889.0,158.6 889.1,157.9 889.2,157.1 889.3,157.2 889.4,158.2 889.5,159.2 889.6,159.5 889.7,159.4 889.8,158.8 889.9,158.7 890.0,159.6 890.1,161.1 890.2,162.0 890.3,162.1 890.4,161.2 890.6,160.1 890.7,159.6 890.8,160.7 890.9,162.2 891.0,163.4 891.1,163.6 891.2,163.1 891.3,161.9 891.4,161.6 891.5,162.1 891.6,163.0 891.7,163.3 891.8,163.2 891.9,162.5 892.0,161.9 892.1,162.2 892.2,163.4 892.3,164.2 892.4,164.3 892.5,163.4 892.6,162.1 892.7,161.1 892.8,161.5 892.9,162.5 893.0,163.4 893.1,163.5 893.2,162.7 893.3,161.2 893.4,160.3 893.5,160.4 893.6,161.0 893.7,161.3 893.8,161.2 893.9,160.3 894.0,159.3 894.1,159.1 894.2,159.8 894.3,160.3 894.4,160.3 894.5,159.3 894.6,157.6 894.8,156.2 894.9,156.3 895.0,157.3 895.1,158.4 895.2,158.8 895.3,158.3 895.4,156.6 895.5,155.4 895.6,155.1 895.7,155.6 895.8,156.1 895.9,156.3 896.0,155.5 896.1,154.6 896.2,154.2 896.3,154.9 896.4,155.5 896.5,155.9 896.6,155.4 896.7,154.1 896.8,152.7 896.9,152.7 897.0,153.6 897.1,154.9 897.2,155.8 897.3,155.7 897.4,154.5 897.5,153.4 897.6,153.3 897.7,154.1 897.8,155.0 897.9,155.8 898.0,155.6 898.1,154.9 898.2,154.6 898.3,155.3 898.4,156.3 898.5,157.1 898.6,157.2 898.7,156.4 898.8,155.2 899.0,155.2 899.1,156.2 899.2,157.8 899.3,159.2 899.4,159.6 899.5,158.6 899.6,157.6 899.7,157.3 899.8,158.0 899.9,159.1 900.0,160.3 900.1,160.6 900.2,160.1 900.3,159.8 900.4,160.3 900.5,161.1 900.6,162.1 900.7,162.5 900.8,161.8 900.9,160.6 901.0,160.3 901.1,161.0 901.2,162.4 901.3,163.7 901.4,164.2 901.5,163.3 901.6,162.0 901.7,161.2 901.8,161.5 901.9,162.3 902.0,163.4 902.1,163.6 902.2,162.9 902.3,162.1 902.4,162.0 902.5,162.4 902.6,163.2 902.7,163.4 902.8,162.7 902.9,161.3 903.0,160.6 903.2,160.7 903.3,161.7 903.4,162.8 903.5,163.4 903.6,162.4 903.7,160.9 903.8,159.7 903.9,159.4 904.0,159.9 904.1,160.9 904.2,161.1 904.3,160.4 904.4,159.3 904.5,158.7 904.6,158.6 904.7,159.1 904.8,159.4 904.9,158.7 905.0,157.2 905.1,156.2 905.2,155.8 905.3,156.5 905.4,157.6 905.5,158.3 905.6,157.4 905.7,155.9 905.8,154.5 905.9,153.9 906.0,154.2 906.1,155.5 906.2,156.1 906.3,155.8 906.4,154.9 906.5,154.4 906.6,154.2 906.7,154.8 906.8,155.4 906.9,155.3 907.0,154.3 907.1,153.4 907.2,153.0 907.4,153.6 907.5,154.9 907.6,156.0 907.7,155.8 907.8,154.7 907.9,153.6 908.0,153.1 908.1,153.6 908.2,155.2 908.3,156.3 908.4,156.6 908.5,156.0 908.6,155.6 908.7,155.5 908.8,156.2 908.9,157.3 909.0,157.7 909.1,157.2 909.2,156.7 909.3,156.4 909.4,157.1 909.5,158.6 909.6,160.2 909.7,160.4 909.8,159.6 909.9,158.5 910.0,157.8 910.1,158.2 910.2,159.8 910.3,161.3 910.4,162.0 910.5,161.7 910.6,161.2 910.7,160.8 910.8,161.3 910.9,162.3 911.0,162.9 911.1,162.5 911.2,162.0 911.3,161.6 911.4,161.9 911.6,163.1 911.7,164.6 911.8,164.9 911.9,164.1 912.0,162.8 912.1,161.7 912.2,161.4 912.3,162.7 912.4,164.1 912.5,164.7 912.6,164.3 912.7,163.5 912.8,162.5 912.9,162.5 913.0,163.2 913.1,163.7 913.2,163.3 913.3,162.6 913.4,161.5 913.5,161.2 913.6,161.8 913.7,162.9 913.8,163.1 913.9,162.4 914.0,160.9 914.1,159.4 914.2,158.7 914.3,159.5 914.4,160.6 914.5,161.2 914.6,160.8 914.7,159.8 914.8,158.3 914.9,157.8 915.0,158.2 915.1,158.6 915.2,158.4 915.3,157.7 915.4,156.6 915.5,156.0 915.7,156.4 915.8,157.5 915.9,157.8 916.0,157.4 916.1,156.1 916.2,154.5 916.3,153.6 916.4,154.2 916.5,155.4 916.6,156.3 916.7,156.2 916.8,155.4 916.9,154.2 917.0,153.8 917.1,154.3 917.2,155.2 917.3,155.6 917.4,155.4 917.5,154.5 917.6,153.9 917.7,154.2 917.8,155.3 917.9,156.3 918.0,156.6 918.1,155.9 918.2,154.8 918.3,154.2 918.4,154.9 918.5,156.3 918.6,157.6 918.7,158.1 918.8,157.7 918.9,156.7 919.0,156.4 919.1,157.0 919.2,158.2 919.3,159.0 919.4,159.4 919.5,159.0 919.6,158.5 919.7,158.8 919.9,160.1 920.0,161.2 920.1,161.8 920.2,161.4 920.3,160.4 920.4,159.5 920.5,160.1 920.6,161.5 920.7,163.1 920.8,164.0 920.9,163.9 921.0,162.8 921.1,162.2 921.2,162.5 921.3,163.5 921.4,164.4 921.5,164.9 921.6,164.4 921.7,163.7 921.8,163.6 921.9,164.4 922.0,165.3 922.1,166.0 922.2,165.6 922.3,164.5 922.4,163.3 922.5,163.2 922.6,164.0 922.7,165.2 922.8,165.9 922.9,165.6 923.0,164.2 923.1,163.0 923.2,162.6 923.3,163.1 923.4,163.7 923.5,164.3 923.6,163.8 923.7,162.8 923.8,162.2 923.9,162.6 924.1,163.1 924.2,163.5 924.3,163.1 924.4,161.8 924.5,160.2 924.6,159.6 924.7,160.0 924.8,161.0 924.9,161.8 925.0,161.6 925.1,160.2 925.2,158.6 925.3,157.8 925.4,158.0 925.5,158.6 925.6,159.2 925.7,158.8 925.8,157.7 925.9,156.8 926.0,156.8 926.1,157.2 926.2,157.7 926.3,157.7 926.4,156.6 926.5,155.1 926.6,154.5 926.7,154.9 926.8,156.1 926.9,157.3 927.0,157.6 927.1,156.5 927.2,155.1 927.3,154.2 927.4,154.4 927.5,155.1 927.6,156.3 927.7,156.7 927.8,156.2 927.9,155.6 928.0,155.8 928.1,156.3 928.3,157.4 928.4,158.0 928.5,157.6 928.6,156.6 928.7,156.2 928.8,156.6 928.9,158.0 929.0,159.6 929.1,160.6 929.2,160.1 929.3,159.0 929.4,158.3 929.5,158.5 929.6,159.5 929.7,161.1 929.8,161.9 929.9,161.7 930.0,161.2 930.1,161.2 930.2,161.7 930.3,162.8 930.4,163.8 930.5,163.8 930.6,162.9 930.7,162.5 930.8,162.7 930.9,163.9 931.0,165.6 931.1,166.8 931.2,166.5 931.3,165.5 931.4,164.5 931.5,164.4 931.6,165.1 931.7,166.5 931.8,167.3 931.9,167.1 932.0,166.4 932.1,165.9 932.2,165.9 932.3,166.6 932.5,167.4 932.6,167.4 932.7,166.4 932.8,165.5 932.9,165.1 933.0,165.7 933.1,167.0 933.2,168.0 933.3,167.5 933.4,166.1 933.5,164.6 933.6,163.7 933.7,163.8 933.8,164.9 933.9,165.7 934.0,165.4 934.1,164.5 934.2,163.5 934.3,162.9 934.4,163.2 934.5,163.8 934.6,163.7 934.7,162.7 934.8,161.5 934.9,160.7 935.0,160.8 935.1,161.7 935.2,162.6 935.3,162.3 935.4,161.1 935.5,159.4 935.6,158.3 935.7,158.1 935.8,159.1 935.9,160.0 936.0,160.0 936.1,159.1 936.2,158.0 936.3,157.2 936.4,157.4 936.5,158.0 936.7,158.4 936.8,157.7 936.9,156.9 937.0,156.1 937.1,156.1 937.2,157.1 937.3,158.4 937.4,158.6 937.5,157.9 937.6,156.5 937.7,155.5 937.8,155.4 937.9,156.7 938.0,158.1 938.1,158.8 938.2,158.6 938.3,158.0 938.4,157.3 938.5,157.6 938.6,158.6 938.7,159.5 938.8,159.5 938.9,159.1 939.0,158.6 939.1,158.7 939.2,159.9 939.3,161.5 939.4,162.4 939.5,162.4 939.6,161.6 939.7,160.8 939.8,160.8 939.9,162.2 940.0,163.9 940.1,165.0 940.2,165.1 940.3,164.6 940.4,163.9 940.5,164.1 940.6,165.2 940.7,166.3 940.9,166.7 941.0,166.5 941.1,165.9 941.2,165.7 941.3,166.5 941.4,168.0 941.5,168.9 941.6,169.0 941.7,168.2 941.8,167.1 941.9,166.7 942.0,167.6 942.1,169.1 942.2,170.1 942.3,170.2 942.4,169.5 942.5,168.3 942.6,167.9 942.7,168.4 942.8,169.2 942.9,169.4 943.0,169.2 943.1,168.3 943.2,167.6 943.3,167.7 943.4,168.7 943.5,169.4 943.6,169.3 943.7,168.2 943.8,166.6 943.9,165.5 944.0,165.8 944.1,166.8 944.2,167.7 944.3,167.7 944.4,166.8 944.5,165.1 944.6,164.0 944.7,163.9 944.8,164.4 944.9,164.5 945.1,164.2 945.2,163.1 945.3,162.0 945.4,161.7 945.5,162.3 945.6,162.9 945.7,162.9 945.8,161.9 945.9,160.3 946.0,158.9 946.1,159.0 946.2,159.9 946.3,161.0 946.4,161.5 946.5,160.9 946.6,159.3 946.7,158.1 946.8,157.8 946.9,158.3 947.0,158.8 947.1,159.2 947.2,158.6 947.3,157.9 947.4,157.7 947.5,158.6 947.6,159.4 947.7,160.0 947.8,159.6 947.9,158.5 948.0,157.3 948.1,157.5 948.2,158.7 948.3,160.3 948.4,161.4 948.5,161.5 948.6,160.4 948.7,159.6 948.8,159.6 948.9,160.5 949.0,161.6 949.1,162.5 949.3,162.5 949.4,162.0 949.5,161.9 949.6,162.7 949.7,163.9 949.8,165.1 949.9,165.4 950.0,164.8 950.1,164.0 950.2,164.1 950.3,165.2 950.4,167.0 950.5,168.4 950.6,168.9 950.7,168.1 950.8,167.2 950.9,167.0 951.0,167.7 951.1,168.9 951.2,170.1 951.3,170.4 951.4,170.0 951.5,169.7 951.6,170.2 951.7,171.1 951.8,172.1 951.9,172.5 952.0,171.9 952.1,170.7 952.2,170.4 952.3,171.0 952.4,172.3 952.5,173.6 952.6,174.0 952.7,173.0 952.8,171.6 952.9,170.7 953.0,170.8 953.1,171.4 953.2,172.4 953.4,172.4 953.5,171.6 953.6,170.6 953.7,170.4 953.8,170.5 953.9,171.0 954.0,171.0 954.1,170.1 954.2,168.4 954.3,167.5 954.4,167.4 954.5,168.3 954.6,169.3 954.7,169.7 954.8,168.5 954.9,166.7 955.0,165.3 955.1,164.8 955.2,165.1 955.3,165.9 955.4,166.0 955.5,165.1 955.6,163.9 955.7,163.3 955.8,163.1 955.9,163.6 956.0,163.9 956.1,163.3 956.2,161.9 956.3,160.7 956.4,160.4 956.5,161.0 956.6,162.0 956.7,162.7 956.8,161.9 956.9,160.4 957.0,159.1 957.1,158.6 957.2,159.1 957.3,160.4 957.4,161.1 957.6,160.9 957.7,160.2 957.8,159.8 957.9,159.7 958.0,160.5 958.1,161.3 958.2,161.3 958.3,160.5 958.4,159.9 958.5,159.9 958.6,160.8 958.7,162.4 958.8,163.9 958.9,163.9 959.0,163.1 959.1,162.2 959.2,161.9 959.3,162.7 959.4,164.5 959.5,165.9 959.6,166.3 959.7,166.0 959.8,165.8 959.9,165.9 960.0,166.9 960.1,168.1 960.2,168.7 960.3,168.4 960.4,168.0 960.5,167.9 960.6,168.7 960.7,170.3 960.8,171.9 960.9,172.3 961.0,171.8 961.1,170.8 961.2,170.3 961.3,170.8 961.4,172.5 961.5,173.9 961.6,174.5 961.8,174.1 961.9,173.5 962.0,173.1 962.1,173.6 962.2,174.6 962.3,175.2 962.4,174.8 962.5,174.2 962.6,173.7 962.7,173.9 962.8,175.0 962.9,176.4 963.0,176.6 963.1,175.8 963.2,174.4 963.3,173.3 963.4,173.0 963.5,173.9 963.6,174.9 963.7,175.1 963.8,174.3 963.9,173.1 964.0,172.0 964.1,171.8 964.2,172.3 964.3,172.6 964.4,172.0 964.5,171.0 964.6,169.8 964.7,169.2 964.8,169.5 964.9,170.4 965.0,170.6 965.1,169.8 965.2,168.2 965.3,166.6 965.4,165.9 965.5,166.4 965.6,167.3 965.7,167.6 965.8,166.9 966.0,165.7 966.1,164.2 966.2,163.7 966.3,164.0 966.4,164.5 966.5,164.2 966.6,163.5 966.7,162.5 966.8,161.9 966.9,162.3 967.0,163.4 967.1,163.9 967.2,163.6 967.3,162.3 967.4,160.9 967.5,160.2 967.6,161.0 967.7,162.3 967.8,163.4 967.9,163.5 968.0,162.9" stroke="#0000ff" stroke-width="4.0"/>
</g>
<rect x="799.50" y="24.50" width="153.00" height="58.10" fill="#fff" stroke="#262626" stroke-width="3"/><path d="M805.00,40.40H866.80" stroke="#ff0000" stroke-width="3.2"/><path d="M805.00,67.10H866.80" stroke="#0000ff" stroke-width="3.2"/><text x="871.40" y="48.40" font-size="20" fill="#000">Desired</text><text x="871.40" y="75.10" font-size="20" fill="#000">PIV</text>
<text x="477.5" y="445.4" font-size="25" fill="#262626">Time (s)</text>
<text transform="translate(18.8,225.5) rotate(-90)" font-size="25" fill="#262626">I<tspan font-size="20.5" dy="12.7">c</tspan><tspan dy="-12.7"> (A)</tspan></text>
<text x="499" y="515.4" font-size="33.5" fill="#000" text-anchor="middle">(a)</text>
<path d="M90.00,988.90V978.70M90.00,610.00V620.20M212.61,988.90V978.70M212.61,610.00V620.20M335.23,988.90V978.70M335.23,610.00V620.20M457.84,988.90V978.70M457.84,610.00V620.20M580.46,988.90V978.70M580.46,610.00V620.20M703.07,988.90V978.70M703.07,610.00V620.20M825.69,988.90V978.70M825.69,610.00V620.20M948.30,988.90V978.70M948.30,610.00V620.20M90.00,988.90H100.20M948.30,988.90H938.10M90.00,894.17H100.20M948.30,894.17H938.10M90.00,799.45H100.20M948.30,799.45H938.10M90.00,704.73H100.20M948.30,704.73H938.10M90.00,610.00H100.20M948.30,610.00H938.10" stroke="#262626" stroke-width="3" fill="none"/>
<rect x="90.00" y="610.00" width="858.30" height="378.90" stroke="#262626" stroke-width="3" fill="none"/>
<g font-size="22.5" fill="#262626"><text x="90.00" y="1021.00" text-anchor="middle">0</text><text x="212.61" y="1021.00" text-anchor="middle">5</text><text x="335.23" y="1021.00">0</text><text x="457.84" y="1021.00">5</text><text x="580.46" y="1021.00" text-anchor="middle">20</text><text x="703.07" y="1021.00" text-anchor="middle">25</text><text x="825.69" y="1021.00" text-anchor="middle">30</text><text x="948.30" y="1021.00" text-anchor="middle">35</text><text x="68.59" y="997.60" text-anchor="end">-</text><text x="80.80" y="902.88" text-anchor="end">0</text><text x="80.80" y="713.43" text-anchor="end">2</text><text x="80.80" y="618.70" text-anchor="end">3</text><path d="M327.97,1021.00 L327.97,1008.15 L324.25,1010.46 L324.25,1008.04 L328.13,1005.52 L331.05,1005.52 L331.05,1021.00ZM450.58,1021.00 L450.58,1008.15 L446.87,1010.46 L446.87,1008.04 L450.75,1005.52 L453.67,1005.52 L453.67,1021.00ZM73.54,997.60 L73.54,984.75 L69.82,987.06 L69.82,984.64 L73.70,982.12 L76.63,982.12 L76.63,997.60ZM73.54,808.15 L73.54,795.30 L69.82,797.61 L69.82,795.19 L73.70,792.67 L76.63,792.67 L76.63,808.15Z"/></g>
<g clip-path="url(#cb)" fill="none" stroke-width="3.6" stroke-linejoin="round" stroke-linecap="round">
<path d="M90.0,610.0 L90.0,730.3 90.2,729.3 90.5,728.3 90.7,727.2 91.0,726.4 91.2,725.8 91.5,725.6 91.7,725.6 92.0,725.6 92.2,725.6 92.5,725.6 92.7,725.7 92.9,725.7 93.2,725.8 93.4,725.8 93.7,725.9 93.9,726.0 94.2,726.0 94.4,726.1 94.7,726.2 94.9,726.3 95.1,726.4 95.4,726.5 95.6,726.6 95.9,726.7 96.1,726.8 96.4,726.9 96.6,727.1 96.9,727.2 97.1,727.3 97.4,727.4 97.6,727.6 97.8,727.7 98.1,727.8 98.3,728.0 98.6,728.1 98.8,728.3 99.1,728.4 99.3,728.5 99.6,728.7 99.8,728.8 100.1,729.0 100.3,729.1 100.5,729.2 100.8,729.4 101.0,729.6 101.3,729.7 101.5,729.9 101.8,730.1 102.0,730.3 102.3,730.4 102.5,730.6 102.8,730.9 103.0,731.1 103.2,731.3 103.5,731.5 103.7,731.7 104.0,732.0 104.2,732.2 104.5,732.4 104.7,732.7 105.0,732.9 105.2,733.2 105.4,733.5 105.7,733.7 105.9,734.0 106.2,734.3 106.4,734.5 106.7,734.8 106.9,735.1 107.2,735.4 107.4,735.6 107.7,735.9 107.9,736.2 108.1,736.5 108.4,736.8 108.6,737.1 108.9,737.4 109.1,737.7 109.4,738.0 109.6,738.2 109.9,738.5 110.1,738.8 110.4,739.1 110.6,739.4 110.8,739.7 111.1,740.0 111.3,740.3 111.6,740.6 111.8,740.9 112.1,741.2 112.3,741.5 112.6,741.8 112.8,742.1 113.1,742.4 113.3,742.7 113.5,743.1 113.8,743.4 114.0,743.7 114.3,744.1 114.5,744.4 114.8,744.7 115.0,745.1 115.3,745.4 115.5,745.8 115.7,746.1 116.0,746.4 116.2,746.8 116.5,747.2 116.7,747.5 117.0,747.9 117.2,748.2 117.5,748.6 117.7,749.0 118.0,749.3 118.2,749.7 118.4,750.1 118.7,750.4 118.9,750.8 119.2,751.2 119.4,751.6 119.7,751.9 119.9,752.3 120.2,752.7 120.4,753.1 120.7,753.5 120.9,753.9 121.1,754.2 121.4,754.6 121.6,755.0 121.9,755.4 122.1,755.9 122.4,756.3 122.6,756.7 122.9,757.1 123.1,757.5 123.4,758.0 123.6,758.4 123.8,758.8 124.1,759.3 124.3,759.7 124.6,760.1 124.8,760.6 125.1,761.0 125.3,761.5 125.6,761.9 125.8,762.4 126.0,762.8 126.3,763.3 126.5,763.7 126.8,764.2 127.0,764.7 127.3,765.1 127.5,765.6 127.8,766.0 128.0,766.5 128.3,766.9 128.5,767.4 128.7,767.9 129.0,768.3 129.2,768.8 129.5,769.2 129.7,769.7 130.0,770.1 130.2,770.6 130.5,771.0 130.7,771.5 131.0,771.9 131.2,772.3 131.4,772.8 131.7,773.3 131.9,773.8 132.2,774.3 132.4,774.9 132.7,775.4 132.9,776.0 133.2,776.5 133.4,777.1 133.7,777.7 133.9,778.3 134.1,778.8 134.4,779.4 134.6,780.0 134.9,780.6 135.1,781.1 135.4,781.7 135.6,782.3 135.9,782.8 136.1,783.3 136.3,783.8 136.6,784.3 136.8,784.8 137.1,785.2 137.3,785.7 137.6,786.1 137.8,786.5 138.1,786.8 138.3,787.1 138.6,787.4 138.8,787.7 139.0,787.9 139.3,788.1 139.5,788.2 139.8,788.3 140.0,788.4 140.3,788.4 140.5,788.3 140.8,788.2 141.0,788.1 141.3,787.9 141.5,787.7 141.7,787.4 142.0,787.1 142.2,786.8 142.5,786.4 142.7,786.0 143.0,785.6 143.2,785.1 143.5,784.6 143.7,784.1 144.0,783.5 144.2,782.9 144.4,782.3 144.7,781.7 144.9,781.0 145.2,780.4 145.4,779.7 145.7,779.0 145.9,778.3 146.2,777.6 146.4,776.8 146.6,776.1 146.9,775.4 147.1,774.6 147.4,773.9 147.6,773.1 147.9,772.4 148.1,771.6 148.4,770.9 148.6,770.2 148.9,769.4 149.1,768.7 149.3,768.0 149.6,767.3 149.8,766.6 150.1,765.8 150.3,765.0 150.6,764.3 150.8,763.4 151.1,762.6 151.3,761.8 151.6,760.9 151.8,760.0 152.0,759.2 152.3,758.3 152.5,757.3 152.8,756.4 153.0,755.4 153.3,754.5 153.5,753.5 153.8,752.5 154.0,751.5 154.2,750.5 154.5,749.4 154.7,748.4 155.0,747.3 155.2,746.2 155.5,745.2 155.7,744.1 156.0,743.0 156.2,741.9 156.5,740.7 156.7,739.6 156.9,738.5 157.2,737.3 157.4,736.1 157.6,735.3 163.3,684.4 163.6,742.6 164.1,804.2" stroke="#ff0000" stroke-width="3.7"/>
<path d="M90.0,894.2 L91.5,724.6 91.7,724.8 92.0,724.5 92.2,725.2 92.5,724.4 92.7,725.7 92.9,724.4 93.2,725.9 93.4,724.6 93.7,726.1 93.9,724.8 94.2,726.3 94.4,725.0 94.7,726.5 94.9,725.3 95.1,726.7 95.4,725.5 95.6,727.0 95.9,725.8 96.1,727.2 96.4,726.0 96.6,727.5 96.9,726.3 97.1,727.8 97.4,726.6 97.6,728.1 97.8,726.9 98.1,728.3 98.3,727.2 98.6,728.6 98.8,727.5 99.1,729.0 99.3,727.8 99.6,729.3 99.8,728.1 100.1,729.6 100.3,728.4 100.5,729.9 100.8,728.8 101.0,730.3 101.3,729.1 101.5,730.6 101.8,729.5 102.0,731.0 102.3,729.9 102.5,731.4 102.8,730.3 103.0,731.9 103.2,730.8 103.5,732.3 103.7,731.2 104.0,732.8 104.2,731.7 104.5,733.3 104.7,732.2 105.0,733.8 105.2,732.7 105.4,734.3 105.7,733.2 105.9,734.8 106.2,733.7 106.4,735.3 106.7,734.2 106.9,735.8 107.2,734.8 107.4,736.4 107.7,735.3 107.9,736.9 108.1,735.9 108.4,737.5 108.6,736.4 108.9,738.1 109.1,737.0 109.4,738.6 109.6,737.6 109.9,739.2 110.1,738.2 110.4,739.8 110.6,738.7 110.8,740.3 111.1,739.3 111.3,740.9 111.6,739.9 111.8,741.5 112.1,740.5 112.3,742.1 112.6,741.1 112.8,742.8 113.1,741.8 113.3,743.4 113.5,742.4 113.8,744.1 114.0,743.1 114.3,744.7 114.5,743.7 114.8,745.4 115.0,744.4 115.3,746.1 115.5,745.1 115.7,746.8 116.0,745.8 116.2,747.5 116.5,746.5 116.7,748.2 117.0,747.2 117.2,748.9 117.5,747.9 117.7,749.6 118.0,748.7 118.2,750.4 118.4,749.4 118.7,751.1 118.9,750.1 119.2,751.8 119.4,750.9 119.7,752.6 119.9,751.7 120.2,753.4 120.4,752.4 120.7,754.1 120.9,753.2 121.1,754.9 121.4,754.0 121.6,755.7 121.9,754.8 122.1,756.5 122.4,755.6 122.6,757.3 122.9,756.4 123.1,758.2 123.4,757.3 123.6,759.1 123.8,758.2 124.1,759.9 124.3,759.0 124.6,760.8 124.8,759.9 125.1,761.7 125.3,760.8 125.6,762.6 125.8,761.7 126.0,763.5 126.3,762.6 126.5,764.4 126.8,763.5 127.0,765.3 127.3,764.5 127.5,766.2 127.8,765.4 128.0,767.2 128.3,766.3 128.5,768.1 128.7,767.2 129.0,769.0 129.2,768.1 129.5,769.9 129.7,769.0 130.0,770.8 130.2,769.9 130.5,771.7 130.7,770.8 131.0,772.6 131.2,771.7 131.4,773.5 131.7,772.6 131.9,774.5 132.2,773.7 132.4,775.5 132.7,774.7 132.9,776.6 133.2,775.9 133.4,777.8 133.7,777.0 133.9,778.9 134.1,778.2 134.4,780.1 134.6,779.3 134.9,781.2 135.1,780.5 135.4,782.4 135.6,781.6 135.9,783.5 136.1,782.7 136.3,784.5 136.6,783.7 136.8,785.5 137.1,784.6 137.3,786.3 137.6,785.4 137.8,787.1 138.1,786.1 138.3,787.8 138.6,786.8 138.8,788.3 139.0,787.2 139.3,788.7 139.5,787.5 139.8,789.0 140.0,787.7 140.3,789.0 140.5,787.7 140.8,788.9 141.0,787.4 141.3,788.6 141.5,787.0 141.7,788.1 142.0,786.5 142.2,787.5 142.5,785.8 142.7,786.7 143.0,784.9 143.2,785.8 143.5,783.9 143.7,784.7 144.0,782.8 144.2,783.6 144.4,781.6 144.7,782.3 144.9,780.4 145.2,781.0 145.4,779.0 145.7,779.7 145.9,777.6 146.2,778.2 146.4,776.2 146.6,776.8 146.9,774.7 147.1,775.3 147.4,773.2 147.6,773.8 147.9,771.7 148.1,772.3 148.4,770.2 148.6,770.8 148.9,768.8 149.1,769.4 149.3,767.3 149.6,768.0 149.8,765.9 150.1,766.5 150.3,764.4 150.6,764.9 150.8,762.8 151.1,763.3 151.3,761.1 151.6,761.6 151.8,759.4 152.0,759.8 152.3,757.6 152.5,758.0 152.8,755.7 153.0,756.1 153.3,753.8 153.5,754.1 153.8,751.8 154.0,752.1 154.2,749.7 154.5,750.0 154.7,747.7 155.0,747.9 155.2,745.5 155.5,745.8 155.7,743.4 156.0,743.6 156.2,741.1 156.5,741.4 156.7,738.9 156.9,739.1 157.2,736.6 157.4,736.8 157.7,734.3 157.9,734.3 158.2,731.5 158.4,731.3 158.7,728.2 158.9,727.8 159.2,724.7 159.4,724.2 159.6,721.0 159.9,720.6 160.1,717.6 160.4,717.4 160.6,714.7 160.9,714.8 161.1,712.4 161.4,713.0 161.6,711.1 161.9,712.2 162.1,710.8 162.3,712.1 162.6,710.7 162.8,711.7 162.9,721.8 163.0,740.6 163.1,760.4 163.2,769.3 163.3,760.8 163.4,740.9 163.5,725.9 163.6,730.2 163.7,754.3 163.8,784.9 163.9,805.3 164.0,804.7 164.1,783.6 164.2,753.9 164.3,731.5 164.4,728.0 164.5,744.4 164.6,771.2 164.7,793.4 164.8,799.2 164.9,785.8 165.0,760.7 165.1,737.5 165.2,728.6 165.3,738.0 165.4,760.0 165.5,782.3 165.6,792.8 165.7,786.5 165.8,768.0 165.9,749.1 166.0,738.4 166.1,738.6 166.2,747.1 166.3,759.7 166.4,771.8 166.5,780.5 166.6,784.7 166.7,784.6 166.8,780.9 166.9,774.5 167.0,766.8 167.1,759.6 167.1,754.5 167.2,751.8 167.3,750.7 167.4,750.0 167.5,749.2 167.6,749.1 167.7,750.9 167.8,755.0 167.9,760.4 168.0,764.6 168.1,766.1 168.2,765.1 168.3,763.9 168.4,764.9 168.5,768.3 168.6,772.3 168.7,773.7 168.8,771.2 168.9,766.4 169.0,762.9 169.1,763.3 169.2,766.6 169.3,769.6 169.4,769.1 169.5,764.8 169.6,759.4 169.7,756.4 169.8,757.4 169.9,761.0 170.0,763.4 170.1,762.2 170.2,757.8 170.3,753.2 170.4,751.8 170.5,754.4 170.6,758.7 170.7,761.1 170.8,759.6 170.9,755.5 171.0,752.1 171.1,752.4 171.2,756.3 171.3,761.0 171.4,763.1 171.5,761.3 171.6,757.4 171.7,755.0 171.8,756.5 171.9,761.1 172.0,765.5 172.1,766.8 172.2,764.3 172.2,760.5 172.3,759.0 172.4,761.4 172.5,766.2 172.6,770.0 172.7,770.0 172.8,766.6 172.9,762.7 173.0,761.4 173.1,763.9 173.2,768.1 173.3,770.3 173.4,768.7 173.5,764.5 173.6,760.7 173.7,760.3 173.8,763.5 173.9,767.4 174.0,768.5 174.1,765.7 174.2,760.9 174.3,757.4 174.4,757.8 174.5,761.4 174.6,765.0 174.7,765.4 174.8,762.2 174.9,757.6 175.0,755.1 175.1,756.5 175.2,760.4 175.3,763.5 175.4,763.0 175.5,759.2 175.6,755.0 175.7,753.7 175.8,756.2 175.9,760.4 176.0,762.9 176.1,761.5 176.2,757.5 176.3,753.8 176.4,753.7 176.5,757.3 176.6,761.9 176.7,764.0 176.8,762.3 176.9,758.4 177.0,755.7 177.1,756.8 177.2,760.9 177.3,765.1 177.4,766.3 177.4,763.8 177.5,760.0 177.6,758.2 177.7,760.2 177.8,764.8 177.9,768.4 178.0,768.6 178.1,765.4 178.2,761.7 178.3,760.5 178.4,763.1 178.5,767.4 178.6,770.1 178.7,769.0 178.8,765.0 178.9,761.4 179.0,760.9 179.1,764.0 179.2,768.0 179.3,769.6 179.4,767.3 179.5,762.9 179.6,759.6 179.7,759.9 179.8,763.3 179.9,767.0 180.0,767.8 180.1,764.9 180.2,760.5 180.3,758.0 180.4,759.1 180.5,762.7 180.6,765.6 180.7,765.1 180.8,761.5 180.9,757.3 181.0,755.7 181.1,757.9 181.2,762.0 181.3,764.5 181.4,763.3 181.5,759.2 181.6,755.4 181.7,754.8 181.8,757.7 181.9,761.9 182.0,763.8 182.1,762.0 182.2,758.1 182.3,755.1 182.4,755.6 182.5,759.2 182.5,763.1 182.6,764.1 182.7,761.6 182.8,757.8 182.9,755.7 183.0,757.4 183.1,761.7 183.2,765.3 183.3,765.6 183.4,762.5 183.5,758.7 183.6,757.4 183.7,759.9 183.8,764.4 183.9,767.5 184.0,767.0 184.1,763.6 184.2,760.3 184.3,760.0 184.4,763.2 184.5,767.6 184.6,769.7 184.7,768.2 184.8,764.4 184.9,761.5 185.0,762.1 185.1,765.7 185.2,769.6 185.3,770.6 185.4,767.9 185.5,763.7 185.6,761.2 185.7,762.4 185.8,766.4 185.9,769.8 186.0,770.0 186.1,766.8 186.2,762.8 186.3,761.0 186.4,762.8 186.5,766.6 186.6,769.1 186.7,768.2 186.8,764.3 186.9,760.6 187.0,759.7 187.1,762.4 187.2,766.3 187.3,768.2 187.4,766.5 187.5,762.4 187.6,759.3 187.7,759.3 187.7,762.3 187.8,765.7 187.9,766.5 188.0,763.6 188.1,759.4 188.2,756.9 188.3,758.0 188.4,761.7 188.5,765.0 188.6,765.2 188.7,761.9 188.8,757.8 188.9,756.0 189.0,757.9 189.1,761.9 189.2,764.7 189.3,764.1 189.4,760.7 189.5,757.2 189.6,756.5 189.7,759.4 189.8,763.5 189.9,765.7 190.0,764.3 190.1,760.6 190.2,757.6 190.3,757.9 190.4,761.4 190.5,765.4 190.6,766.8 190.7,764.7 190.8,760.9 190.9,758.7 191.0,759.9 191.1,763.8 191.2,767.4 191.3,767.9 191.4,765.0 191.5,761.2 191.6,759.8 191.7,762.1 191.8,766.5 191.9,769.8 192.0,769.7 192.1,766.5 192.2,763.2 192.3,762.7 192.4,765.6 192.5,769.8 192.6,772.1 192.7,770.6 192.8,766.7 192.8,763.5 192.9,763.5 193.0,766.9 193.1,771.0 193.2,772.7 193.3,770.8 193.4,767.1 193.5,764.7 193.6,765.6 193.7,769.2 193.8,772.5 193.9,772.8 194.0,769.8 194.1,765.8 194.2,763.9 194.3,765.6 194.4,769.3 194.5,772.0 194.6,771.3 194.7,767.7 194.8,763.8 194.9,762.6 195.0,764.9 195.1,768.6 195.2,770.6 195.3,769.0 195.4,765.0 195.5,761.5 195.6,761.0 195.7,763.7 195.8,767.0 195.9,768.0 196.0,765.5 196.1,761.4 196.2,758.5 196.3,759.1 196.4,762.5 196.5,765.7 196.6,766.0 196.7,763.0 196.8,758.9 196.9,756.9 197.0,758.4 197.1,762.0 197.2,764.8 197.3,764.3 197.4,760.8 197.5,757.1 197.6,756.0 197.7,758.4 197.8,762.3 197.9,764.6 197.9,763.3 198.0,759.5 198.1,756.3 198.2,756.1 198.3,759.1 198.4,763.0 198.5,764.9 198.6,763.3 198.7,759.9 198.8,757.7 198.9,758.8 199.0,762.4 199.1,766.0 199.2,766.8 199.3,764.3 199.4,760.8 199.5,759.3 199.6,761.3 199.7,765.5 199.8,768.9 199.9,769.1 200.0,766.4 200.1,763.4 200.2,762.8 200.3,765.7 200.4,770.0 200.5,772.7 200.6,771.8 200.7,768.5 200.8,765.5 200.9,765.5 201.0,768.5 201.1,772.4 201.2,774.0 201.3,772.1 201.4,768.5 201.5,766.0 201.6,766.9 201.7,770.5 201.8,774.1 201.9,775.0 202.0,772.7 202.1,769.2 202.2,767.5 202.3,769.1 202.4,772.9 202.5,775.8 202.6,775.5 202.7,772.1 202.8,768.3 202.9,766.9 203.0,769.1 203.1,772.8 203.1,775.1 203.2,774.0 203.3,770.1 203.4,766.4 203.5,765.5 203.6,767.9 203.7,771.1 203.8,772.5 203.9,770.6 204.0,766.8 204.1,764.0 204.2,764.4 204.3,767.6 204.4,770.8 204.5,771.4 204.6,768.6 204.7,764.6 204.8,762.1 204.9,763.0 205.0,766.1 205.1,768.6 205.2,768.1 205.3,764.7 205.4,761.1 205.5,759.8 205.6,761.9 205.7,765.7 205.8,768.1 205.9,767.1 206.0,763.6 206.1,760.3 206.2,759.8 206.3,762.6 206.4,766.4 206.5,768.2 206.6,766.5 206.7,762.9 206.8,760.2 206.9,760.6 207.0,763.8 207.1,767.3 207.2,768.2 207.3,765.9 207.4,762.2 207.5,760.3 207.6,761.7 207.7,765.5 207.8,768.7 207.9,768.9 208.0,766.0 208.1,762.6 208.2,761.4 208.2,763.7 208.3,767.8 208.4,770.7 208.5,770.3 208.6,767.2 208.7,764.2 208.8,763.9 208.9,766.7 209.0,770.6 209.1,772.6 209.2,771.2 209.3,767.7 209.4,765.1 209.5,765.6 209.6,768.9 209.7,772.6 209.8,773.7 209.9,771.4 210.0,767.8 210.1,765.7 210.2,767.0 210.3,770.7 210.4,774.0 210.5,774.3 210.6,771.5 210.7,768.0 210.8,766.6 210.9,768.5 211.0,772.2 211.1,774.7 211.2,774.1 211.3,770.8 211.4,767.6 211.5,767.1 211.6,769.8 211.7,773.5 211.8,775.1 211.9,773.4 212.0,769.5 212.1,766.5 212.2,766.5 212.3,769.6 212.4,773.0 212.5,773.9 212.6,771.6 212.7,767.9 212.8,765.8 212.9,767.0 213.0,770.7 213.1,773.9 213.2,774.1 213.3,771.1 213.3,767.3 213.4,765.6 213.5,767.2 213.6,770.7 213.7,773.0 213.8,772.1 213.9,768.6 214.0,765.0 214.1,764.0 214.2,766.3 214.3,769.8 214.4,771.5 214.5,769.9 214.6,766.3 214.7,763.5 214.8,763.7 214.9,766.9 215.0,770.5 215.1,771.6 215.2,769.4 215.3,765.6 215.4,763.2 215.5,764.0 215.6,767.4 215.7,770.4 215.8,770.7 215.9,767.8 216.0,764.1 216.1,762.5 216.2,764.2 216.3,767.8 216.4,770.4 216.5,769.9 216.6,766.7 216.7,763.3 216.8,762.5 216.9,765.0 217.0,768.7 217.1,770.8 217.2,769.6 217.3,766.2 217.4,763.5 217.5,763.7 217.6,766.9 217.7,770.6 217.8,772.0 217.9,770.2 218.0,766.7 218.1,764.7 218.2,765.9 218.3,769.8 218.4,773.4 218.5,774.2 218.5,771.7 218.6,768.0 218.7,766.3 218.8,767.8 218.9,771.4 219.0,774.2 219.1,774.0 219.2,771.2 219.3,768.1 219.4,767.5 219.5,770.1 219.6,774.1 219.7,776.5 219.8,775.5 219.9,772.3 220.0,769.5 220.1,769.6 220.2,772.6 220.3,776.1 220.4,777.5 220.5,775.6 220.6,771.9 220.7,769.4 220.8,770.1 220.9,773.4 221.0,776.6 221.1,777.2 221.2,774.7 221.3,771.1 221.4,769.5 221.5,771.0 221.6,774.6 221.7,777.2 221.8,776.8 221.9,773.6 222.0,770.0 222.1,768.8 222.2,770.9 222.3,774.3 222.4,776.1 222.5,774.8 222.6,771.2 222.7,768.0 222.8,767.7 222.9,770.3 223.0,773.7 223.1,774.9 223.2,772.9 223.3,769.2 223.4,766.6 223.5,767.1 223.6,770.1 223.6,773.0 223.7,773.3 223.8,770.5 223.9,766.7 224.0,764.8 224.1,766.2 224.2,769.7 224.3,772.4 224.4,772.0 224.5,768.6 224.6,764.8 224.7,763.5 224.8,765.3 224.9,768.8 225.0,771.0 225.1,770.0 225.2,766.6 225.3,763.6 225.4,763.3 225.5,766.0 225.6,769.4 225.7,770.7 225.8,768.9 225.9,765.4 226.0,763.2 226.1,764.2 226.2,767.8 226.3,771.4 226.4,772.2 226.5,769.7 226.6,766.0 226.7,764.0 226.8,765.3 226.9,769.0 227.0,772.1 227.1,772.3 227.2,769.7 227.3,766.6 227.4,765.8 227.5,768.2 227.6,772.0 227.7,774.5 227.8,773.8 227.9,770.8 228.0,768.3 228.1,768.4 228.2,771.6 228.3,775.6 228.4,777.5 228.5,776.1 228.6,772.7 228.7,770.3 228.8,771.0 228.8,774.5 228.9,778.2 229.0,779.3 229.1,777.3 229.2,774.1 229.3,772.4 229.4,774.0 229.5,777.8 229.6,780.9 229.7,781.1 229.8,778.4 229.9,775.1 230.0,774.1 230.1,776.2 230.2,779.9 230.3,782.1 230.4,781.0 230.5,777.4 230.6,774.0 230.7,773.3 230.8,775.7 230.9,779.3 231.0,780.9 231.1,779.2 231.2,775.6 231.3,772.9 231.4,773.3 231.5,776.3 231.6,779.6 231.7,780.4 231.8,777.9 231.9,774.1 232.0,771.8 232.1,772.7 232.2,775.9 232.3,778.5 232.4,778.2 232.5,775.0 232.6,771.2 232.7,769.5 232.8,771.1 232.9,774.3 233.0,776.2 233.1,775.1 233.2,771.4 233.3,768.1 233.4,767.5 233.5,770.0 233.6,773.5 233.7,775.2 233.8,773.4 233.9,769.4 233.9,766.3 234.0,766.2 234.1,768.8 234.2,771.8 234.3,772.6 234.4,770.3 234.5,766.6 234.6,764.5 234.7,765.6 234.8,769.1 234.9,772.3 235.0,772.6 235.1,770.0 235.2,766.6 235.3,765.2 235.4,767.0 235.5,770.5 235.6,772.9 235.7,772.3 235.8,769.3 235.9,766.3 236.0,766.0 236.1,768.7 236.2,772.5 236.3,774.3 236.4,773.0 236.5,769.6 236.6,767.1 236.7,767.6 236.8,771.0 236.9,774.8 237.0,776.3 237.1,774.6 237.2,771.4 237.3,769.4 237.4,770.6 237.5,774.1 237.6,777.3 237.7,777.7 237.8,775.3 237.9,772.0 238.0,770.9 238.1,772.9 238.2,776.6 238.3,779.4 238.4,779.0 238.5,776.1 238.6,773.1 238.7,772.7 238.8,775.3 238.9,779.0 239.0,781.0 239.0,779.8 239.1,776.5 239.2,773.8 239.3,774.0 239.4,777.0 239.5,780.4 239.6,781.7 239.7,779.9 239.8,776.6 239.9,774.6 240.0,775.8 240.1,779.2 240.2,782.2 240.3,782.6 240.4,779.9 240.5,776.4 240.6,774.8 240.7,776.3 240.8,779.6 240.9,782.0 241.0,781.3 241.1,778.0 241.2,774.5 241.3,773.5 241.4,775.6 241.5,779.0 241.6,780.6 241.7,779.0 241.8,775.3 241.9,772.1 242.0,771.8 242.1,774.4 242.2,777.7 242.3,778.7 242.4,776.6 242.5,772.9 242.6,770.4 242.7,771.1 242.8,774.1 242.9,776.9 243.0,777.1 243.1,774.3 243.2,770.5 243.3,768.7 243.4,770.0 243.5,773.3 243.6,775.8 243.7,775.4 243.8,772.4 243.9,769.3 244.0,768.5 244.1,770.8 244.2,774.2 244.2,776.1 244.3,774.9 244.4,771.5 244.5,768.5 244.6,768.4 244.7,771.2 244.8,774.5 244.9,775.8 245.0,773.9 245.1,770.5 245.2,768.3 245.3,769.1 245.4,772.5 245.5,775.7 245.6,776.2 245.7,773.7 245.8,770.2 245.9,768.6 246.0,770.2 246.1,773.7 246.2,776.4 246.3,776.2 246.4,773.3 246.5,770.3 246.6,769.9 246.7,772.5 246.8,776.5 246.9,779.0 247.0,778.2 247.1,775.0 247.2,772.2 247.3,772.2 247.4,775.1 247.5,778.6 247.6,780.2 247.7,778.5 247.8,775.2 247.9,773.0 248.0,773.8 248.1,777.3 248.2,780.7 248.3,781.5 248.4,779.3 248.5,775.9 248.6,774.2 248.7,775.6 248.8,779.1 248.9,781.8 249.0,781.6 249.1,778.8 249.2,775.7 249.3,774.8 249.3,777.0 249.4,780.6 249.5,782.7 249.6,781.7 249.7,778.4 249.8,775.4 249.9,775.2 250.0,778.1 250.1,781.8 250.2,783.4 250.3,781.8 250.4,778.4 250.5,775.8 250.6,776.3 250.7,779.3 250.8,782.3 250.9,782.9 251.0,780.4 251.1,776.8 251.2,774.9 251.3,776.1 251.4,779.2 251.5,781.6 251.6,781.0 251.7,777.7 251.8,774.0 251.9,772.5 252.0,774.3 252.1,777.6 252.2,779.5 252.3,778.4 252.4,775.1 252.5,772.2 252.6,772.0 252.7,774.7 252.8,778.2 252.9,779.6 253.0,777.5 253.1,773.6 253.2,770.7 253.3,770.8 253.4,773.7 253.5,776.7 253.6,777.4 253.7,775.0 253.8,771.4 253.9,769.4 254.0,770.5 254.1,773.8 254.2,776.5 254.3,776.3 254.4,773.5 254.5,770.4 254.5,769.4 254.6,771.5 254.7,775.3 254.8,777.6 254.9,776.7 255.0,773.4 255.1,770.3 255.2,769.8 255.3,772.5 255.4,776.2 255.5,778.1 255.6,776.8 255.7,773.6 255.8,771.3 255.9,772.0 256.0,775.2 256.1,778.7 256.2,779.8 256.3,777.7 256.4,774.2 256.5,772.2 256.6,773.4 256.7,776.8 256.8,779.8 256.9,780.3 257.0,778.0 257.1,775.1 257.2,774.3 257.3,776.4 257.4,779.9 257.5,782.2 257.6,781.5 257.7,778.3 257.8,775.4 257.9,775.3 258.0,778.1 258.1,781.9 258.2,783.8 258.3,782.5 258.4,779.2 258.5,776.7 258.6,777.1 258.7,780.1 258.8,783.4 258.9,784.2 259.0,782.0 259.1,778.5 259.2,776.4 259.3,777.6 259.4,781.1 259.5,784.2 259.6,784.5 259.6,782.0 259.7,778.6 259.8,777.2 259.9,778.9 260.0,782.2 260.1,784.4 260.2,783.7 260.3,780.4 260.4,777.3 260.5,776.6 260.6,778.9 260.7,782.2 260.8,783.9 260.9,782.3 261.0,778.8 261.1,776.0 261.2,776.0 261.3,778.6 261.4,781.6 261.5,782.3 261.6,779.9 261.7,776.2 261.8,774.0 261.9,774.9 262.0,778.0 262.1,780.8 262.2,780.7 262.3,777.7 262.4,773.9 262.5,772.1 262.6,773.4 262.7,776.6 262.8,778.9 262.9,778.2 263.0,775.0 263.1,771.8 263.2,771.1 263.3,773.4 263.4,776.8 263.5,778.6 263.6,777.3 263.7,773.8 263.8,770.8 263.9,770.6 264.0,773.2 264.1,776.3 264.2,777.3 264.3,775.5 264.4,772.2 264.5,770.3 264.6,771.5 264.7,774.8 264.7,777.7 264.8,778.0 264.9,775.4 265.0,772.0 265.1,770.6 265.2,772.4 265.3,776.0 265.4,778.6 265.5,778.3 265.6,775.5 265.7,772.6 265.8,772.2 265.9,774.9 266.0,778.7 266.1,780.9 266.2,780.0 266.3,776.9 266.4,774.5 266.5,774.9 266.6,777.8 266.7,781.1 266.8,782.3 266.9,780.3 267.0,776.8 267.1,774.7 267.2,775.7 267.3,779.1 267.4,782.3 267.5,782.9 267.6,780.7 267.7,777.7 267.8,776.6 267.9,778.6 268.0,782.4 268.1,785.2 268.2,785.0 268.3,782.1 268.4,779.1 268.5,778.4 268.6,780.6 268.7,784.1 268.8,786.0 268.9,784.8 269.0,781.5 269.1,778.6 269.2,778.5 269.3,781.2 269.4,784.4 269.5,785.6 269.6,783.6 269.7,779.9 269.8,777.4 269.9,777.9 269.9,780.8 270.0,783.7 270.1,784.0 270.2,781.4 270.3,777.8 270.4,776.0 270.5,777.3 270.6,780.5 270.7,782.9 270.8,782.4 270.9,779.2 271.0,775.9 271.1,775.0 271.2,777.1 271.3,780.6 271.4,782.6 271.5,781.4 271.6,777.7 271.7,774.6 271.8,774.1 271.9,776.5 272.0,779.6 272.1,780.8 272.2,778.9 272.3,775.3 272.4,772.8 272.5,773.3 272.6,776.3 272.7,779.3 272.8,779.8 272.9,777.4 273.0,773.9 273.1,772.1 273.2,773.4 273.3,776.8 273.4,779.4 273.5,779.1 273.6,776.2 273.7,772.9 273.8,771.8 273.9,773.9 274.0,777.3 274.1,779.3 274.2,778.3 274.3,775.1 274.4,772.2 274.5,772.0 274.6,774.8 274.7,778.4 274.8,780.0 274.9,778.5 275.0,775.2 275.0,772.9 275.1,773.6 275.2,776.8 275.3,780.1 275.4,780.9 275.5,778.8 275.6,775.5 275.7,774.0 275.8,775.5 275.9,779.0 276.0,781.7 276.1,781.6 276.2,778.7 276.3,775.5 276.4,774.5 276.5,776.8 276.6,780.4 276.7,782.8 276.8,782.1 276.9,779.1 277.0,776.4 277.1,776.4 277.2,779.2 277.3,782.8 277.4,784.4 277.5,782.8 277.6,779.4 277.7,777.0 277.8,777.5 277.9,780.6 278.0,783.9 278.1,784.7 278.2,782.5 278.3,779.2 278.4,777.3 278.5,778.5 278.6,781.8 278.7,784.5 278.8,784.4 278.9,781.5 279.0,778.1 279.1,776.8 279.2,778.6 279.3,781.9 279.4,784.1 279.5,783.4 279.6,780.3 279.7,777.4 279.8,777.1 279.9,779.6 280.0,782.7 280.1,784.1 280.2,782.3 280.2,778.7 280.3,776.1 280.4,776.4 280.5,779.4 280.6,782.5 280.7,783.3 280.8,780.9 280.9,777.1 281.0,774.8 281.1,775.5 281.2,778.4 281.3,781.0 281.4,781.0 281.5,778.2 281.6,774.8 281.7,773.5 281.8,775.3 281.9,778.7 282.0,781.0 282.1,780.3 282.2,777.1 282.3,774.0 282.4,773.4 282.5,775.7 282.6,779.0 282.7,780.5 282.8,779.0 282.9,775.5 283.0,772.9 283.1,773.2 283.2,776.1 283.3,779.3 283.4,780.2 283.5,778.0 283.6,774.5 283.7,772.5 283.8,773.6 283.9,776.8 284.0,779.7 284.1,779.8 284.2,777.1 284.3,773.8 284.4,772.4 284.5,774.1 284.6,777.4 284.7,779.7 284.8,779.1 284.9,776.2 285.0,773.4 285.1,773.1 285.2,775.7 285.3,779.3 285.3,781.2 285.4,780.0 285.5,776.8 285.6,774.4 285.7,774.8 285.8,777.8 285.9,781.1 286.0,782.2 286.1,780.3 286.2,777.0 286.3,775.1 286.4,776.3 286.5,779.7 286.6,782.7 286.7,783.0 286.8,780.4 286.9,777.0 287.0,775.6 287.1,777.3 287.2,780.8 287.3,783.5 287.4,783.3 287.5,780.5 287.6,777.7 287.7,777.2 287.8,779.5 287.9,782.9 288.0,784.6 288.1,783.3 288.2,779.9 288.3,777.3 288.4,777.4 288.5,780.2 288.6,783.4 288.7,784.5 288.8,782.5 288.9,779.1 289.0,777.0 289.1,777.9 289.2,781.0 289.3,783.7 289.4,783.8 289.5,780.9 289.6,777.3 289.7,775.7 289.8,777.4 289.9,780.9 290.0,783.4 290.1,782.9 290.2,779.8 290.3,776.5 290.4,775.6 290.4,777.7 290.5,780.9 290.6,782.6 290.7,781.3 290.8,777.9 290.9,775.0 291.0,775.0 291.1,777.5 291.2,780.4 291.3,781.2 291.4,778.9 291.5,775.0 291.6,772.6 291.7,773.4 291.8,776.5 291.9,779.4 292.0,779.8 292.1,777.1 292.2,773.5 292.3,771.8 292.4,773.1 292.5,776.3 292.6,778.7 292.7,778.3 292.8,775.4 292.9,772.3 293.0,771.5 293.1,773.8 293.2,777.2 293.3,779.1 293.4,778.0 293.5,774.8 293.6,772.0 293.7,771.9 293.8,774.6 293.9,777.8 294.0,779.0 294.1,777.1 294.2,773.6 294.3,771.3 294.4,772.0 294.5,775.1 294.6,778.2 294.7,778.8 294.8,776.5 294.9,773.2 295.0,771.7 295.1,773.4 295.2,777.1 295.3,780.0 295.4,780.0 295.5,777.5 295.6,774.5 295.6,773.6 295.7,775.8 295.8,779.3 295.9,781.4 296.0,780.6 296.1,777.8 296.2,775.4 296.3,775.7 296.4,778.8 296.5,782.4 296.6,783.7 296.7,782.0 296.8,778.6 296.9,776.4 297.0,777.1 297.1,780.5 297.2,783.7 297.3,784.5 297.4,782.3 297.5,779.0 297.6,777.4 297.7,778.8 297.8,782.2 297.9,784.8 298.0,784.6 298.1,781.8 298.2,778.7 298.3,777.8 298.4,779.8 298.5,783.2 298.6,784.9 298.7,783.7 298.8,780.1 298.9,776.9 299.0,776.6 299.1,779.2 299.2,782.6 299.3,784.0 299.4,782.3 299.5,778.7 299.6,775.9 299.7,776.1 299.8,778.7 299.9,781.4 300.0,781.8 300.1,779.5 300.2,776.1 300.3,774.4 300.4,775.7 300.5,778.8 300.6,781.1 300.7,780.6 300.7,777.5 300.8,773.9 300.9,772.5 301.0,774.2 301.1,777.4 301.2,779.3 301.3,778.2 301.4,774.7 301.5,771.5 301.6,770.9 301.7,773.2 301.8,776.3 301.9,777.6 302.0,776.0 302.1,772.5 302.2,770.1 302.3,770.5 302.4,773.5 302.5,776.5 302.6,777.1 302.7,774.7 302.8,771.2 302.9,769.4 303.0,770.7 303.1,774.1 303.2,777.0 303.3,777.1 303.4,774.4 303.5,771.1 303.6,770.0 303.7,771.9 303.8,775.3 303.9,777.5 304.0,776.7 304.1,773.5 304.2,770.6 304.3,770.2 304.4,772.9 304.5,776.7 304.6,778.6 304.7,777.4 304.8,774.4 304.9,772.2 305.0,772.7 305.1,775.7 305.2,779.0 305.3,779.9 305.4,777.9 305.5,774.8 305.6,773.1 305.7,774.6 305.8,778.1 305.9,781.1 305.9,781.4 306.0,778.9 306.1,775.8 306.2,774.8 306.3,776.8 306.4,780.4 306.5,782.9 306.6,782.3 306.7,779.3 306.8,776.4 306.9,775.8 307.0,778.1 307.1,781.4 307.2,782.9 307.3,781.4 307.4,778.1 307.5,775.7 307.6,776.0 307.7,779.0 307.8,782.2 307.9,783.2 308.0,781.1 308.1,777.8 308.2,775.8 308.3,776.9 308.4,780.0 308.5,782.7 308.6,782.7 308.7,779.9 308.8,776.4 308.9,774.9 309.0,776.4 309.1,779.5 309.2,781.5 309.3,780.7 309.4,777.4 309.5,774.2 309.6,773.5 309.7,775.7 309.8,778.8 309.9,780.2 310.0,778.5 310.1,774.8 310.2,771.9 310.3,771.8 310.4,774.5 310.5,777.5 310.6,778.2 310.7,775.9 310.8,772.3 310.9,770.2 311.0,771.1 311.0,774.2 311.1,777.0 311.2,777.1 311.3,774.3 311.4,770.7 311.5,769.1 311.6,770.6 311.7,773.8 311.8,776.1 311.9,775.4 312.0,772.3 312.1,769.2 312.2,768.5 312.3,770.8 312.4,774.3 312.5,776.0 312.6,774.8 312.7,771.5 312.8,768.7 312.9,768.8 313.0,771.6 313.1,774.9 313.2,775.9 313.3,773.9 313.4,770.5 313.5,768.4 313.6,769.3 313.7,772.5 313.8,775.6 313.9,776.1 314.0,773.7 314.1,770.6 314.2,769.3 314.3,771.0 314.4,774.5 314.5,777.1 314.6,776.8 314.7,774.0 314.8,771.1 314.9,770.6 315.0,773.1 315.1,776.7 315.2,778.7 315.3,777.5 315.4,774.3 315.5,771.6 315.6,771.7 315.7,774.6 315.8,778.0 315.9,779.4 316.0,777.7 316.1,774.5 316.1,772.6 316.2,773.7 316.3,777.2 316.4,780.4 316.5,781.1 316.6,778.7 316.7,775.2 316.8,773.6 316.9,775.0 317.0,778.2 317.1,780.6 317.2,780.2 317.3,777.2 317.4,774.0 317.5,773.2 317.6,775.3 317.7,778.7 317.8,780.6 317.9,779.5 318.0,776.2 318.1,773.4 318.2,773.4 318.3,776.2 318.4,779.5 318.5,780.7 318.6,778.8 318.7,775.3 318.8,772.9 318.9,773.4 319.0,776.4 319.1,779.2 319.2,779.5 319.3,776.9 319.4,773.4 319.5,771.6 319.6,772.9 319.7,776.1 319.8,778.5 319.9,778.0 320.0,775.0 320.1,771.5 320.2,770.3 320.3,772.0 320.4,775.1 320.5,776.7 320.6,775.4 320.7,771.8 320.8,768.7 320.9,768.2 321.0,770.6 321.1,773.6 321.2,774.8 321.3,772.9 321.3,769.3 321.4,766.9 321.5,767.4 321.6,770.4 321.7,773.4 321.8,773.8 321.9,771.4 322.0,767.9 322.1,766.1 322.2,767.4 322.3,770.6 322.4,773.1 322.5,772.9 322.6,770.1 322.7,767.0 322.8,766.1 322.9,768.2 323.0,771.8 323.1,774.0 323.2,773.2 323.3,770.2 323.4,767.6 323.5,767.5 323.6,770.0 323.7,773.3 323.8,774.7 323.9,773.0 324.0,769.7 324.1,767.6 324.2,768.5 324.3,771.9 324.4,775.2 324.5,776.1 324.6,773.8 324.7,770.4 324.8,768.7 324.9,770.1 325.0,773.6 325.1,776.6 325.2,776.9 325.3,774.4 325.4,771.6 325.5,770.8 325.6,773.0 325.7,776.7 325.8,779.1 325.9,778.4 326.0,775.3 326.1,772.4 326.2,772.0 326.3,774.5 326.4,777.8 326.4,779.3 326.5,778.0 326.6,774.9 326.7,772.7 326.8,773.4 326.9,776.5 327.0,779.4 327.1,779.9 327.2,777.4 327.3,773.7 327.4,771.8 327.5,773.1 327.6,776.5 327.7,779.2 327.8,779.3 327.9,776.4 328.0,772.9 328.1,771.5 328.2,773.1 328.3,776.3 328.4,778.3 328.5,777.5 328.6,774.4 328.7,771.5 328.8,771.1 328.9,773.4 329.0,776.4 329.1,777.5 329.2,775.6 329.3,771.8 329.4,769.0 329.5,769.1 329.6,771.8 329.7,774.6 329.8,775.1 329.9,772.8 330.0,769.3 330.1,767.3 330.2,768.4 330.3,771.6 330.4,774.1 330.5,773.8 330.6,770.7 330.7,767.1 330.8,765.5 330.9,767.2 331.0,770.6 331.1,772.8 331.2,772.1 331.3,769.0 331.4,765.9 331.5,765.3 331.6,767.5 331.6,770.8 331.7,772.3 331.8,770.7 331.9,767.3 332.0,764.7 332.1,765.0 332.2,767.9 332.3,771.0 332.4,771.8 332.5,769.7 332.6,766.3 332.7,764.3 332.8,765.4 332.9,768.9 333.0,772.0 333.1,772.3 333.2,770.0 333.3,766.9 333.4,765.7 333.5,767.6 333.6,771.1 333.7,773.5 333.8,773.0 333.9,769.9 334.0,766.9 334.1,766.3 334.2,768.7 334.3,772.2 334.4,774.0 334.5,772.9 334.6,769.8 334.7,767.4 334.8,767.8 334.9,770.9 335.0,774.4 335.1,775.6 335.2,773.8 335.3,770.6 335.4,768.8 335.5,769.9 335.6,773.3 335.7,776.4 335.8,776.6 335.9,774.0 336.0,770.7 336.1,769.3 336.2,770.9 336.3,774.3 336.4,776.8 336.5,776.4 336.6,773.4 336.7,770.4 336.7,769.9 336.8,772.2 336.9,775.6 337.0,777.4 337.1,776.1 337.2,772.7 337.3,769.8 337.4,769.6 337.5,772.2 337.6,775.1 337.7,776.1 337.8,774.2 337.9,770.9 338.0,768.8 338.1,769.8 338.2,772.8 338.3,775.4 338.4,775.3 338.5,772.4 338.6,768.7 338.7,767.0 338.8,768.4 338.9,771.7 339.0,773.9 339.1,773.3 339.2,770.1 339.3,766.8 339.4,765.8 339.5,767.8 339.6,771.0 339.7,772.6 339.8,771.1 339.9,767.6 340.0,764.7 340.1,764.5 340.2,767.0 340.3,770.1 340.4,771.0 340.5,768.9 340.6,765.3 340.7,762.9 340.8,763.5 340.9,766.4 341.0,769.2 341.1,769.4 341.2,766.8 341.3,763.3 341.4,761.7 341.5,763.1 341.6,766.4 341.7,768.9 341.8,768.7 341.8,765.9 341.9,763.0 342.0,762.3 342.1,764.6 342.2,768.1 342.3,770.1 342.4,769.0 342.5,765.9 342.6,763.1 342.7,762.9 342.8,765.5 342.9,768.7 343.0,769.8 343.1,768.1 343.2,765.1 343.3,763.2 343.4,764.3 343.5,767.8 343.6,771.0 343.7,771.7 343.8,769.5 343.9,766.3 344.0,764.9 344.1,766.4 344.2,769.8 344.3,772.4 344.4,772.1 344.5,769.3 344.6,766.2 344.7,765.5 344.8,767.7 344.9,771.3 345.0,773.4 345.1,772.5 345.2,769.5 345.3,766.9 345.4,767.0 345.5,769.8 345.6,773.3 345.7,774.9 345.8,773.3 345.9,770.1 346.0,768.0 346.1,768.8 346.2,772.0 346.3,775.1 346.4,775.8 346.5,773.5 346.6,770.0 346.7,768.2 346.8,769.3 346.9,772.4 347.0,774.8 347.0,774.4 347.1,771.6 347.2,768.3 347.3,767.3 347.4,769.3 347.5,772.6 347.6,774.5 347.7,773.4 347.8,770.0 347.9,767.0 348.0,766.6 348.1,769.2 348.2,772.5 348.3,773.8 348.4,772.0 348.5,768.5 348.6,765.8 348.7,766.0 348.8,768.8 348.9,771.5 349.0,771.9 349.1,769.4 349.2,765.8 349.3,763.9 349.4,765.0 349.5,767.9 349.6,770.1 349.7,769.4 349.8,766.1 349.9,762.4 350.0,761.2 350.1,763.1 350.2,766.6 350.3,768.7 350.4,767.9 350.5,764.7 350.6,761.7 350.7,761.3 350.8,763.7 350.9,767.0 351.0,768.3 351.1,766.5 351.2,763.0 351.3,760.4 351.4,760.7 351.5,763.7 351.6,766.9 351.7,767.7 351.8,765.6 351.9,762.4 352.0,760.6 352.1,761.8 352.1,765.0 352.2,767.7 352.3,767.7 352.4,764.9 352.5,761.6 352.6,760.5 352.7,762.4 352.8,765.8 352.9,768.1 353.0,767.4 353.1,764.5 353.2,761.7 353.3,761.5 353.4,764.3 353.5,767.9 353.6,769.8 353.7,768.6 353.8,765.6 353.9,763.3 354.0,763.6 354.1,766.5 354.2,769.6 354.3,770.3 354.4,768.3 354.5,765.2 354.6,763.6 354.7,765.0 354.8,768.5 354.9,771.4 355.0,771.5 355.1,768.9 355.2,765.6 355.3,764.5 355.4,766.3 355.5,769.9 355.6,772.2 355.7,771.6 355.8,768.5 355.9,765.5 356.0,764.8 356.1,767.0 356.2,770.2 356.3,771.6 356.4,770.1 356.5,766.9 356.6,764.5 356.7,765.0 356.8,768.0 356.9,771.1 357.0,771.8 357.1,769.5 357.2,765.8 357.3,763.6 357.3,764.5 357.4,767.7 357.5,770.4 357.6,770.4 357.7,767.7 357.8,764.3 357.9,762.8 358.0,764.4 358.1,767.7 358.2,769.8 358.3,769.1 358.4,766.0 358.5,763.0 358.6,762.5 358.7,764.9 358.8,768.1 358.9,769.5 359.0,767.8 359.1,764.2 359.2,761.3 359.3,761.2 359.4,763.8 359.5,766.7 359.6,767.4 359.7,765.0 359.8,761.5 359.9,759.5 360.0,760.4 360.1,763.6 360.2,766.5 360.3,766.7 360.4,764.1 360.5,760.8 360.6,759.5 360.7,761.2 360.8,764.6 360.9,766.9 361.0,766.4 361.1,763.3 361.2,760.3 361.3,759.6 361.4,761.8 361.5,765.1 361.6,766.8 361.7,765.4 361.8,762.0 361.9,759.3 362.0,759.4 362.1,762.1 362.2,765.3 362.3,766.4 362.4,764.8 362.4,761.7 362.5,759.9 362.6,761.1 362.7,764.5 362.8,767.5 362.9,767.9 363.0,765.5 363.1,762.3 363.2,760.9 363.3,762.4 363.4,765.8 363.5,768.2 363.6,767.6 363.7,764.7 363.8,761.7 363.9,761.0 364.0,763.3 364.1,766.8 364.2,768.8 364.3,767.9 364.4,764.9 364.5,762.4 364.6,762.7 364.7,765.7 364.8,769.0 364.9,770.1 365.0,768.3 365.1,764.9 365.2,762.9 365.3,763.9 365.4,767.2 365.5,770.3 365.6,770.8 365.7,768.4 365.8,765.1 365.9,763.6 366.0,765.1 366.1,768.4 366.2,770.8 366.3,770.4 366.4,767.3 366.5,764.1 366.6,763.1 366.7,765.2 366.8,768.6 366.9,770.5 367.0,769.3 367.1,766.0 367.2,763.2 367.3,762.9 367.4,765.4 367.5,768.4 367.5,769.4 367.6,767.4 367.7,763.9 367.8,761.6 367.9,762.2 368.0,765.2 368.1,767.9 368.2,768.0 368.3,765.1 368.4,761.3 368.5,759.3 368.6,760.5 368.7,763.7 368.8,766.1 368.9,765.7 369.0,762.7 369.1,759.5 369.2,758.6 369.3,760.7 369.4,764.1 369.5,766.1 369.6,764.9 369.7,761.5 369.8,758.6 369.9,758.3 370.0,760.8 370.1,763.9 370.2,764.9 370.3,762.8 370.4,759.2 370.5,756.6 370.6,757.2 370.7,760.3 370.8,763.5 370.9,764.2 371.0,761.9 371.1,758.6 371.2,757.0 371.3,758.4 371.4,761.8 371.5,764.5 371.6,764.4 371.7,761.7 371.8,758.7 371.9,757.9 372.0,760.1 372.1,763.5 372.2,765.5 372.3,764.4 372.4,761.1 372.5,758.2 372.6,758.1 372.7,760.9 372.7,764.3 372.8,765.9 372.9,764.4 373.0,761.2 373.1,758.9 373.2,759.5 373.3,762.6 373.4,765.8 373.5,766.6 373.6,764.7 373.7,761.7 373.8,760.3 373.9,761.9 374.0,765.4 374.1,768.0 374.2,767.8 374.3,765.0 374.4,761.7 374.5,760.6 374.6,762.7 374.7,766.1 374.8,768.3 374.9,767.5 375.0,764.4 375.1,761.5 375.2,761.3 375.3,763.9 375.4,767.2 375.5,768.7 375.6,767.1 375.7,763.8 375.8,761.4 375.9,761.8 376.0,764.8 376.1,768.0 376.2,768.7 376.3,766.5 376.4,763.1 376.5,761.3 376.6,762.5 376.7,765.8 376.8,768.5 376.9,768.5 377.0,765.6 377.1,762.0 377.2,760.5 377.3,762.1 377.4,765.1 377.5,767.1 377.6,766.3 377.7,763.2 377.8,760.3 377.8,759.9 377.9,762.3 378.0,765.5 378.1,766.8 378.2,765.1 378.3,761.5 378.4,758.8 378.5,758.9 378.6,761.6 378.7,764.4 378.8,765.0 378.9,762.6 379.0,759.2 379.1,757.2 379.2,758.3 379.3,761.5 379.4,764.1 379.5,764.0 379.6,761.0 379.7,757.6 379.8,756.2 379.9,757.8 380.0,761.0 380.1,763.0 380.2,762.2 380.3,758.9 380.4,755.9 380.5,755.6 380.6,758.3 380.7,761.8 380.8,763.6 380.9,762.2 381.0,758.7 381.1,756.0 381.2,756.2 381.3,759.0 381.4,762.1 381.5,763.0 381.6,760.9 381.7,757.5 381.8,755.6 381.9,756.9 382.0,760.5 382.1,763.7 382.2,764.3 382.3,762.1 382.4,759.0 382.5,757.7 382.6,759.5 382.7,762.9 382.8,765.2 382.9,764.7 383.0,761.7 383.0,758.7 383.1,758.2 383.2,760.6 383.3,764.1 383.4,765.9 383.5,764.7 383.6,761.5 383.7,759.0 383.8,759.4 383.9,762.5 384.0,766.0 384.1,767.2 384.2,765.4 384.3,762.1 384.4,760.0 384.5,760.8 384.6,763.9 384.7,766.7 384.8,766.9 384.9,764.5 385.0,761.4 385.1,760.2 385.2,762.0 385.3,765.5 385.4,767.9 385.5,767.3 385.6,764.3 385.7,761.3 385.8,760.6 385.9,762.7 386.0,766.0 386.1,767.5 386.2,766.1 386.3,762.6 386.4,759.9 386.5,759.9 386.6,762.5 386.7,765.6 386.8,766.5 386.9,764.3 387.0,760.7 387.1,758.4 387.2,759.1 387.3,762.1 387.4,764.9 387.5,765.1 387.6,762.4 387.7,759.0 387.8,757.5 387.9,759.1 388.0,762.5 388.1,764.9 388.1,764.5 388.2,761.3 388.3,757.9 388.4,756.9 388.5,758.8 388.6,761.9 388.7,763.6 388.8,762.3 388.9,759.0 389.0,756.2 389.1,756.2 389.2,758.8 389.3,761.9 389.4,762.8 389.5,760.7 389.6,757.1 389.7,754.9 389.8,755.9 389.9,759.1 390.0,762.2 390.1,762.8 390.2,760.3 390.3,756.7 390.4,755.0 390.5,756.4 390.6,759.6 390.7,762.0 390.8,761.6 390.9,758.6 391.0,755.5 391.1,754.8 391.2,757.1 391.3,760.8 391.4,763.0 391.5,762.2 391.6,759.3 391.7,756.8 391.8,756.9 391.9,759.8 392.0,763.2 392.1,764.5 392.2,762.7 392.3,759.2 392.4,756.9 392.5,757.5 392.6,760.5 392.7,763.5 392.8,764.2 392.9,761.9 393.0,758.7 393.1,757.3 393.2,759.0 393.2,762.7 393.3,765.6 393.4,765.7 393.5,763.1 393.6,760.1 393.7,759.1 393.8,761.1 393.9,764.4 394.0,766.3 394.1,765.3 394.2,762.4 394.3,759.8 394.4,759.9 394.5,762.8 394.6,766.2 394.7,767.5 394.8,765.8 394.9,762.4 395.0,760.0 395.1,760.7 395.2,763.7 395.3,766.8 395.4,767.3 395.5,764.9 395.6,761.5 395.7,759.8 395.8,761.2 395.9,764.4 396.0,767.0 396.1,766.6 396.2,763.5 396.3,760.0 396.4,758.7 396.5,760.5 396.6,763.7 396.7,765.6 396.8,764.6 396.9,761.3 397.0,758.4 397.1,758.0 397.2,760.3 397.3,763.3 397.4,764.4 397.5,762.5 397.6,758.9 397.7,756.5 397.8,756.9 397.9,759.9 398.0,762.9 398.1,763.3 398.2,760.8 398.3,757.1 398.4,755.2 398.4,756.2 398.5,759.4 398.6,762.0 398.7,761.9 398.8,759.1 398.9,755.9 399.0,754.8 399.1,756.7 399.2,760.1 399.3,762.1 399.4,761.2 399.5,758.0 399.6,755.0 399.7,754.7 399.8,757.2 399.9,760.5 400.0,762.0 400.1,760.6 400.2,757.4 400.3,755.2 400.4,755.9 400.5,758.9 400.6,761.8 400.7,762.4 400.8,760.0 400.9,756.5 401.0,754.8 401.1,756.3 401.2,759.9 401.3,762.9 401.4,763.2 401.5,760.5 401.6,757.2 401.7,755.9 401.8,757.7 401.9,761.0 402.0,763.4 402.1,763.0 402.2,760.3 402.3,757.8 402.4,757.8 402.5,760.5 402.6,763.8 402.7,765.2 402.8,763.7 402.9,760.3 403.0,757.8 403.1,758.3 403.2,761.4 403.3,764.6 403.4,765.5 403.5,763.5 403.5,760.2 403.6,758.5 403.7,759.8 403.8,763.2 403.9,766.1 404.0,766.4 404.1,763.9 404.2,760.8 404.3,759.7 404.4,761.6 404.5,764.7 404.6,766.8 404.7,765.8 404.8,762.5 404.9,759.5 405.0,759.2 405.1,761.7 405.2,765.2 405.3,766.9 405.4,765.4 405.5,762.1 405.6,759.5 405.7,759.7 405.8,762.5 405.9,765.5 406.0,766.2 406.1,763.9 406.2,760.3 406.3,758.1 406.4,758.9 406.5,761.9 406.6,764.5 406.7,764.5 406.8,761.6 406.9,758.3 407.0,757.1 407.1,759.0 407.2,762.5 407.3,764.9 407.4,764.2 407.5,761.0 407.6,757.7 407.7,756.9 407.8,759.0 407.9,762.2 408.0,763.6 408.1,762.1 408.2,758.6 408.3,755.8 408.4,755.9 408.5,758.8 408.6,762.0 408.7,763.0 408.7,761.0 408.8,757.4 408.9,755.1 409.0,755.8 409.1,758.8 409.2,761.4 409.3,761.5 409.4,759.0 409.5,755.7 409.6,754.4 409.7,756.2 409.8,759.7 409.9,762.2 410.0,761.9 410.1,759.1 410.2,756.2 410.3,755.7 410.4,758.0 410.5,761.5 410.6,763.3 410.7,762.1 410.8,758.9 410.9,756.4 411.0,756.6 411.1,759.5 411.2,762.9 411.3,764.1 411.4,762.1 411.5,758.8 411.6,756.8 411.7,757.7 411.8,761.0 411.9,763.9 412.0,764.2 412.1,761.7 412.2,758.5 412.3,757.2 412.4,759.3 412.5,763.0 412.6,765.9 412.7,765.8 412.8,763.2 412.9,760.2 413.0,759.7 413.1,762.0 413.2,765.6 413.3,767.5 413.4,766.4 413.5,763.3 413.6,760.7 413.7,760.8 413.8,763.6 413.8,766.9 413.9,768.0 414.0,766.1 414.1,762.6 414.2,760.5 414.3,761.4 414.4,764.6 414.5,767.6 414.6,768.0 414.7,765.5 414.8,762.2 414.9,760.6 415.0,762.1 415.1,765.4 415.2,767.9 415.3,767.5 415.4,764.5 415.5,761.4 415.6,760.5 415.7,762.5 415.8,765.6 415.9,767.1 416.0,765.6 416.1,762.0 416.2,759.1 416.3,758.9 416.4,761.6 416.5,764.7 416.6,765.9 416.7,763.8 416.8,760.1 416.9,757.6 417.0,758.0 417.1,760.8 417.2,763.6 417.3,764.2 417.4,761.8 417.5,758.5 417.6,757.0 417.7,758.3 417.8,761.3 417.9,763.6 418.0,763.0 418.1,759.8 418.2,756.5 418.3,755.5 418.4,757.5 418.5,760.8 418.6,762.7 418.7,761.5 418.8,758.1 418.9,755.1 418.9,754.8 419.0,757.2 419.1,760.4 419.2,761.8 419.3,760.1 419.4,756.7 419.5,754.5 419.6,755.3 419.7,758.4 419.8,761.6 419.9,762.2 420.0,760.0 420.1,756.8 420.2,755.4 420.3,757.0 420.4,760.6 420.5,763.4 420.6,763.3 420.7,760.5 420.8,757.3 420.9,756.4 421.0,758.5 421.1,761.9 421.2,764.1 421.3,763.3 421.4,760.2 421.5,757.6 421.6,757.5 421.7,760.4 421.8,764.0 421.9,765.6 422.0,764.2 422.1,761.0 422.2,758.8 422.3,759.5 422.4,762.7 422.5,765.9 422.6,766.7 422.7,764.7 422.8,761.7 422.9,760.2 423.0,761.8 423.1,765.3 423.2,768.2 423.3,768.3 423.4,765.7 423.5,762.7 423.6,761.8 423.7,763.9 423.8,767.4 423.9,769.6 424.0,768.8 424.1,765.6 424.1,762.5 424.2,762.0 424.3,764.4 424.4,767.5 424.5,768.9 424.6,767.2 424.7,763.8 424.8,761.3 424.9,761.7 425.0,764.6 425.1,767.7 425.2,768.3 425.3,766.0 425.4,762.5 425.5,760.6 425.6,761.6 425.7,764.7 425.8,767.1 425.9,766.9 426.0,764.0 426.1,760.6 426.2,759.4 426.3,761.2 426.4,764.5 426.5,766.4 426.6,765.3 426.7,761.9 426.8,758.7 426.9,758.0 427.0,760.2 427.1,763.5 427.2,764.9 427.3,763.2 427.4,759.8 427.5,757.2 427.6,757.6 427.7,760.6 427.8,763.7 427.9,764.5 428.0,762.3 428.1,758.7 428.2,756.6 428.3,757.6 428.4,760.7 428.5,763.3 428.6,763.3 428.7,760.5 428.8,757.2 428.9,756.0 429.0,757.9 429.1,761.5 429.2,763.9 429.2,763.3 429.3,760.5 429.4,757.5 429.5,756.9 429.6,759.2 429.7,762.4 429.8,763.9 429.9,762.5 430.0,759.3 430.1,757.0 430.2,757.4 430.3,760.5 430.4,764.0 430.5,765.2 430.6,763.5 430.7,760.4 430.8,758.8 430.9,760.2 431.0,763.5 431.1,766.5 431.2,766.8 431.3,764.3 431.4,761.2 431.5,760.1 431.6,762.1 431.7,765.7 431.8,768.2 431.9,767.7 432.0,764.5 432.1,761.3 432.2,760.6 432.3,762.8 432.4,766.3 432.5,768.4 432.6,767.3 432.7,764.4 432.8,762.1 432.9,762.4 433.0,765.2 433.1,768.2 433.2,769.1 433.3,766.9 433.4,763.5 433.5,761.6 433.6,762.7 433.7,766.0 433.8,769.0 433.9,769.3 434.0,766.9 434.1,763.7 434.2,762.4 434.3,764.2 434.3,767.6 434.4,769.9 434.5,769.2 434.6,766.1 434.7,762.9 434.8,762.2 434.9,764.4 435.0,767.7 435.1,769.4 435.2,768.0 435.3,764.5 435.4,761.6 435.5,761.5 435.6,764.0 435.7,767.0 435.8,768.0 435.9,766.0 436.0,762.7 436.1,760.6 436.2,761.5 436.3,764.6 436.4,767.5 436.5,767.8 436.6,765.2 436.7,761.8 436.8,760.2 436.9,761.5 437.0,764.5 437.1,766.6 437.2,765.8 437.3,762.6 437.4,759.6 437.5,758.9 437.6,761.2 437.7,764.7 437.8,766.6 437.9,765.4 438.0,762.3 438.1,759.7 438.2,759.8 438.3,762.5 438.4,765.4 438.5,766.2 438.6,764.1 438.7,760.4 438.8,758.2 438.9,759.1 439.0,762.3 439.1,765.4 439.2,765.9 439.3,763.6 439.4,760.3 439.5,759.0 439.5,760.6 439.6,764.1 439.7,766.8 439.8,766.6 439.9,763.8 440.0,760.9 440.1,760.3 440.2,762.6 440.3,765.9 440.4,767.8 440.5,766.6 440.6,763.4 440.7,760.8 440.8,761.0 440.9,764.1 441.0,767.7 441.1,769.2 441.2,767.5 441.3,764.0 441.4,761.7 441.5,762.3 441.6,765.3 441.7,768.4 441.8,769.0 441.9,766.8 442.0,763.7 442.1,762.3 442.2,763.9 442.3,767.4 442.4,770.0 442.5,769.9 442.6,767.1 442.7,764.0 442.8,763.2 442.9,765.4 443.0,768.9 443.1,770.9 443.2,769.9 443.3,766.7 443.4,763.9 443.5,763.8 443.6,766.5 443.7,769.8 443.8,771.2 443.9,769.6 444.0,766.3 444.1,764.1 444.2,764.8 444.3,767.7 444.4,770.5 444.5,770.9 444.6,768.4 444.6,765.0 444.7,763.5 444.8,765.0 444.9,768.4 445.0,771.1 445.1,770.8 445.2,767.7 445.3,764.2 445.4,762.9 445.5,764.7 445.6,767.8 445.7,769.7 445.8,768.6 445.9,765.2 446.0,762.2 446.1,762.0 446.2,764.6 446.3,767.9 446.4,769.3 446.5,767.7 446.6,764.3 446.7,761.9 446.8,762.3 446.9,765.3 447.0,768.3 447.1,768.7 447.2,766.1 447.3,762.4 447.4,760.3 447.5,761.3 447.6,764.4 447.7,767.0 447.8,766.8 447.9,764.0 448.0,760.8 448.1,759.8 448.2,762.0 448.3,765.7 448.4,768.0 448.5,767.4 448.6,764.3 448.7,761.3 448.8,761.0 448.9,763.4 449.0,766.7 449.1,768.2 449.2,766.8 449.3,763.7 449.4,761.5 449.5,762.2 449.6,765.3 449.7,768.5 449.8,769.4 449.8,767.3 449.9,764.0 450.0,762.2 450.1,763.4 450.2,766.6 450.3,769.2 450.4,769.1 450.5,766.5 450.6,763.5 450.7,762.6 450.8,764.7 450.9,768.4 451.0,770.7 451.1,770.0 451.2,767.0 451.3,764.2 451.4,764.0 451.5,766.7 451.6,770.3 451.7,772.1 451.8,770.9 451.9,767.8 452.0,765.4 452.1,765.8 452.2,768.7 452.3,771.8 452.4,772.5 452.5,770.4 452.6,767.1 452.7,765.3 452.8,766.5 452.9,769.9 453.0,772.7 453.1,772.9 453.2,770.3 453.3,767.2 453.4,766.1 453.5,767.9 453.6,771.3 453.7,773.4 453.8,772.6 453.9,769.5 454.0,766.5 454.1,766.0 454.2,768.5 454.3,771.9 454.4,773.5 454.5,771.9 454.6,768.4 454.7,765.7 454.8,765.8 454.9,768.5 454.9,771.6 455.0,772.5 455.1,770.4 455.2,767.0 455.3,765.1 455.4,766.0 455.5,769.1 455.6,771.7 455.7,771.6 455.8,768.8 455.9,765.3 456.0,763.8 456.1,765.3 456.2,768.4 456.3,770.5 456.4,769.8 456.5,766.7 456.6,763.6 456.7,763.1 456.8,765.4 456.9,768.7 457.0,770.4 457.1,769.0 457.2,765.6 457.3,763.0 457.4,763.3 457.5,766.2 457.6,769.6 457.7,770.7 457.8,768.8 457.9,765.4 458.0,763.1 458.1,763.9 458.2,766.9 458.3,769.6 458.4,769.7 458.5,767.3 458.6,764.1 458.7,762.8 458.8,764.6 458.9,768.1 459.0,770.4 459.1,769.9 459.2,766.8 459.3,763.8 459.4,763.2 459.5,765.6 459.6,769.1 459.7,771.0 459.8,769.9 459.9,766.7 460.0,764.2 460.0,764.5 460.1,767.4 460.2,770.8 460.3,772.0 460.4,770.3 460.5,767.2 460.6,765.3 460.7,766.5 460.8,769.8 460.9,772.7 461.0,773.1 461.1,770.6 461.2,767.4 461.3,766.1 461.4,768.0 461.5,771.7 461.6,774.4 461.7,774.3 461.8,771.5 461.9,768.5 462.0,767.9 462.1,770.2 462.2,773.7 462.3,775.5 462.4,774.1 462.5,770.7 462.6,767.8 462.7,767.7 462.8,770.3 462.9,773.7 463.0,774.8 463.1,773.0 463.2,769.6 463.3,767.4 463.4,768.2 463.5,771.2 463.6,774.0 463.7,774.3 463.8,771.8 463.9,768.6 464.0,767.3 464.1,768.9 464.2,772.4 464.3,774.9 464.4,774.4 464.5,771.3 464.6,768.1 464.7,767.1 464.8,769.2 464.9,772.4 465.0,774.1 465.1,772.8 465.2,769.4 465.2,766.5 465.3,766.5 465.4,769.1 465.5,772.4 465.6,773.5 465.7,771.6 465.8,768.1 465.9,765.7 466.0,766.2 466.1,769.2 466.2,772.1 466.3,772.6 466.4,770.2 466.5,766.9 466.6,765.4 466.7,766.8 466.8,769.9 466.9,772.3 467.0,771.8 467.1,768.7 467.2,765.4 467.3,764.5 467.4,766.5 467.5,769.9 467.6,771.9 467.7,770.8 467.8,767.6 467.9,764.8 468.0,764.6 468.1,767.3 468.2,770.7 468.3,772.2 468.4,770.7 468.5,767.5 468.6,765.4 468.7,766.1 468.8,769.1 468.9,772.1 469.0,772.6 469.1,770.2 469.2,767.0 469.3,765.6 469.4,767.3 469.5,770.9 469.6,773.8 469.7,773.8 469.8,771.1 469.9,768.0 470.0,767.1 470.1,769.2 470.2,772.7 470.3,774.8 470.3,773.9 470.4,770.7 470.5,768.0 470.6,767.9 470.7,770.8 470.8,774.4 470.9,776.0 471.0,774.6 471.1,771.5 471.2,769.3 471.3,770.0 471.4,773.2 471.5,776.5 471.6,777.3 471.7,775.2 471.8,772.0 471.9,770.5 472.0,771.9 472.1,775.3 472.2,778.0 472.3,777.9 472.4,775.2 472.5,771.9 472.6,770.9 472.7,772.9 472.8,776.4 472.9,778.5 473.0,777.6 473.1,774.4 473.2,771.4 473.3,771.0 473.4,773.5 473.5,776.7 473.6,778.1 473.7,776.4 473.8,773.0 473.9,770.5 474.0,770.9 474.1,773.8 474.2,776.9 474.3,777.5 474.4,775.2 474.5,771.7 474.6,769.8 474.7,770.9 474.8,774.0 474.9,776.6 475.0,776.4 475.1,773.3 475.2,769.7 475.3,768.1 475.4,769.6 475.5,772.5 475.5,774.5 475.6,773.6 475.7,770.4 475.8,767.5 475.9,767.0 476.0,769.5 476.1,772.8 476.2,774.4 476.3,772.9 476.4,769.6 476.5,767.0 476.6,767.3 476.7,770.1 476.8,773.1 476.9,773.8 477.0,771.6 477.1,768.0 477.2,766.0 477.3,767.1 477.4,770.2 477.5,773.0 477.6,773.2 477.7,770.7 477.8,767.6 477.9,766.6 478.0,768.5 478.1,771.8 478.2,773.9 478.3,773.1 478.4,770.0 478.5,767.1 478.6,766.9 478.7,769.5 478.8,773.2 478.9,775.0 479.0,773.8 479.1,770.6 479.2,768.2 479.3,768.6 479.4,771.7 479.5,775.0 479.6,776.1 479.7,774.2 479.8,771.0 479.9,769.3 480.0,770.6 480.1,774.2 480.2,777.3 480.3,777.8 480.4,775.5 480.5,772.3 480.6,771.0 480.6,772.7 480.7,776.0 480.8,778.2 480.9,777.6 481.0,774.7 481.1,771.9 481.2,771.5 481.3,774.0 481.4,777.6 481.5,779.6 481.6,778.5 481.7,775.5 481.8,773.2 481.9,773.5 482.0,776.2 482.1,779.3 482.2,780.2 482.3,778.1 482.4,774.6 482.5,772.6 482.6,773.6 482.7,776.7 482.8,779.6 482.9,779.8 483.0,777.2 483.1,773.9 483.2,772.5 483.3,774.2 483.4,777.5 483.5,779.7 483.6,779.1 483.7,775.9 483.8,772.8 483.9,772.0 484.0,774.2 484.1,777.5 484.2,779.2 484.3,777.8 484.4,774.3 484.5,771.4 484.6,771.3 484.7,773.9 484.8,776.9 484.9,777.8 485.0,775.7 485.1,772.3 485.2,770.1 485.3,770.9 485.4,774.1 485.5,776.9 485.6,777.2 485.7,774.7 485.7,771.4 485.8,769.9 485.9,771.3 486.0,774.6 486.1,776.9 486.2,776.3 486.3,773.3 486.4,770.2 486.5,769.4 486.6,771.6 486.7,775.0 486.8,776.8 486.9,775.4 487.0,772.0 487.1,769.2 487.2,769.1 487.3,771.8 487.4,775.1 487.5,776.3 487.6,774.5 487.7,771.2 487.8,769.2 487.9,770.1 488.0,773.4 488.1,776.4 488.2,777.0 488.3,774.6 488.4,771.3 488.5,769.9 488.6,771.5 488.7,774.9 488.8,777.5 488.9,777.2 489.0,774.4 489.1,771.4 489.2,770.7 489.3,773.1 489.4,776.7 489.5,778.9 489.6,778.0 489.7,775.1 489.8,772.5 489.9,772.7 490.0,775.6 490.1,779.0 490.2,780.4 490.3,778.6 490.4,775.1 490.5,772.7 490.6,773.3 490.7,776.2 490.8,779.3 490.9,780.1 490.9,778.0 491.0,775.0 491.1,773.7 491.2,775.3 491.3,778.7 491.4,781.3 491.5,781.0 491.6,778.2 491.7,775.0 491.8,774.0 491.9,775.9 492.0,779.2 492.1,781.0 492.2,779.9 492.3,776.6 492.4,773.7 492.5,773.4 492.6,776.0 492.7,779.3 492.8,780.8 492.9,779.3 493.0,776.1 493.1,774.0 493.2,774.7 493.3,777.6 493.4,780.4 493.5,780.8 493.6,778.3 493.7,774.7 493.8,772.8 493.9,773.9 494.0,777.0 494.1,779.4 494.2,779.1 494.3,776.4 494.4,773.4 494.5,772.5 494.6,774.7 494.7,778.1 494.8,780.0 494.9,778.9 495.0,775.5 495.1,772.5 495.2,772.1 495.3,774.5 495.4,777.6 495.5,778.8 495.6,776.9 495.7,773.4 495.8,770.9 495.9,771.3 496.0,774.2 496.0,777.1 496.1,777.8 496.2,775.7 496.3,772.5 496.4,770.9 496.5,772.4 496.6,775.7 496.7,778.3 496.8,778.1 496.9,775.2 497.0,771.9 497.1,770.8 497.2,772.7 497.3,776.1 497.4,778.2 497.5,777.3 497.6,774.2 497.7,771.4 497.8,771.2 497.9,773.8 498.0,777.2 498.1,778.8 498.2,777.3 498.3,774.1 498.4,771.8 498.5,772.4 498.6,775.4 498.7,778.5 498.8,779.2 498.9,777.0 499.0,773.6 499.1,771.9 499.2,773.2 499.3,776.7 499.4,779.5 499.5,779.6 499.6,777.2 499.7,774.3 499.8,773.6 499.9,775.8 500.0,779.6 500.1,782.1 500.2,781.4 500.3,778.4 500.4,775.6 500.5,775.3 500.6,777.9 500.7,781.3 500.8,782.9 500.9,781.4 501.0,778.1 501.1,775.8 501.2,776.3 501.2,779.4 501.3,782.7 501.4,783.7 501.5,781.6 501.6,778.2 501.7,776.3 501.8,777.5 501.9,780.7 502.0,783.4 502.1,783.3 502.2,780.4 502.3,777.0 502.4,775.6 502.5,777.2 502.6,780.4 502.7,782.5 502.8,781.5 502.9,778.2 503.0,775.2 503.1,774.8 503.2,777.3 503.3,780.8 503.4,782.4 503.5,781.0 503.6,777.5 503.7,774.9 503.8,775.1 503.9,777.8 504.0,780.8 504.1,781.4 504.2,779.0 504.3,775.3 504.4,773.0 504.5,773.9 504.6,777.1 504.7,779.8 504.8,779.9 504.9,777.2 505.0,773.9 505.1,772.5 505.2,774.2 505.3,777.6 505.4,779.9 505.5,779.2 505.6,776.0 505.7,772.9 505.8,772.2 505.9,774.5 506.0,777.7 506.1,779.1 506.2,777.4 506.3,773.9 506.3,771.0 506.4,771.2 506.5,774.3 506.6,777.8 506.7,779.0 506.8,777.2 506.9,773.9 507.0,771.8 507.1,772.7 507.2,775.8 507.3,778.6 507.4,778.8 507.5,776.4 507.6,773.3 507.7,772.1 507.8,774.0 507.9,777.4 508.0,779.8 508.1,779.3 508.2,776.3 508.3,773.3 508.4,772.8 508.5,775.4 508.6,779.0 508.7,781.0 508.8,779.9 508.9,776.9 509.0,774.4 509.1,774.8 509.2,777.9 509.3,781.3 509.4,782.6 509.5,780.7 509.6,777.5 509.7,775.5 509.8,776.6 509.9,779.8 510.0,782.8 510.1,783.3 510.2,780.8 510.3,777.6 510.4,776.2 510.5,777.9 510.6,781.3 510.7,783.8 510.8,783.4 510.9,780.5 511.0,777.4 511.1,776.7 511.2,779.0 511.3,782.4 511.4,784.2 511.4,783.0 511.5,779.7 511.6,777.0 511.7,777.0 511.8,779.6 511.9,782.7 512.0,783.7 512.1,781.7 512.2,778.1 512.3,775.9 512.4,776.6 512.5,779.7 512.6,782.6 512.7,782.9 512.8,780.4 512.9,777.1 513.0,775.6 513.1,777.1 513.2,780.5 513.3,782.9 513.4,782.3 513.5,779.1 513.6,775.8 513.7,774.8 513.8,776.7 513.9,779.8 514.0,781.4 514.1,780.0 514.2,776.5 514.3,773.6 514.4,773.4 514.5,776.0 514.6,779.2 514.7,780.3 514.8,778.4 514.9,775.1 515.0,773.0 515.1,773.8 515.2,777.0 515.3,780.0 515.4,780.5 515.5,778.0 515.6,774.6 515.7,773.0 515.8,774.4 515.9,777.7 516.0,780.1 516.1,779.8 516.2,776.8 516.3,773.6 516.4,772.8 516.5,774.9 516.6,778.4 516.6,780.4 516.7,779.4 516.8,776.2 516.9,773.4 517.0,773.3 517.1,776.0 517.2,779.2 517.3,780.4 517.4,778.5 517.5,775.0 517.6,772.7 517.7,773.3 517.8,776.5 517.9,779.7 518.0,780.4 518.1,778.2 518.2,775.0 518.3,773.6 518.4,775.2 518.5,778.8 518.6,781.7 518.7,781.7 518.8,779.0 518.9,775.9 519.0,775.1 519.1,777.3 519.2,780.8 519.3,782.9 519.4,782.1 519.5,779.0 519.6,776.2 519.7,776.1 519.8,778.9 519.9,782.3 520.0,783.8 520.1,782.3 520.2,779.0 520.3,776.8 520.4,777.4 520.5,780.5 520.6,783.7 520.7,784.4 520.8,782.1 520.9,778.8 521.0,777.0 521.1,778.3 521.2,781.7 521.3,784.3 521.4,784.3 521.5,781.5 521.6,778.3 521.7,777.3 521.7,779.3 521.8,782.8 521.9,785.0 522.0,784.1 522.1,780.8 522.2,777.7 522.3,777.1 522.4,779.3 522.5,782.4 522.6,783.6 522.7,781.8 522.8,778.3 522.9,775.7 523.0,776.0 523.1,778.9 523.2,782.0 523.3,782.6 523.4,780.4 523.5,776.9 523.6,775.0 523.7,776.0 523.8,779.1 523.9,781.5 524.0,781.3 524.1,778.3 524.2,774.7 524.3,773.3 524.4,774.9 524.5,778.0 524.6,780.0 524.7,779.1 524.8,775.9 524.9,772.9 525.0,772.5 525.1,774.9 525.2,778.0 525.3,779.3 525.4,777.6 525.5,774.1 525.6,771.6 525.7,772.1 525.8,775.2 525.9,778.5 526.0,779.4 526.1,777.3 526.2,773.8 526.3,771.9 526.4,772.9 526.5,776.1 526.6,778.9 526.7,779.0 526.8,776.4 526.9,773.3 526.9,772.2 527.0,774.2 527.1,777.9 527.2,780.4 527.3,780.0 527.4,777.2 527.5,774.4 527.6,774.1 527.7,776.6 527.8,780.1 527.9,781.8 528.0,780.4 528.1,777.3 528.2,774.9 528.3,775.3 528.4,778.3 528.5,781.7 528.6,782.7 528.7,780.8 528.8,777.6 528.9,775.8 529.0,777.0 529.1,780.4 529.2,783.4 529.3,783.7 529.4,781.2 529.5,778.1 529.6,776.8 529.7,778.6 529.8,782.1 529.9,784.4 530.0,783.7 530.1,780.7 530.2,777.6 530.3,777.0 530.4,779.3 530.5,782.7 530.6,784.4 530.7,783.2 530.8,779.9 530.9,777.4 531.0,777.6 531.1,780.3 531.2,783.3 531.3,784.1 531.4,781.9 531.5,778.4 531.6,776.3 531.7,777.3 531.8,780.5 531.9,783.3 532.0,783.4 532.0,780.7 532.1,777.3 532.2,775.8 532.3,777.3 532.4,780.6 532.5,782.9 532.6,782.3 532.7,779.2 532.8,776.1 532.9,775.3 533.0,777.3 533.1,780.3 533.2,781.8 533.3,780.2 533.4,776.8 533.5,774.2 533.6,774.5 533.7,777.4 533.8,780.7 533.9,781.6 534.0,779.3 534.1,775.5 534.2,773.0 534.3,773.6 534.4,776.6 534.5,779.5 534.6,779.8 534.7,777.3 534.8,774.0 534.9,772.5 535.0,773.9 535.1,777.1 535.2,779.4 535.3,778.8 535.4,775.8 535.5,772.8 535.6,772.2 535.7,774.5 535.8,778.1 535.9,780.0 536.0,778.8 536.1,775.7 536.2,773.1 536.3,773.2 536.4,776.0 536.5,779.3 536.6,780.5 536.7,778.6 536.8,775.3 536.9,773.1 537.0,773.8 537.1,776.9 537.1,779.7 537.2,780.0 537.3,777.6 537.4,774.5 537.5,773.2 537.6,774.9 537.7,778.5 537.8,781.2 537.9,780.9 538.0,778.1 538.1,775.1 538.2,774.5 538.3,776.8 538.4,780.4 538.5,782.4 538.6,781.4 538.7,778.4 538.8,775.7 538.9,775.8 539.0,778.6 539.1,781.9 539.2,783.2 539.3,781.4 539.4,778.0 539.5,775.7 539.6,776.4 539.7,779.5 539.8,782.4 539.9,782.9 540.0,780.5 540.1,777.2 540.2,775.6 540.3,777.0 540.4,780.2 540.5,782.6 540.6,782.2 540.7,779.2 540.8,776.0 540.9,775.3 541.0,777.6 541.1,781.1 541.2,783.2 541.3,782.2 541.4,778.8 541.5,775.8 541.6,775.5 541.7,778.0 541.8,781.2 541.9,782.5 542.0,780.8 542.1,777.4 542.2,775.1 542.3,775.7 542.3,778.6 542.4,781.5 542.5,781.9 542.6,779.4 542.7,775.8 542.8,774.0 542.9,775.2 543.0,778.3 543.1,780.7 543.2,780.3 543.3,777.2 543.4,773.8 543.5,772.6 543.6,774.5 543.7,777.8 543.8,780.0 543.9,779.1 544.0,776.1 544.1,773.4 544.2,773.2 544.3,775.7 544.4,778.9 544.5,780.2 544.6,778.5 544.7,775.0 544.8,772.4 544.9,772.7 545.0,775.6 545.1,778.4 545.2,779.0 545.3,776.7 545.4,773.4 545.5,771.7 545.6,773.0 545.7,776.4 545.8,779.2 545.9,779.2 546.0,776.6 546.1,773.5 546.2,772.5 546.3,774.3 546.4,777.6 546.5,779.5 546.6,778.5 546.7,775.3 546.8,772.4 546.9,772.1 547.0,774.6 547.1,777.9 547.2,779.4 547.3,778.0 547.4,774.8 547.4,772.5 547.5,773.1 547.6,776.2 547.7,779.3 547.8,780.0 547.9,777.8 548.0,774.4 548.1,772.7 548.2,774.1 548.3,777.5 548.4,780.4 548.5,780.5 548.6,777.9 548.7,774.9 548.8,773.9 548.9,776.0 549.0,779.6 549.1,781.8 549.2,780.9 549.3,777.7 549.4,774.7 549.5,774.2 549.6,776.7 549.7,780.1 549.8,781.7 549.9,780.3 550.0,777.0 550.1,774.6 550.2,775.2 550.3,778.2 550.4,781.5 550.5,782.4 550.6,780.2 550.7,776.7 550.8,774.7 550.9,775.7 551.0,778.8 551.1,781.3 551.2,781.1 551.3,778.2 551.4,774.6 551.5,773.2 551.6,774.8 551.7,778.2 551.8,780.4 551.9,779.7 552.0,776.6 552.1,773.6 552.2,773.1 552.3,775.4 552.4,778.8 552.5,780.3 552.6,778.7 552.6,775.2 552.7,772.4 552.8,772.5 552.9,775.1 553.0,778.1 553.1,778.9 553.2,776.7 553.3,773.2 553.4,771.1 553.5,772.1 553.6,775.4 553.7,778.2 553.8,778.4 553.9,775.8 554.0,772.5 554.1,771.0 554.2,772.6 554.3,775.8 554.4,777.9 554.5,777.2 554.6,773.9 554.7,770.8 554.8,770.1 554.9,772.3 555.0,775.7 555.1,777.6 555.2,776.4 555.3,773.3 555.4,770.9 555.5,771.2 555.6,773.9 555.7,777.0 555.8,777.9 555.9,775.7 556.0,772.4 556.1,770.5 556.2,771.7 556.3,775.1 556.4,778.1 556.5,778.5 556.6,775.9 556.7,772.6 556.8,771.3 556.9,773.0 557.0,776.4 557.1,778.7 557.2,778.1 557.3,775.0 557.4,771.9 557.5,771.4 557.6,773.9 557.7,777.5 557.7,779.5 557.8,778.4 557.9,775.2 558.0,772.6 558.1,772.6 558.2,775.4 558.3,778.6 558.4,779.6 558.5,777.8 558.6,774.5 558.7,772.5 558.8,773.5 558.9,776.7 559.0,779.7 559.1,780.1 559.2,777.6 559.3,774.3 559.4,773.0 559.5,774.8 559.6,778.3 559.7,780.9 559.8,780.5 559.9,777.6 560.0,774.4 560.1,773.5 560.2,775.6 560.3,778.9 560.4,780.5 560.5,779.1 560.6,775.7 560.7,772.8 560.8,772.6 560.9,775.2 561.0,778.5 561.1,779.6 561.2,777.6 561.3,774.2 561.4,772.0 561.5,772.9 561.6,776.0 561.7,779.0 561.8,779.4 561.9,776.8 562.0,773.2 562.1,771.4 562.2,772.7 562.3,775.7 562.4,778.0 562.5,777.5 562.6,774.4 562.7,771.1 562.8,770.2 562.8,772.2 562.9,775.5 563.0,777.2 563.1,775.9 563.2,772.6 563.3,769.7 563.4,769.5 563.5,772.2 563.6,775.3 563.7,776.5 563.8,774.5 563.9,770.9 564.0,768.5 564.1,769.0 564.2,771.9 564.3,774.8 564.4,775.3 564.5,772.9 564.6,769.6 564.7,768.1 564.8,769.5 564.9,772.7 565.0,775.1 565.1,774.8 565.2,771.8 565.3,768.6 565.4,767.7 565.5,769.8 565.6,773.2 565.7,775.2 565.8,774.2 565.9,771.1 566.0,768.4 566.1,768.4 566.2,771.1 566.3,774.5 566.4,775.9 566.5,774.3 566.6,771.1 566.7,768.9 566.8,769.8 566.9,773.2 567.0,776.6 567.1,777.5 567.2,775.5 567.3,772.3 567.4,770.8 567.5,772.3 567.6,775.7 567.7,778.4 567.8,778.3 567.9,775.5 568.0,772.4 568.0,771.4 568.1,773.5 568.2,776.9 568.3,778.9 568.4,777.9 568.5,774.7 568.6,771.8 568.7,771.7 568.8,774.4 568.9,777.8 569.0,779.3 569.1,777.7 569.2,774.4 569.3,772.1 569.4,772.7 569.5,775.7 569.6,778.8 569.7,779.4 569.8,776.8 569.9,773.1 570.0,771.1 570.1,772.1 570.2,775.2 570.3,777.9 570.4,777.9 570.5,775.1 570.6,772.0 570.7,770.9 570.8,772.8 570.9,776.2 571.0,778.2 571.1,777.3 571.2,773.9 571.3,770.8 571.4,770.3 571.5,772.6 571.6,775.6 571.7,776.8 571.8,774.9 571.9,771.2 572.0,768.5 572.1,768.7 572.2,771.4 572.3,774.4 572.4,775.1 572.5,772.8 572.6,769.3 572.7,767.3 572.8,768.3 572.9,771.4 573.0,773.9 573.1,773.6 573.1,770.8 573.2,767.7 573.3,766.7 573.4,768.7 573.5,772.2 573.6,774.3 573.7,773.2 573.8,769.8 573.9,766.6 574.0,766.0 574.1,768.4 574.2,771.8 574.3,773.4 574.4,772.0 574.5,768.7 574.6,766.3 574.7,766.6 574.8,769.6 574.9,772.7 575.0,773.5 575.1,771.4 575.2,768.0 575.3,766.1 575.4,767.3 575.5,770.6 575.6,773.4 575.7,773.5 575.8,770.9 575.9,767.8 576.0,766.7 576.1,768.5 576.2,772.0 576.3,774.2 576.4,773.5 576.5,770.5 576.6,767.7 576.7,767.5 576.8,770.2 576.9,773.8 577.0,775.7 577.1,774.5 577.2,771.3 577.3,768.8 577.4,769.2 577.5,772.2 577.6,775.5 577.7,776.5 577.8,774.5 577.9,771.3 578.0,769.4 578.1,770.6 578.2,773.8 578.3,776.7 578.3,776.8 578.4,774.2 578.5,770.9 578.6,769.7 578.7,771.6 578.8,775.0 578.9,777.3 579.0,776.8 579.1,773.9 579.2,771.0 579.3,770.6 579.4,773.1 579.5,776.4 579.6,777.8 579.7,776.1 579.8,772.5 579.9,769.6 580.0,769.6 580.1,772.4 580.2,775.5 580.3,776.4 580.4,774.3 580.5,770.9 580.6,768.9 580.7,769.8 580.8,773.0 580.9,775.8 581.0,775.8 581.1,773.0 581.2,769.3 581.3,767.7 581.4,769.0 581.5,772.1 581.6,774.1 581.7,773.2 581.8,769.9 581.9,766.5 582.0,765.6 582.1,767.6 582.2,770.8 582.3,772.4 582.4,770.9 582.5,767.5 582.6,764.8 582.7,764.8 582.8,767.6 582.9,770.8 583.0,771.8 583.1,769.7 583.2,766.2 583.3,764.1 583.4,764.9 583.4,767.8 583.5,770.4 583.6,770.4 583.7,767.6 583.8,764.0 583.9,762.4 584.0,764.1 584.1,767.5 584.2,769.9 584.3,769.5 584.4,766.6 584.5,763.6 584.6,762.9 584.7,765.2 584.8,768.7 584.9,770.6 585.0,769.6 585.1,766.5 585.2,764.0 585.3,764.2 585.4,767.0 585.5,770.3 585.6,771.4 585.7,769.5 585.8,766.1 585.9,764.1 586.0,765.3 586.1,768.8 586.2,772.1 586.3,772.9 586.4,770.6 586.5,767.2 586.6,765.6 586.7,767.1 586.8,770.4 586.9,773.0 587.0,772.8 587.1,770.0 587.2,767.0 587.3,766.4 587.4,768.7 587.5,772.4 587.6,774.5 587.7,773.5 587.8,770.5 587.9,767.9 588.0,768.0 588.1,770.8 588.2,774.2 588.3,775.5 588.4,773.7 588.5,770.3 588.5,768.0 588.6,768.6 588.7,771.6 588.8,774.6 588.9,775.1 589.0,772.8 589.1,769.5 589.2,767.9 589.3,769.3 589.4,772.6 589.5,775.0 589.6,774.6 589.7,771.6 589.8,768.3 589.9,767.4 590.0,769.4 590.1,772.7 590.2,774.5 590.3,773.3 590.4,769.7 590.5,766.6 590.6,766.1 590.7,768.4 590.8,771.6 590.9,772.9 591.0,771.1 591.1,767.7 591.2,765.4 591.3,765.9 591.4,768.6 591.5,771.4 591.6,771.6 591.7,769.0 591.8,765.4 591.9,763.5 592.0,764.7 592.1,767.9 592.2,770.3 592.3,769.8 592.4,766.7 592.5,763.1 592.6,761.9 592.7,763.6 592.8,766.9 592.9,769.1 593.0,768.3 593.1,765.3 593.2,762.6 593.3,762.4 593.4,764.7 593.5,767.9 593.6,769.0 593.7,767.2 593.7,763.8 593.8,761.5 593.9,762.2 594.0,765.3 594.1,768.5 594.2,769.1 594.3,766.6 594.4,763.0 594.5,761.1 594.6,762.3 594.7,765.6 594.8,768.6 594.9,768.8 595.0,766.4 595.1,763.5 595.2,762.6 595.3,764.4 595.4,767.7 595.5,769.7 595.6,768.7 595.7,765.6 595.8,762.9 595.9,762.8 596.0,765.5 596.1,769.1 596.2,770.8 596.3,769.5 596.4,766.4 596.5,764.2 596.6,765.0 596.7,768.1 596.8,771.3 596.9,772.0 597.0,769.8 597.1,766.5 597.2,764.8 597.3,766.1 597.4,769.5 597.5,772.3 597.6,772.4 597.7,769.7 597.8,766.5 597.9,765.3 598.0,767.2 598.1,770.6 598.2,772.7 598.3,771.8 598.4,768.6 598.5,765.5 598.6,765.0 598.7,767.5 598.8,770.9 598.8,772.5 598.9,771.0 599.0,767.7 599.1,765.1 599.2,765.3 599.3,768.0 599.4,770.9 599.5,771.4 599.6,769.1 599.7,765.6 599.8,763.6 599.9,764.6 600.0,767.8 600.1,770.5 600.2,770.6 600.3,768.0 600.4,764.8 600.5,763.6 600.6,765.4 600.7,768.6 600.8,770.7 600.9,769.9 601.0,766.7 601.1,763.5 601.2,762.7 601.3,764.8 601.4,767.8 601.5,769.1 601.6,767.5 601.7,764.1 601.8,761.5 601.9,761.8 602.0,764.6 602.1,767.7 602.2,768.5 602.3,766.4 602.4,762.9 602.5,760.8 602.6,761.7 602.7,764.7 602.8,767.2 602.9,767.0 603.0,764.1 603.1,760.7 603.2,759.5 603.3,761.3 603.4,764.8 603.5,767.2 603.6,766.6 603.7,763.6 603.8,760.7 603.9,760.3 604.0,762.7 604.0,766.1 604.1,767.8 604.2,766.3 604.3,763.0 604.4,760.4 604.5,760.6 604.6,763.5 604.7,766.8 604.8,767.8 604.9,765.9 605.0,762.5 605.1,760.5 605.2,761.5 605.3,764.7 605.4,767.5 605.5,767.9 605.6,765.5 605.7,762.4 605.8,761.3 605.9,763.1 606.0,766.7 606.1,769.1 606.2,768.6 606.3,765.6 606.4,762.6 606.5,762.1 606.6,764.6 606.7,768.2 606.8,770.1 606.9,769.0 607.0,765.7 607.1,762.9 607.2,762.9 607.3,765.5 607.4,768.6 607.5,769.6 607.6,767.6 607.7,764.2 607.8,762.1 607.9,763.0 608.0,766.3 608.1,769.5 608.2,770.0 608.3,767.7 608.4,764.7 608.5,763.2 608.6,764.6 608.7,767.6 608.8,769.8 608.9,769.0 609.0,765.8 609.1,762.6 609.1,761.8 609.2,763.8 609.3,767.1 609.4,768.8 609.5,767.5 609.6,764.2 609.7,761.4 609.8,761.4 609.9,764.1 610.0,767.2 610.1,768.3 610.2,766.3 610.3,762.8 610.4,760.6 610.5,761.5 610.6,764.7 610.7,767.7 610.8,768.1 610.9,765.5 611.0,761.8 611.1,759.9 611.2,761.1 611.3,764.1 611.4,766.5 611.5,766.2 611.6,763.3 611.7,760.3 611.8,759.6 611.9,761.7 612.0,764.9 612.1,766.5 612.2,765.2 612.3,761.7 612.4,758.8 612.5,758.8 612.6,761.4 612.7,764.7 612.8,765.9 612.9,764.0 613.0,760.7 613.1,758.5 613.2,759.2 613.3,762.3 613.4,765.3 613.5,765.6 613.6,763.1 613.7,759.6 613.8,757.9 613.9,759.4 614.0,762.7 614.1,765.3 614.2,765.0 614.2,762.2 614.3,759.1 614.4,758.4 614.5,760.7 614.6,764.4 614.7,766.5 614.8,765.6 614.9,762.5 615.0,759.7 615.1,759.7 615.2,762.4 615.3,765.7 615.4,766.9 615.5,765.1 615.6,761.7 615.7,759.3 615.8,760.1 615.9,763.3 616.0,766.6 616.1,767.3 616.2,765.2 616.3,761.9 616.4,760.2 616.5,761.5 616.6,764.7 616.7,767.3 616.8,767.2 616.9,764.6 617.0,761.6 617.1,760.9 617.2,763.2 617.3,766.7 617.4,768.7 617.5,767.8 617.6,764.6 617.7,761.8 617.8,761.5 617.9,764.1 618.0,767.4 618.1,768.7 618.2,766.9 618.3,763.5 618.4,761.2 618.5,761.7 618.6,764.7 618.7,767.7 618.8,768.3 618.9,765.9 619.0,762.4 619.1,760.6 619.2,761.7 619.3,764.9 619.4,767.6 619.4,767.4 619.5,764.6 619.6,761.3 619.7,760.2 619.8,762.1 619.9,765.4 620.0,767.4 620.1,766.4 620.2,763.1 620.3,760.1 620.4,759.6 620.5,761.9 620.6,765.1 620.7,766.4 620.8,764.7 620.9,761.3 621.0,758.9 621.1,759.3 621.2,762.1 621.3,765.1 621.4,765.6 621.5,763.3 621.6,759.7 621.7,757.8 621.8,758.9 621.9,762.1 622.0,764.7 622.1,764.5 622.2,761.6 622.3,758.1 622.4,756.8 622.5,758.5 622.6,761.6 622.7,763.7 622.8,763.1 622.9,760.1 623.0,757.3 623.1,757.0 623.2,759.5 623.3,762.8 623.4,764.3 623.5,762.7 623.6,759.4 623.7,756.8 623.8,757.2 623.9,760.0 624.0,763.1 624.1,763.9 624.2,761.8 624.3,758.6 624.4,757.0 624.5,758.3 624.5,761.8 624.6,764.8 624.7,765.0 624.8,762.4 624.9,759.3 625.0,758.3 625.1,760.2 625.2,763.6 625.3,765.9 625.4,765.2 625.5,762.2 625.6,759.3 625.7,758.8 625.8,761.3 625.9,764.7 626.0,766.4 626.1,765.1 626.2,762.1 626.3,759.8 626.4,760.4 626.5,763.6 626.6,766.8 626.7,767.7 626.8,765.5 626.9,762.1 627.0,760.1 627.1,761.2 627.2,764.5 627.3,767.4 627.4,767.7 627.5,765.2 627.6,761.9 627.7,760.6 627.8,762.4 627.9,765.7 628.0,768.0 628.1,767.3 628.2,764.2 628.3,761.1 628.4,760.4 628.5,762.7 628.6,766.0 628.7,767.6 628.8,766.2 628.9,762.8 629.0,760.2 629.1,760.3 629.2,763.1 629.3,766.2 629.4,767.1 629.5,765.0 629.6,761.5 629.6,759.3 629.7,760.0 629.8,763.0 629.9,765.7 630.0,765.7 630.1,763.0 630.2,759.5 630.3,758.0 630.4,759.5 630.5,762.6 630.6,764.5 630.7,763.5 630.8,760.1 630.9,756.6 631.0,755.6 631.1,757.8 631.2,761.1 631.3,762.8 631.4,761.4 631.5,757.9 631.6,755.0 631.7,754.9 631.8,757.5 631.9,760.6 632.0,761.6 632.1,759.7 632.2,756.5 632.3,754.5 632.4,755.5 632.5,758.8 632.6,761.6 632.7,761.8 632.8,759.2 632.9,755.9 633.0,754.4 633.1,756.1 633.2,759.5 633.3,762.0 633.4,761.6 633.5,758.8 633.6,756.0 633.7,755.5 633.8,758.0 633.9,761.7 634.0,763.6 634.1,762.4 634.2,759.2 634.3,756.6 634.4,756.6 634.5,759.5 634.6,762.9 634.7,764.2 634.8,762.5 634.8,759.2 634.9,757.3 635.0,758.3 635.1,761.7 635.2,764.8 635.3,765.4 635.4,763.2 635.5,760.0 635.6,758.7 635.7,760.4 635.8,763.9 635.9,766.6 636.0,766.3 636.1,763.6 636.2,760.6 636.3,759.9 636.4,762.2 636.5,765.8 636.6,767.8 636.7,766.8 636.8,763.6 636.9,760.9 637.0,760.7 637.1,763.3 637.2,766.4 637.3,767.5 637.4,765.6 637.5,762.3 637.6,760.2 637.7,761.0 637.8,764.2 637.9,767.1 638.0,767.6 638.1,765.1 638.2,761.7 638.3,760.0 638.4,761.3 638.5,764.2 638.6,766.4 638.7,765.7 638.8,762.4 638.9,758.9 639.0,757.9 639.1,759.9 639.2,763.2 639.3,765.0 639.4,763.9 639.5,760.7 639.6,757.9 639.7,757.8 639.8,760.4 639.9,763.6 639.9,764.7 640.0,762.8 640.1,759.2 640.2,756.7 640.3,757.2 640.4,760.2 640.5,763.2 640.6,763.7 640.7,761.3 640.8,757.7 640.9,755.7 641.0,756.7 641.1,759.7 641.2,762.0 641.3,761.6 641.4,758.9 641.5,755.9 641.6,755.1 641.7,757.3 641.8,760.6 641.9,762.5 642.0,761.3 642.1,757.9 642.2,754.9 642.3,754.6 642.4,757.2 642.5,760.6 642.6,762.0 642.7,760.4 642.8,757.2 642.9,755.1 643.0,755.9 643.1,759.2 643.2,762.6 643.3,763.4 643.4,761.2 643.5,757.9 643.6,756.2 643.7,757.6 643.8,761.0 643.9,763.6 644.0,763.5 644.1,760.7 644.2,757.5 644.3,756.6 644.4,758.8 644.5,762.5 644.6,764.9 644.7,764.2 644.8,761.2 644.9,758.1 645.0,757.7 645.1,760.1 645.1,763.4 645.2,764.8 645.3,763.3 645.4,760.1 645.5,757.8 645.6,758.4 645.7,761.5 645.8,764.8 645.9,765.8 646.0,763.8 646.1,760.6 646.2,759.0 646.3,760.3 646.4,763.8 646.5,766.6 646.6,766.8 646.7,764.1 646.8,760.9 646.9,759.9 647.0,761.8 647.1,765.2 647.2,767.4 647.3,766.6 647.4,763.5 647.5,760.6 647.6,760.2 647.7,762.5 647.8,765.7 647.9,767.0 648.0,765.3 648.1,761.7 648.2,759.2 648.3,759.6 648.4,762.5 648.5,765.6 648.6,766.4 648.7,764.2 648.8,760.6 648.9,758.6 649.0,759.6 649.1,762.6 649.2,765.1 649.3,764.9 649.4,761.9 649.5,758.3 649.6,756.8 649.7,758.3 649.8,761.5 649.9,763.5 650.0,762.6 650.1,759.3 650.2,756.2 650.2,755.6 650.3,758.0 650.4,761.3 650.5,762.8 650.6,761.2 650.7,757.7 650.8,754.9 650.9,755.0 651.0,757.7 651.1,760.7 651.2,761.6 651.3,759.4 651.4,756.0 651.5,754.1 651.6,755.1 651.7,758.5 651.8,761.4 651.9,761.6 652.0,759.1 652.1,755.9 652.2,754.7 652.3,756.5 652.4,760.0 652.5,762.3 652.6,761.8 652.7,758.9 652.8,756.0 652.9,755.6 653.0,758.1 653.1,761.5 653.2,763.2 653.3,761.7 653.4,758.4 653.5,755.7 653.6,756.0 653.7,759.1 653.8,762.6 653.9,763.8 654.0,762.0 654.1,758.7 654.2,756.7 654.3,757.7 654.4,761.0 654.5,763.9 654.6,764.2 654.7,761.9 654.8,758.9 654.9,757.7 655.0,759.7 655.1,763.2 655.2,765.5 655.3,765.0 655.3,762.0 655.4,758.9 655.5,758.3 655.6,760.8 655.7,764.3 655.8,766.2 655.9,765.0 656.0,761.8 656.1,759.3 656.2,759.5 656.3,762.4 656.4,765.7 656.5,766.7 656.6,764.7 656.7,761.3 656.8,759.1 656.9,760.0 657.0,763.1 657.1,765.9 657.2,766.2 657.3,763.6 657.4,760.3 657.5,758.9 657.6,760.6 657.7,764.1 657.8,766.7 657.9,766.3 658.0,763.2 658.1,759.8 658.2,758.8 658.3,760.7 658.4,763.8 658.5,765.5 658.6,764.4 658.7,761.2 658.8,758.6 658.9,758.8 659.0,761.4 659.1,764.4 659.2,765.3 659.3,763.2 659.4,759.6 659.5,757.3 659.6,758.0 659.7,761.0 659.8,763.9 659.9,764.2 660.0,761.6 660.1,758.1 660.2,756.4 660.3,757.8 660.4,761.0 660.5,763.4 660.5,763.2 660.6,760.4 660.7,757.4 660.8,756.7 660.9,758.8 661.0,762.1 661.1,763.8 661.2,762.5 661.3,759.1 661.4,756.3 661.5,756.2 661.6,758.9 661.7,762.1 661.8,763.3 661.9,761.6 662.0,758.4 662.1,756.3 662.2,757.2 662.3,760.5 662.4,763.5 662.5,764.0 662.6,761.5 662.7,758.2 662.8,756.6 662.9,758.1 663.0,761.6 663.1,764.2 663.2,764.1 663.3,761.3 663.4,758.2 663.5,757.3 663.6,759.4 663.7,762.8 663.8,764.8 663.9,763.8 664.0,760.6 664.1,757.9 664.2,757.8 664.3,760.5 664.4,763.9 664.5,765.4 664.6,763.9 664.7,760.7 664.8,758.7 664.9,759.5 665.0,762.8 665.1,766.1 665.2,766.9 665.3,764.7 665.4,761.4 665.5,759.5 665.6,760.7 665.6,763.8 665.7,766.1 665.8,765.9 665.9,763.2 666.0,760.1 666.1,759.3 666.2,761.5 666.3,765.0 666.4,767.2 666.5,766.3 666.6,763.3 666.7,760.5 666.8,760.3 666.9,762.7 667.0,765.8 667.1,767.0 667.2,765.1 667.3,761.7 667.4,759.4 667.5,760.0 667.6,763.0 667.7,766.1 667.8,766.8 667.9,764.5 668.0,761.2 668.1,759.4 668.2,760.7 668.3,764.0 668.4,766.5 668.5,766.2 668.6,763.3 668.7,760.0 668.8,758.8 668.9,760.6 669.0,763.8 669.1,765.7 669.2,764.7 669.3,761.4 669.4,758.6 669.5,758.3 669.6,760.8 669.7,764.2 669.8,765.6 669.9,764.0 670.0,760.6 670.1,758.2 670.2,758.7 670.3,761.7 670.4,764.7 670.5,765.4 670.6,763.2 670.7,759.8 670.8,757.9 670.8,759.0 670.9,762.2 671.0,764.8 671.1,764.6 671.2,761.8 671.3,758.4 671.4,757.2 671.5,759.0 671.6,762.3 671.7,764.5 671.8,763.8 671.9,760.8 672.0,758.1 672.1,757.8 672.2,760.4 672.3,763.8 672.4,765.4 672.5,763.9 672.6,760.6 672.7,758.1 672.8,758.5 672.9,761.4 673.0,764.5 673.1,765.3 673.2,763.2 673.3,760.0 673.4,758.3 673.5,759.6 673.6,763.0 673.7,765.8 673.8,765.9 673.9,763.2 674.0,760.0 674.1,758.8 674.2,760.7 674.3,764.3 674.4,766.7 674.5,766.2 674.6,763.3 674.7,760.4 674.8,760.1 674.9,762.6 675.0,766.0 675.1,767.7 675.2,766.4 675.3,763.3 675.4,761.0 675.5,761.5 675.6,764.6 675.7,767.9 675.8,768.8 675.9,766.7 675.9,763.2 676.0,761.2 676.1,762.3 676.2,765.4 676.3,768.2 676.4,768.3 676.5,765.6 676.6,762.4 676.7,761.4 676.8,763.4 676.9,767.0 677.0,769.6 677.1,769.0 677.2,765.7 677.3,762.5 677.4,761.7 677.5,763.8 677.6,767.0 677.7,768.5 677.8,766.9 677.9,763.4 678.0,760.6 678.1,760.8 678.2,763.6 678.3,766.8 678.4,767.8 678.5,765.8 678.6,762.4 678.7,760.2 678.8,761.1 678.9,764.2 679.0,766.9 679.1,766.9 679.2,764.1 679.3,760.5 679.4,758.8 679.5,760.2 679.6,763.5 679.7,765.8 679.8,765.3 679.9,762.3 680.0,759.3 680.1,758.6 680.2,760.7 680.3,764.0 680.4,765.6 680.5,764.3 680.6,760.9 680.7,758.2 680.8,758.4 680.9,761.2 681.0,764.4 681.0,765.4 681.1,763.2 681.2,759.7 681.3,757.4 681.4,758.2 681.5,761.4 681.6,764.6 681.7,765.2 681.8,763.0 681.9,760.0 682.0,758.6 682.1,760.1 682.2,763.3 682.3,765.6 682.4,765.1 682.5,762.2 682.6,759.4 682.7,758.9 682.8,761.5 682.9,765.1 683.0,767.2 683.1,766.3 683.2,763.2 683.3,760.8 683.4,761.1 683.5,764.1 683.6,767.6 683.7,769.0 683.8,767.4 683.9,764.3 684.0,762.3 684.1,763.2 684.2,766.4 684.3,769.5 684.4,769.9 684.5,767.6 684.6,764.4 684.7,763.1 684.8,764.8 684.9,768.3 685.0,770.8 685.1,770.4 685.2,767.4 685.3,764.1 685.4,763.2 685.5,765.4 685.6,769.0 685.7,771.0 685.8,770.0 685.9,766.9 686.0,764.3 686.1,764.4 686.2,767.2 686.2,770.6 686.3,772.0 686.4,770.0 686.5,766.3 686.6,763.8 686.7,764.1 686.8,766.9 686.9,769.6 687.0,770.0 687.1,767.4 687.2,763.9 687.3,762.2 687.4,763.5 687.5,766.7 687.6,769.1 687.7,768.7 687.8,765.7 687.9,762.5 688.0,761.7 688.1,763.8 688.2,767.3 688.3,769.3 688.4,768.2 688.5,764.8 688.6,761.8 688.7,761.4 688.8,763.9 688.9,767.0 689.0,768.1 689.1,766.1 689.2,762.6 689.3,760.1 689.4,760.7 689.5,763.8 689.6,766.9 689.7,767.6 689.8,765.4 689.9,762.0 690.0,760.1 690.1,761.4 690.2,764.5 690.3,767.0 690.4,766.7 690.5,763.9 690.6,760.8 690.7,759.8 690.8,761.9 690.9,765.3 691.0,767.2 691.1,766.1 691.2,762.8 691.3,759.9 691.3,759.8 691.4,762.7 691.5,766.4 691.6,768.1 691.7,766.8 691.8,763.6 691.9,761.1 692.0,761.5 692.1,764.4 692.2,767.3 692.3,768.1 692.4,766.2 692.5,763.3 692.6,762.0 692.7,763.7 692.8,767.2 692.9,769.7 693.0,769.5 693.1,766.6 693.2,763.2 693.3,762.3 693.4,764.6 693.5,768.3 693.6,770.7 693.7,770.1 693.8,767.2 693.9,764.5 694.0,764.5 694.1,767.2 694.2,770.8 694.3,772.4 694.4,770.9 694.5,767.6 694.6,765.2 694.7,765.7 694.8,768.7 694.9,771.7 695.0,772.3 695.1,769.9 695.2,766.4 695.3,764.7 695.4,766.1 695.5,769.7 695.6,772.6 695.7,772.8 695.8,770.1 695.9,766.6 696.0,765.3 696.1,767.0 696.2,770.2 696.3,772.2 696.4,771.3 696.5,768.1 696.5,765.1 696.6,764.6 696.7,767.1 696.8,770.5 696.9,772.2 697.0,770.7 697.1,767.5 697.2,764.9 697.3,765.1 697.4,767.9 697.5,770.8 697.6,771.4 697.7,769.1 697.8,765.6 697.9,763.6 698.0,764.7 698.1,767.8 698.2,770.4 698.3,770.2 698.4,767.3 698.5,763.8 698.6,762.4 698.7,764.1 698.8,767.7 698.9,770.0 699.0,769.5 699.1,766.5 699.2,763.6 699.3,763.0 699.4,765.3 699.5,768.5 699.6,770.0 699.7,768.5 699.8,765.0 699.9,762.4 700.0,762.6 700.1,765.4 700.2,768.6 700.3,769.6 700.4,767.7 700.5,764.5 700.6,762.7 700.7,763.9 700.8,767.1 700.9,769.9 701.0,770.1 701.1,767.5 701.2,764.1 701.3,762.8 701.4,764.5 701.5,767.8 701.6,770.0 701.6,769.4 701.7,766.5 701.8,763.7 701.9,763.3 702.0,765.8 702.1,769.3 702.2,771.2 702.3,770.0 702.4,766.8 702.5,764.4 702.6,764.7 702.7,767.6 702.8,770.9 702.9,771.9 703.0,769.9 703.1,766.7 703.2,765.0 703.3,766.3 703.4,769.8 703.5,773.0 703.6,773.3 703.7,770.7 703.8,767.3 703.9,765.8 704.0,767.4 704.1,770.9 704.2,773.5 704.3,773.2 704.4,770.5 704.5,767.7 704.6,767.2 704.7,769.3 704.8,772.6 704.9,774.2 705.0,772.8 705.1,769.5 705.2,766.9 705.3,767.2 705.4,770.0 705.5,773.3 705.6,774.4 705.7,772.4 705.8,769.0 705.9,766.9 706.0,767.8 706.1,770.9 706.2,773.8 706.3,774.1 706.4,771.5 706.5,768.2 706.6,766.6 706.7,768.1 706.7,771.3 706.8,773.6 706.9,773.0 707.0,770.0 707.1,767.0 707.2,766.3 707.3,768.6 707.4,772.0 707.5,773.7 707.6,772.3 707.7,768.8 707.8,765.8 707.9,765.6 708.0,768.3 708.1,771.7 708.2,772.9 708.3,771.1 708.4,767.8 708.5,765.5 708.6,766.1 708.7,769.0 708.8,771.7 708.9,771.8 709.0,769.2 709.1,765.7 709.2,764.0 709.3,765.4 709.4,768.6 709.5,771.0 709.6,770.6 709.7,767.6 709.8,764.5 709.9,763.7 710.0,766.0 710.1,769.6 710.2,771.7 710.3,770.9 710.4,767.9 710.5,765.2 710.6,765.0 710.7,767.6 710.8,770.7 710.9,771.8 711.0,770.0 711.1,766.8 711.2,764.8 711.3,765.7 711.4,769.0 711.5,772.2 711.6,772.8 711.7,770.5 711.8,767.4 711.9,765.9 711.9,767.6 712.0,771.0 712.1,773.7 712.2,773.6 712.3,770.9 712.4,767.8 712.5,767.1 712.6,769.3 712.7,772.8 712.8,774.9 712.9,774.0 713.0,770.9 713.1,768.2 713.2,768.2 713.3,771.0 713.4,774.3 713.5,775.6 713.6,773.8 713.7,770.4 713.8,768.0 713.9,768.7 714.0,771.9 714.1,775.1 714.2,775.7 714.3,773.5 714.4,770.3 714.5,768.9 714.6,770.5 714.7,774.0 714.8,776.8 714.9,776.6 715.0,773.6 715.1,770.3 715.2,769.1 715.3,770.9 715.4,774.3 715.5,776.3 715.6,775.4 715.7,772.2 715.8,769.4 715.9,769.1 716.0,771.6 716.1,774.7 716.2,775.9 716.3,774.0 716.4,770.6 716.5,768.4 716.6,769.1 716.7,772.3 716.8,775.5 716.9,776.1 717.0,773.6 717.0,770.0 717.1,768.0 717.2,769.1 717.3,772.2 717.4,774.9 717.5,774.7 717.6,771.9 717.7,768.7 717.8,767.6 717.9,769.6 718.0,773.0 718.1,775.1 718.2,774.3 718.3,771.1 718.4,768.2 718.5,767.9 718.6,770.4 718.7,773.7 718.8,775.0 718.9,773.1 719.0,769.5 719.1,766.8 719.2,767.0 719.3,770.0 719.4,773.4 719.5,774.4 719.6,772.4 719.7,769.3 719.8,767.6 719.9,768.8 720.0,772.0 720.1,774.7 720.2,774.6 720.3,771.8 720.4,768.6 720.5,767.4 720.6,769.3 720.7,772.7 720.8,775.0 720.9,774.3 721.0,771.3 721.1,768.5 721.2,768.3 721.3,770.8 721.4,774.2 721.5,775.8 721.6,774.3 721.7,770.9 721.8,768.6 721.9,769.2 722.0,772.4 722.1,775.7 722.2,776.8 722.2,774.7 722.3,771.2 722.4,769.3 722.5,770.4 722.6,773.5 722.7,776.3 722.8,776.6 722.9,774.0 723.0,770.9 723.1,769.9 723.2,771.8 723.3,775.3 723.4,777.6 723.5,777.0 723.6,773.9 723.7,771.0 723.8,770.5 723.9,772.9 724.0,776.2 724.1,777.8 724.2,776.5 724.3,773.4 724.4,771.2 724.5,771.7 724.6,774.9 724.7,778.2 724.8,779.0 724.9,776.8 725.0,773.3 725.1,771.3 725.2,772.3 725.3,775.6 725.4,778.5 725.5,778.7 725.6,776.1 725.7,772.8 725.8,771.4 725.9,773.0 726.0,776.3 726.1,778.5 726.2,777.8 726.3,774.6 726.4,771.4 726.5,770.7 726.6,773.0 726.7,776.2 726.8,777.7 726.9,776.2 727.0,772.7 727.1,769.9 727.2,770.1 727.3,773.0 727.3,776.3 727.4,777.4 727.5,775.4 727.6,772.0 727.7,769.7 727.8,770.4 727.9,773.3 728.0,775.9 728.1,775.9 728.2,773.3 728.3,770.0 728.4,768.6 728.5,770.2 728.6,773.6 728.7,776.0 728.8,775.5 728.9,772.5 729.0,769.5 729.1,768.9 729.2,771.0 729.3,774.3 729.4,775.9 729.5,774.5 729.6,771.3 729.7,768.8 729.8,769.1 729.9,772.1 730.0,775.5 730.1,776.5 730.2,774.5 730.3,771.0 730.4,768.8 730.5,769.6 730.6,772.8 730.7,775.7 730.8,776.1 730.9,773.7 731.0,770.5 731.1,769.2 731.2,771.1 731.3,774.8 731.4,777.5 731.5,777.3 731.6,774.4 731.7,771.3 731.8,770.5 731.9,772.7 732.0,776.1 732.1,778.0 732.2,776.9 732.3,773.8 732.4,771.3 732.4,771.5 732.5,774.4 732.6,777.9 732.7,779.2 732.8,777.5 732.9,774.3 733.0,772.2 733.1,773.1 733.2,776.3 733.3,779.2 733.4,779.7 733.5,777.2 733.6,773.9 733.7,772.4 733.8,773.9 733.9,777.2 734.0,779.7 734.1,779.3 734.2,776.3 734.3,773.2 734.4,772.3 734.5,774.5 734.6,777.9 734.7,779.8 734.8,778.7 734.9,775.4 735.0,772.7 735.1,772.6 735.2,775.2 735.3,778.4 735.4,779.6 735.5,777.8 735.6,774.5 735.7,772.4 735.8,773.2 735.9,776.4 736.0,779.5 736.1,780.0 736.2,777.6 736.3,774.3 736.4,772.8 736.5,774.2 736.6,777.4 736.7,779.8 736.8,779.4 736.9,776.4 737.0,773.1 737.1,772.0 737.2,774.0 737.3,777.2 737.4,779.0 737.5,777.9 737.6,774.7 737.6,772.0 737.7,771.9 737.8,774.5 737.9,777.7 738.0,778.9 738.1,776.9 738.2,773.4 738.3,770.9 738.4,771.5 738.5,774.7 738.6,777.8 738.7,778.5 738.8,776.2 738.9,772.9 739.0,771.2 739.1,772.5 739.2,775.8 739.3,778.3 739.4,778.1 739.5,775.3 739.6,772.2 739.7,771.2 739.8,773.3 739.9,776.7 740.0,778.6 740.1,777.5 740.2,774.1 740.3,771.2 740.4,771.0 740.5,773.8 740.6,777.3 740.7,778.9 740.8,777.5 740.9,774.3 741.0,772.2 741.1,772.9 741.2,776.2 741.3,779.4 741.4,780.1 741.5,777.8 741.6,774.3 741.7,772.5 741.8,773.7 741.9,777.0 742.0,779.7 742.1,779.7 742.2,776.9 742.3,773.8 742.4,772.9 742.5,775.0 742.6,778.6 742.7,780.9 742.7,780.2 742.8,777.3 742.9,774.7 743.0,774.7 743.1,777.6 743.2,781.2 743.3,782.7 743.4,780.9 743.5,777.4 743.6,774.8 743.7,775.1 743.8,778.1 743.9,781.4 744.0,782.3 744.1,780.3 744.2,777.1 744.3,775.3 744.4,776.3 744.5,779.4 744.6,781.9 744.7,781.7 744.8,778.8 744.9,775.5 745.0,774.3 745.1,776.1 745.2,779.5 745.3,781.6 745.4,780.7 745.5,777.6 745.6,774.6 745.7,774.1 745.8,776.6 745.9,780.0 746.0,781.6 746.1,780.1 746.2,776.8 746.3,774.3 746.4,774.4 746.5,777.1 746.6,780.0 746.7,780.6 746.8,778.3 746.9,774.8 747.0,772.8 747.1,773.9 747.2,777.1 747.3,779.6 747.4,779.3 747.5,776.3 747.6,772.7 747.7,771.2 747.8,772.9 747.9,776.4 747.9,778.7 748.0,778.1 748.1,775.2 748.2,772.2 748.3,771.5 748.4,773.8 748.5,777.0 748.6,778.4 748.7,776.8 748.8,773.4 748.9,770.8 749.0,771.0 749.1,773.8 749.2,776.9 749.3,777.8 749.4,775.8 749.5,772.4 749.6,770.5 749.7,771.7 749.8,775.2 749.9,778.2 750.0,778.6 750.1,776.2 750.2,773.2 750.3,772.1 750.4,774.2 750.5,777.8 750.6,780.4 750.7,779.9 750.8,776.7 750.9,773.7 751.0,773.1 751.1,775.4 751.2,778.9 751.3,780.9 751.4,779.9 751.5,777.0 751.6,774.7 751.7,775.2 751.8,778.2 751.9,781.5 752.0,782.5 752.1,780.6 752.2,777.4 752.3,775.7 752.4,776.9 752.5,780.4 752.6,783.5 752.7,783.9 752.8,781.3 752.9,778.0 753.0,776.7 753.0,778.3 753.1,781.6 753.2,783.8 753.3,783.2 753.4,780.0 753.5,776.8 753.6,776.1 753.7,778.4 753.8,781.9 753.9,783.7 754.0,782.4 754.1,779.1 754.2,776.5 754.3,776.5 754.4,779.3 754.5,782.4 754.6,783.4 754.7,781.4 754.8,778.0 754.9,775.8 755.0,776.6 755.1,779.7 755.2,782.6 755.3,782.9 755.4,780.4 755.5,777.1 755.6,775.5 755.7,776.9 755.8,780.1 755.9,782.4 756.0,781.7 756.1,778.5 756.2,775.0 756.3,773.9 756.4,775.8 756.5,778.8 756.6,780.5 756.7,779.4 756.8,776.3 756.9,773.7 757.0,773.9 757.1,776.5 757.2,779.5 757.3,780.4 757.4,778.2 757.5,774.6 757.6,772.3 757.7,773.1 757.8,776.2 757.9,779.2 758.0,779.6 758.1,777.1 758.1,773.6 758.2,771.9 758.3,773.3 758.4,776.6 758.5,779.1 758.6,778.9 758.7,776.2 758.8,773.2 758.9,772.7 759.0,775.0 759.1,778.4 759.2,780.4 759.3,779.4 759.4,776.2 759.5,773.5 759.6,773.4 759.7,776.1 759.8,779.3 759.9,780.5 760.0,778.8 760.1,775.6 760.2,773.6 760.3,774.5 760.4,777.8 760.5,780.9 760.6,781.4 760.7,778.9 760.8,775.5 760.9,773.9 761.0,775.4 761.1,778.8 761.2,781.4 761.3,781.2 761.4,778.4 761.5,775.4 761.6,774.9 761.7,777.4 761.8,781.2 761.9,783.5 762.0,782.7 762.1,779.6 762.2,776.8 762.3,776.8 762.4,779.5 762.5,782.8 762.6,784.2 762.7,782.5 762.8,779.2 762.9,777.0 763.0,777.7 763.1,780.7 763.2,783.7 763.3,784.2 763.3,781.8 763.4,778.4 763.5,776.7 763.6,778.1 763.7,781.5 763.8,784.1 763.9,783.8 764.0,780.8 764.1,777.4 764.2,776.3 764.3,778.1 764.4,781.4 764.5,783.5 764.6,782.5 764.7,779.3 764.8,776.4 764.9,776.1 765.0,778.6 765.1,781.7 765.2,782.9 765.3,781.1 765.4,777.6 765.5,775.0 765.6,775.3 765.7,778.1 765.8,781.0 765.9,781.4 766.0,779.0 766.1,775.5 766.2,773.7 766.3,774.9 766.4,778.1 766.5,780.9 766.6,780.9 766.7,778.2 766.8,775.1 766.9,774.0 767.0,775.9 767.1,779.2 767.2,781.2 767.3,780.2 767.4,777.0 767.5,773.9 767.6,773.5 767.7,775.9 767.8,779.1 767.9,780.5 768.0,778.9 768.1,775.5 768.2,773.2 768.3,773.6 768.4,776.7 768.4,780.0 768.5,780.8 768.6,778.8 768.7,775.5 768.8,773.7 768.9,774.8 769.0,777.9 769.1,780.4 769.2,780.2 769.3,777.4 769.4,774.2 769.5,773.1 769.6,775.1 769.7,778.5 769.8,780.8 769.9,780.2 770.0,777.3 770.1,774.6 770.2,774.4 770.3,777.1 770.4,780.6 770.5,782.3 770.6,781.0 770.7,777.9 770.8,775.5 770.9,775.8 771.0,778.7 771.1,781.7 771.2,782.5 771.3,780.4 771.4,777.3 771.5,775.7 771.6,777.2 771.7,780.7 771.8,783.7 771.9,783.8 772.0,781.2 772.1,778.0 772.2,776.9 772.3,778.7 772.4,782.0 772.5,784.1 772.6,783.3 772.7,780.1 772.8,777.1 772.9,776.7 773.0,779.2 773.1,782.6 773.2,784.3 773.3,782.8 773.4,779.3 773.5,776.6 773.6,776.7 773.6,779.4 773.7,782.5 773.8,783.6 773.9,781.6 774.0,778.4 774.1,776.6 774.2,777.7 774.3,780.8 774.4,783.5 774.5,783.6 774.6,780.9 774.7,777.4 774.8,776.0 774.9,777.6 775.0,780.8 775.1,782.9 775.2,782.0 775.3,778.6 775.4,775.3 775.5,774.4 775.6,776.5 775.7,779.6 775.8,781.2 775.9,779.7 776.0,776.3 776.1,773.6 776.2,773.8 776.3,776.7 776.4,780.0 776.5,781.0 776.6,779.1 776.7,775.6 776.8,773.4 776.9,774.3 777.0,777.3 777.1,780.0 777.2,780.0 777.3,777.0 777.4,773.4 777.5,771.7 777.6,773.1 777.7,776.3 777.8,778.8 777.9,778.3 778.0,775.4 778.1,772.4 778.2,771.9 778.3,774.2 778.4,777.7 778.5,779.5 778.6,778.3 778.7,775.1 778.7,772.6 778.8,772.9 778.9,775.9 779.0,779.3 779.1,780.5 779.2,778.7 779.3,775.3 779.4,773.3 779.5,774.3 779.6,777.6 779.7,780.7 779.8,781.3 779.9,778.9 780.0,775.8 780.1,774.4 780.2,776.0 780.3,779.2 780.4,781.5 780.5,781.0 780.6,778.0 780.7,775.1 780.8,774.5 780.9,776.8 781.0,780.3 781.1,782.3 781.2,781.4 781.3,778.3 781.4,775.9 781.5,776.1 781.6,779.0 781.7,782.3 781.8,783.4 781.9,781.5 782.0,778.1 782.1,776.1 782.2,777.1 782.3,780.5 782.4,783.7 782.5,784.3 782.6,781.9 782.7,778.5 782.8,776.9 782.9,778.4 783.0,781.6 783.1,784.0 783.2,783.5 783.3,780.4 783.4,777.1 783.5,776.1 783.6,778.1 783.7,781.4 783.8,783.2 783.8,782.0 783.9,778.6 784.0,775.7 784.1,775.6 784.2,778.2 784.3,781.3 784.4,782.4 784.5,780.6 784.6,777.2 784.7,775.0 784.8,775.7 784.9,778.8 785.0,781.6 785.1,781.7 785.2,778.9 785.3,775.1 785.4,773.1 785.5,774.4 785.6,777.8 785.7,780.4 785.8,780.2 785.9,777.4 786.0,774.1 786.1,773.0 786.2,774.9 786.3,778.0 786.4,779.8 786.5,778.5 786.6,775.2 786.7,772.2 786.8,772.0 786.9,774.5 787.0,777.8 787.1,779.3 787.2,777.7 787.3,774.5 787.4,772.4 787.5,773.1 787.6,776.1 787.7,779.0 787.8,779.4 787.9,777.0 788.0,773.6 788.1,771.9 788.2,773.2 788.3,776.5 788.4,779.1 788.5,778.9 788.6,776.0 788.7,772.7 788.8,771.7 788.9,773.7 789.0,777.2 789.0,779.4 789.1,778.6 789.2,775.5 789.3,772.9 789.4,772.8 789.5,775.6 789.6,779.1 789.7,780.6 789.8,779.1 789.9,775.9 790.0,773.5 790.1,774.1 790.2,777.1 790.3,780.2 790.4,780.9 790.5,778.8 790.6,775.5 790.7,773.9 790.8,775.3 790.9,778.8 791.0,781.7 791.1,781.7 791.2,779.1 791.3,776.1 791.4,775.1 791.5,777.1 791.6,780.5 791.7,782.6 791.8,781.8 791.9,778.5 792.0,775.6 792.1,775.1 792.2,777.6 792.3,780.8 792.4,782.2 792.5,780.5 792.6,777.1 792.7,774.7 792.8,775.1 792.9,778.1 793.0,781.2 793.1,781.9 793.2,779.7 793.3,776.3 793.4,774.5 793.5,775.7 793.6,779.0 793.7,781.6 793.8,781.6 793.9,778.8 794.0,775.5 794.1,774.3 794.1,776.2 794.2,779.5 794.3,781.5 794.4,780.4 794.5,776.9 794.6,773.7 794.7,773.0 794.8,775.3 794.9,778.7 795.0,780.3 795.1,778.8 795.2,775.5 795.3,773.0 795.4,773.1 795.5,775.7 795.6,778.6 795.7,779.2 795.8,776.8 795.9,773.2 796.0,771.2 796.1,772.2 796.2,775.2 796.3,777.9 796.4,777.9 796.5,775.2 796.6,771.9 796.7,770.7 796.8,772.5 796.9,775.9 797.0,778.2 797.1,777.5 797.2,774.4 797.3,771.5 797.4,771.2 797.5,773.8 797.6,777.3 797.7,779.1 797.8,777.6 797.9,774.1 798.0,771.4 798.1,771.6 798.2,774.3 798.3,777.3 798.4,778.2 798.5,776.0 798.6,772.6 798.7,770.6 798.8,771.8 798.9,775.3 799.0,778.3 799.1,778.7 799.2,776.4 799.3,773.2 799.3,771.8 799.4,773.4 799.5,776.7 799.6,779.0 799.7,778.4 799.8,775.5 799.9,772.7 800.0,772.3 800.1,774.8 800.2,778.3 800.3,780.0 800.4,778.6 800.5,775.3 800.6,772.7 800.7,773.0 800.8,775.9 800.9,779.2 801.0,780.3 801.1,778.3 801.2,775.0 801.3,773.2 801.4,774.3 801.5,777.7 801.6,780.7 801.7,781.0 801.8,778.4 801.9,775.0 802.0,773.6 802.1,775.3 802.2,778.7 802.3,781.1 802.4,780.7 802.5,777.7 802.6,774.8 802.7,774.1 802.8,776.4 802.9,779.7 803.0,781.4 803.1,780.0 803.2,776.6 803.3,773.8 803.4,773.8 803.5,776.5 803.6,779.5 803.7,780.4 803.8,778.2 803.9,774.5 804.0,772.2 804.1,772.8 804.2,775.8 804.3,778.6 804.4,778.9 804.4,776.3 804.5,772.9 804.6,771.3 804.7,772.6 804.8,775.7 804.9,777.8 805.0,777.1 805.1,773.9 805.2,770.7 805.3,769.9 805.4,772.1 805.5,775.4 805.6,777.0 805.7,775.6 805.8,772.1 805.9,769.2 806.0,769.1 806.1,771.7 806.2,774.9 806.3,776.0 806.4,774.0 806.5,770.6 806.6,768.4 806.7,769.3 806.8,772.5 806.9,775.4 807.0,775.9 807.1,773.5 807.2,770.2 807.3,768.8 807.4,770.4 807.5,773.9 807.6,776.4 807.7,775.9 807.8,772.9 807.9,769.7 808.0,768.8 808.1,771.0 808.2,774.5 808.3,776.4 808.4,775.4 808.5,772.2 808.6,769.6 808.7,769.8 808.8,772.8 808.9,776.3 809.0,777.7 809.1,776.1 809.2,772.8 809.3,770.7 809.4,771.6 809.5,774.8 809.5,777.8 809.6,778.1 809.7,775.6 809.8,772.1 809.9,770.4 810.0,771.9 810.1,775.4 810.2,778.1 810.3,778.0 810.4,775.3 810.5,772.3 810.6,771.7 810.7,774.0 810.8,777.7 810.9,779.9 811.0,779.0 811.1,776.0 811.2,773.3 811.3,773.3 811.4,776.1 811.5,779.5 811.6,780.7 811.7,778.9 811.8,775.4 811.9,773.1 812.0,773.6 812.1,776.5 812.2,779.4 812.3,779.8 812.4,777.3 812.5,773.8 812.6,771.9 812.7,773.1 812.8,776.1 812.9,778.5 813.0,778.2 813.1,775.5 813.2,772.5 813.3,771.7 813.4,773.8 813.5,777.1 813.6,778.7 813.7,777.4 813.8,773.8 813.9,770.6 814.0,770.0 814.1,772.3 814.2,775.4 814.3,776.5 814.4,774.5 814.5,770.9 814.6,768.4 814.7,768.7 814.7,771.6 814.8,774.4 814.9,774.9 815.0,772.6 815.1,769.1 815.2,767.3 815.3,768.5 815.4,771.7 815.5,774.1 815.6,773.8 815.7,770.8 815.8,767.4 815.9,766.2 816.0,768.1 816.1,771.4 816.2,773.4 816.3,772.5 816.4,769.4 816.5,766.6 816.6,766.5 816.7,769.2 816.8,772.7 816.9,774.2 817.0,772.5 817.1,769.1 817.2,766.6 817.3,767.1 817.4,769.9 817.5,772.9 817.6,773.5 817.7,771.1 817.8,767.6 817.9,765.9 818.0,767.5 818.1,771.1 818.2,774.2 818.3,774.6 818.4,772.1 818.5,769.0 818.6,768.0 818.7,770.0 818.8,773.6 818.9,775.8 819.0,775.0 819.1,771.9 819.2,769.0 819.3,768.6 819.4,771.2 819.5,774.6 819.6,776.2 819.7,774.7 819.8,771.4 819.8,769.1 819.9,769.8 820.0,773.0 820.1,776.4 820.2,777.5 820.3,775.4 820.4,772.1 820.5,770.2 820.6,771.3 820.7,774.5 820.8,777.2 820.9,777.2 821.0,774.4 821.1,771.1 821.2,769.7 821.3,771.5 821.4,774.9 821.5,777.2 821.6,776.5 821.7,773.4 821.8,770.5 821.9,770.2 822.0,772.8 822.1,776.3 822.2,778.1 822.3,776.6 822.4,772.9 822.5,770.1 822.6,770.1 822.7,772.6 822.8,775.6 822.9,776.5 823.0,774.5 823.1,771.1 823.2,769.2 823.3,770.0 823.4,772.8 823.5,775.2 823.6,774.9 823.7,771.9 823.8,768.3 823.9,766.9 824.0,768.6 824.1,771.9 824.2,774.1 824.3,773.3 824.4,770.1 824.5,766.9 824.6,766.1 824.7,768.3 824.8,771.6 824.9,773.2 825.0,771.9 825.0,768.6 825.1,766.0 825.2,766.3 825.3,769.1 825.4,772.4 825.5,773.4 825.6,771.4 825.7,768.0 825.8,765.9 825.9,766.8 826.0,769.9 826.1,772.6 826.2,772.8 826.3,770.3 826.4,767.0 826.5,765.6 826.6,767.4 826.7,770.7 826.8,772.8 826.9,772.1 827.0,768.9 827.1,765.7 827.2,764.9 827.3,767.2 827.4,770.6 827.5,772.4 827.6,771.1 827.7,767.9 827.8,765.5 827.9,765.8 828.0,768.8 828.1,772.2 828.2,773.3 828.3,771.3 828.4,767.8 828.5,765.7 828.6,766.5 828.7,769.8 828.8,772.9 828.9,773.5 829.0,771.2 829.1,768.2 829.2,766.9 829.3,768.5 829.4,771.8 829.5,774.3 829.6,773.8 829.7,770.9 829.8,767.9 829.9,767.2 830.0,769.5 830.1,773.0 830.1,774.9 830.2,773.7 830.3,770.5 830.4,767.8 830.5,767.9 830.6,770.7 830.7,774.1 830.8,775.4 830.9,773.7 831.0,770.4 831.1,768.3 831.2,769.1 831.3,772.2 831.4,775.0 831.5,775.4 831.6,772.8 831.7,769.5 831.8,767.9 831.9,769.4 832.0,772.7 832.1,775.1 832.2,774.4 832.3,771.2 832.4,767.9 832.5,766.8 832.6,768.8 832.7,772.1 832.8,773.9 832.9,772.7 833.0,769.4 833.1,766.5 833.2,766.1 833.3,768.5 833.4,771.5 833.5,772.4 833.6,770.4 833.7,766.9 833.8,764.6 833.9,765.3 834.0,768.3 834.1,771.3 834.2,771.7 834.3,769.2 834.4,765.9 834.5,764.2 834.6,765.6 834.7,768.8 834.8,771.2 834.9,770.8 835.0,767.8 835.1,764.4 835.2,763.2 835.2,765.0 835.3,768.1 835.4,769.8 835.5,768.6 835.6,765.2 835.7,762.3 835.8,762.1 835.9,764.6 836.0,767.9 836.1,769.4 836.2,767.8 836.3,764.6 836.4,762.5 836.5,763.2 836.6,766.2 836.7,769.1 836.8,769.6 836.9,767.1 837.0,763.7 837.1,762.0 837.2,763.3 837.3,766.5 837.4,769.1 837.5,768.9 837.6,766.2 837.7,763.1 837.8,762.3 837.9,764.5 838.0,768.2 838.1,770.6 838.2,770.0 838.3,767.2 838.4,764.8 838.5,764.8 838.6,767.4 838.7,770.8 838.8,772.2 838.9,770.5 839.0,767.2 839.1,764.8 839.2,765.4 839.3,768.4 839.4,771.5 839.5,772.2 839.6,770.1 839.7,766.9 839.8,765.4 839.9,766.8 840.0,770.3 840.1,773.2 840.2,773.3 840.3,770.7 840.4,767.7 840.4,766.8 840.5,768.6 840.6,771.9 840.7,773.9 840.8,772.9 840.9,769.7 841.0,766.8 841.1,766.5 841.2,769.0 841.3,772.3 841.4,773.6 841.5,771.9 841.6,768.5 841.7,765.9 841.8,766.3 841.9,769.0 842.0,771.8 842.1,772.2 842.2,769.7 842.3,765.9 842.4,763.9 842.5,765.0 842.6,768.2 842.7,770.8 842.8,770.6 842.9,767.7 843.0,764.2 843.1,762.9 843.2,764.6 843.3,767.7 843.4,769.7 843.5,768.8 843.6,765.6 843.7,762.6 843.8,762.1 843.9,764.4 844.0,767.6 844.1,768.9 844.2,767.2 844.3,763.7 844.4,761.1 844.5,761.6 844.6,764.6 844.7,767.7 844.8,768.6 844.9,766.4 845.0,762.7 845.1,760.6 845.2,761.5 845.3,764.5 845.4,767.2 845.5,767.3 845.5,764.7 845.6,761.5 845.7,760.4 845.8,762.3 845.9,765.6 846.0,767.7 846.1,766.9 846.2,763.8 846.3,760.9 846.4,760.6 846.5,763.3 846.6,766.9 846.7,768.7 846.8,767.3 846.9,763.8 847.0,761.1 847.1,761.3 847.2,764.1 847.3,767.3 847.4,768.4 847.5,766.5 847.6,763.4 847.7,761.6 847.8,762.8 847.9,765.9 848.0,768.6 848.1,768.7 848.2,765.9 848.3,762.8 848.4,761.7 848.5,763.8 848.6,767.4 848.7,770.0 848.8,769.5 848.9,766.5 849.0,763.6 849.1,763.1 849.2,765.5 849.3,768.9 849.4,770.6 849.5,769.2 849.6,765.9 849.7,763.3 849.8,763.5 849.9,766.3 850.0,769.4 850.1,770.3 850.2,768.1 850.3,764.7 850.4,762.7 850.5,763.7 850.6,767.0 850.6,769.8 850.7,770.1 850.8,767.7 850.9,764.4 851.0,763.2 851.1,764.9 851.2,768.3 851.3,770.5 851.4,769.8 851.5,766.7 851.6,763.5 851.7,762.6 851.8,764.7 851.9,767.9 852.0,769.5 852.1,768.0 852.2,764.5 852.3,761.7 852.4,761.7 852.5,764.4 852.6,767.5 852.7,768.5 852.8,766.4 852.9,762.9 853.0,760.8 853.1,761.6 853.2,764.7 853.3,767.6 853.4,767.9 853.5,765.4 853.6,762.1 853.7,760.5 853.8,761.8 853.9,764.8 854.0,767.0 854.1,766.2 854.2,763.1 854.3,760.1 854.4,759.5 854.5,761.8 854.6,765.3 854.7,767.0 854.8,765.7 854.9,762.2 855.0,759.4 855.1,759.3 855.2,761.9 855.3,765.1 855.4,766.2 855.5,764.2 855.6,760.8 855.7,758.6 855.8,759.5 855.8,762.6 855.9,765.6 856.0,766.0 856.1,763.7 856.2,760.6 856.3,759.3 856.4,761.0 856.5,764.6 856.6,767.2 856.7,766.8 856.8,763.9 856.9,760.8 857.0,760.0 857.1,762.1 857.2,765.4 857.3,767.2 857.4,766.0 857.5,762.6 857.6,759.9 857.7,760.0 857.8,762.8 857.9,766.2 858.0,767.5 858.1,765.8 858.2,762.4 858.3,760.2 858.4,760.9 858.5,764.0 858.6,767.1 858.7,767.7 858.8,765.3 858.9,762.1 859.0,760.6 859.1,762.1 859.2,765.5 859.3,768.1 859.4,767.8 859.5,765.0 859.6,761.8 859.7,760.9 859.8,763.0 859.9,766.3 860.0,768.2 860.1,767.2 860.2,763.9 860.3,761.1 860.4,760.9 860.5,763.6 860.6,766.9 860.7,768.4 860.8,766.8 860.9,763.5 860.9,761.4 861.0,762.0 861.1,764.8 861.2,767.6 861.3,767.9 861.4,765.3 861.5,761.8 861.6,760.0 861.7,761.2 861.8,764.4 861.9,766.8 862.0,766.6 862.1,764.0 862.2,760.9 862.3,760.1 862.4,762.3 862.5,765.7 862.6,767.5 862.7,766.3 862.8,762.9 862.9,759.9 863.0,759.5 863.1,761.9 863.2,765.1 863.3,766.3 863.4,764.5 863.5,761.0 863.6,758.6 863.7,759.0 863.8,762.0 863.9,764.9 864.0,765.4 864.1,763.0 864.2,759.4 864.3,757.5 864.4,758.7 864.5,762.0 864.6,764.8 864.7,764.9 864.8,762.3 864.9,759.3 865.0,758.4 865.1,760.3 865.2,763.7 865.3,765.7 865.4,764.8 865.5,761.6 865.6,758.5 865.7,757.9 865.8,760.3 865.9,763.4 866.0,764.9 866.1,763.4 866.1,760.3 866.2,758.1 866.3,758.7 866.4,761.8 866.5,764.9 866.6,765.6 866.7,763.4 866.8,760.0 866.9,758.3 867.0,759.6 867.1,763.1 867.2,765.9 867.3,766.1 867.4,763.3 867.5,759.9 867.6,758.6 867.7,760.3 867.8,763.6 867.9,765.7 868.0,765.2 868.1,762.3 868.2,759.5 868.3,759.4 868.4,762.0 868.5,765.6 868.6,767.3 868.7,766.0 868.8,762.8 868.9,760.3 869.0,760.5 869.1,763.3 869.2,766.2 869.3,766.8 869.4,764.6 869.5,761.3 869.6,759.5 869.7,760.8 869.8,764.1 869.9,767.0 870.0,767.1 870.1,764.5 870.2,761.3 870.3,760.2 870.4,762.1 870.5,765.5 870.6,767.7 870.7,767.0 870.8,763.9 870.9,760.9 871.0,760.4 871.1,762.8 871.2,766.1 871.2,767.6 871.3,766.0 871.4,762.3 871.5,759.4 871.6,759.4 871.7,761.9 871.8,765.0 871.9,766.0 872.0,764.0 872.1,760.7 872.2,758.9 872.3,759.9 872.4,763.0 872.5,765.6 872.6,765.6 872.7,762.8 872.8,759.3 872.9,757.8 873.0,759.4 873.1,762.5 873.2,764.6 873.3,763.9 873.4,760.9 873.5,757.9 873.6,757.4 873.7,759.8 873.8,763.1 873.9,764.5 874.0,762.8 874.1,759.3 874.2,756.4 874.3,756.5 874.4,759.3 874.5,762.4 874.6,763.4 874.7,761.4 874.8,757.9 874.9,755.9 875.0,756.8 875.1,760.0 875.2,762.9 875.3,763.1 875.4,760.7 875.5,757.5 875.6,756.2 875.7,758.0 875.8,761.5 875.9,763.9 876.0,763.4 876.1,760.5 876.2,757.5 876.3,756.9 876.3,759.2 876.4,762.5 876.5,764.2 876.6,762.8 876.7,759.5 876.8,756.9 876.9,757.1 877.0,759.9 877.1,763.2 877.2,764.4 877.3,762.7 877.4,759.5 877.5,757.6 877.6,758.7 877.7,762.0 877.8,764.9 877.9,765.2 878.0,762.7 878.1,759.4 878.2,758.1 878.3,760.1 878.4,763.7 878.5,766.5 878.6,766.3 878.7,763.5 878.8,760.3 878.9,759.4 879.0,761.5 879.1,764.8 879.2,766.7 879.3,765.6 879.4,762.6 879.5,760.1 879.6,760.3 879.7,763.1 879.8,766.3 879.9,767.5 880.0,765.5 880.1,762.1 880.2,759.9 880.3,760.8 880.4,763.9 880.5,766.9 880.6,767.3 880.7,764.6 880.8,760.9 880.9,759.0 881.0,760.2 881.1,763.2 881.2,765.5 881.3,765.2 881.4,762.4 881.5,759.4 881.5,758.7 881.6,760.8 881.7,764.1 881.8,765.8 881.9,764.5 882.0,761.1 882.1,758.1 882.2,757.9 882.3,760.4 882.4,763.5 882.5,764.5 882.6,762.5 882.7,759.0 882.8,756.6 882.9,757.1 883.0,760.0 883.1,762.8 883.2,763.0 883.3,760.4 883.4,756.8 883.5,755.0 883.6,756.3 883.7,759.8 883.8,762.5 883.9,762.3 884.0,759.6 884.1,756.4 884.2,755.5 884.3,757.6 884.4,760.9 884.5,762.9 884.6,761.8 884.7,758.5 884.8,755.7 884.9,755.5 885.0,758.1 885.1,761.3 885.2,762.5 885.3,760.6 885.4,757.1 885.5,754.6 885.6,755.3 885.7,758.4 885.8,761.6 885.9,762.2 886.0,760.0 886.1,756.8 886.2,755.2 886.3,756.7 886.4,760.1 886.5,762.8 886.6,762.8 886.6,760.3 886.7,757.4 886.8,756.7 886.9,759.0 887.0,762.7 887.1,765.0 887.2,764.4 887.3,761.5 887.4,759.0 887.5,758.9 887.6,761.5 887.7,764.8 887.8,766.1 887.9,764.4 888.0,761.1 888.1,759.0 888.2,759.7 888.3,763.0 888.4,766.2 888.5,767.0 888.6,764.8 888.7,761.6 888.8,759.9 888.9,761.3 889.0,764.7 889.1,767.3 889.2,767.1 889.3,764.3 889.4,761.0 889.5,759.9 889.6,761.7 889.7,765.0 889.8,766.9 889.9,765.8 890.0,762.6 890.1,759.6 890.2,759.3 890.3,761.8 890.4,765.1 890.5,766.4 890.6,764.7 890.7,761.2 890.8,758.6 890.9,758.9 891.0,761.7 891.1,764.7 891.2,765.3 891.3,763.0 891.4,759.4 891.5,757.5 891.6,758.6 891.7,761.7 891.8,764.2 891.8,764.0 891.9,761.1 892.0,757.8 892.1,756.5 892.2,758.2 892.3,761.5 892.4,763.5 892.5,762.5 892.6,759.1 892.7,756.0 892.8,755.4 892.9,757.8 893.0,761.0 893.1,762.5 893.2,760.9 893.3,757.5 893.4,754.9 893.5,755.2 893.6,758.1 893.7,761.2 893.8,762.0 893.9,759.8 894.0,756.5 894.1,754.7 894.2,755.9 894.3,759.2 894.4,762.1 894.5,762.2 894.6,759.6 894.7,756.4 894.8,755.2 894.9,757.1 895.0,760.3 895.1,762.5 895.2,761.7 895.3,758.5 895.4,755.6 895.5,755.2 895.6,757.8 895.7,761.3 895.8,763.1 895.9,761.8 896.0,758.5 896.1,756.1 896.2,756.5 896.3,759.5 896.4,762.9 896.5,764.0 896.6,762.2 896.7,759.1 896.8,757.4 896.9,758.7 896.9,762.2 897.0,765.2 897.1,765.6 897.2,763.2 897.3,759.9 897.4,758.6 897.5,760.2 897.6,763.5 897.7,765.7 897.8,765.1 897.9,762.4 898.0,759.7 898.1,759.4 898.2,762.0 898.3,765.5 898.4,767.1 898.5,765.6 898.6,762.2 898.7,759.5 898.8,759.7 898.9,762.8 899.0,766.3 899.1,767.5 899.2,765.7 899.3,762.4 899.4,760.3 899.5,761.2 899.6,764.4 899.7,767.2 899.8,767.3 899.9,764.7 900.0,761.3 900.1,759.8 900.2,761.4 900.3,764.7 900.4,766.9 900.5,766.2 900.6,763.1 900.7,759.9 900.8,759.0 900.9,761.0 901.0,764.0 901.1,765.4 901.2,763.8 901.3,760.4 901.4,757.8 901.5,758.0 901.6,760.9 901.7,764.2 901.8,765.2 901.9,763.0 902.0,759.3 902.0,757.0 902.1,757.6 902.2,760.6 902.3,763.2 902.4,763.3 902.5,760.6 902.6,757.0 902.7,755.4 902.8,756.9 902.9,760.2 903.0,762.5 903.1,761.9 903.2,758.9 903.3,755.6 903.4,754.8 903.5,756.9 903.6,760.2 903.7,762.0 903.8,760.8 903.9,757.6 904.0,754.9 904.1,755.0 904.2,757.9 904.3,761.3 904.4,762.6 904.5,760.9 904.6,757.7 904.7,755.6 904.8,756.6 904.9,759.8 905.0,762.9 905.1,763.4 905.2,760.9 905.3,757.5 905.4,755.9 905.5,757.4 905.6,760.7 905.7,763.3 905.8,763.2 905.9,760.6 906.0,757.8 906.1,757.3 906.2,759.8 906.3,763.4 906.4,765.5 906.5,764.6 906.6,761.6 906.7,759.1 906.8,759.2 906.9,762.0 907.0,765.4 907.1,766.8 907.2,765.1 907.2,761.9 907.3,759.9 907.4,760.8 907.5,764.1 907.6,767.1 907.7,767.5 907.8,765.0 907.9,761.6 908.0,759.9 908.1,761.4 908.2,764.9 908.3,767.7 908.4,767.6 908.5,764.9 908.6,761.8 908.7,760.8 908.8,762.8 908.9,766.1 909.0,767.9 909.1,766.8 909.2,763.6 909.3,760.8 909.4,760.7 909.5,763.3 909.6,766.5 909.7,767.7 909.8,765.8 909.9,762.3 910.0,759.8 910.1,760.3 910.2,763.1 910.3,765.9 910.4,766.2 910.5,763.6 910.6,760.1 910.7,758.4 910.8,759.8 910.9,763.1 911.0,765.7 911.1,765.5 911.2,762.6 911.3,759.3 911.4,758.3 911.5,760.3 911.6,763.6 911.7,765.3 911.8,764.1 911.9,760.6 912.0,757.4 912.1,757.1 912.2,759.7 912.3,763.0 912.3,764.4 912.4,762.8 912.5,759.4 912.6,757.0 912.7,757.5 912.8,760.5 912.9,763.5 913.0,764.0 913.1,761.5 913.2,757.9 913.3,756.0 913.4,757.1 913.5,760.4 913.6,763.3 913.7,763.3 913.8,760.8 913.9,757.8 914.0,756.8 914.1,758.8 914.2,762.3 914.3,764.4 914.4,763.6 914.5,760.5 914.6,757.7 914.7,757.4 914.8,760.0 914.9,763.4 915.0,764.9 915.1,763.3 915.2,759.9 915.3,757.5 915.4,758.0 915.5,761.1 915.6,764.3 915.7,765.2 915.8,763.1 915.9,759.8 916.0,758.2 916.1,759.6 916.2,763.1 916.3,766.1 916.4,766.3 916.5,763.8 916.6,760.8 916.7,759.9 916.8,762.0 916.9,765.6 917.0,767.9 917.1,767.2 917.2,764.2 917.3,761.4 917.4,761.1 917.5,763.7 917.5,767.1 917.6,768.6 917.7,767.1 917.8,763.8 917.9,761.3 918.0,761.4 918.1,764.1 918.2,767.0 918.3,767.6 918.4,765.4 918.5,762.2 918.6,760.5 918.7,761.8 918.8,765.2 918.9,768.0 919.0,768.0 919.1,765.3 919.2,762.0 919.3,760.7 919.4,762.4 919.5,765.7 919.6,767.8 919.7,767.0 919.8,763.8 919.9,760.7 920.0,760.2 920.1,762.6 920.2,766.0 920.3,767.5 920.4,766.1 920.5,762.8 920.6,760.2 920.7,760.5 920.8,763.4 920.9,766.4 921.0,767.1 921.1,764.7 921.2,761.0 921.3,758.8 921.4,759.7 921.5,763.0 921.6,765.9 921.7,766.1 921.8,763.5 921.9,760.2 922.0,758.8 922.1,760.4 922.2,763.7 922.3,765.8 922.4,765.2 922.5,762.1 922.6,759.2 922.6,758.7 922.7,761.1 922.8,764.4 922.9,765.9 923.0,764.3 923.1,760.8 923.2,758.0 923.3,758.1 923.4,760.9 923.5,764.1 923.6,765.0 923.7,763.0 923.8,759.7 923.9,757.9 924.0,759.0 924.1,762.4 924.2,765.5 924.3,765.9 924.4,763.5 924.5,760.4 924.6,759.2 924.7,761.0 924.8,764.5 924.9,766.9 925.0,766.4 925.1,763.4 925.2,760.4 925.3,759.9 925.4,762.3 925.5,765.9 925.6,767.8 925.7,766.8 925.8,763.6 925.9,761.1 926.0,761.4 926.1,764.3 926.2,767.6 926.3,768.7 926.4,766.8 926.5,763.4 926.6,761.3 926.7,762.1 926.8,765.3 926.9,768.4 927.0,768.8 927.1,766.4 927.2,763.1 927.3,761.8 927.4,763.5 927.5,766.9 927.6,769.4 927.7,769.0 927.7,766.1 927.8,763.1 927.9,762.5 928.0,764.8 928.1,768.3 928.2,770.1 928.3,768.9 928.4,765.6 928.5,762.8 928.6,762.8 928.7,765.5 928.8,768.8 928.9,769.9 929.0,768.0 929.1,764.6 929.2,762.4 929.3,763.2 929.4,766.3 929.5,769.2 929.6,769.5 929.7,767.0 929.8,763.7 929.9,762.1 930.0,763.7 930.1,767.0 930.2,769.3 930.3,768.6 930.4,765.3 930.5,761.8 930.6,760.7 930.7,762.7 930.8,766.2 930.9,768.1 931.0,767.0 931.1,763.8 931.2,761.0 931.3,760.7 931.4,763.2 931.5,766.2 931.6,767.2 931.7,765.2 931.8,761.8 931.9,759.5 932.0,760.1 932.1,763.1 932.2,766.1 932.3,766.7 932.4,764.4 932.5,761.1 932.6,759.7 932.7,761.1 932.8,764.4 932.9,766.8 932.9,766.5 933.0,763.5 933.1,760.4 933.2,759.6 933.3,761.7 933.4,765.2 933.5,767.3 933.6,766.3 933.7,763.0 933.8,760.2 933.9,760.1 934.0,762.7 934.1,766.0 934.2,767.4 934.3,765.7 934.4,762.4 934.5,760.1 934.6,761.0 934.7,764.5 934.8,767.9 934.9,768.9 935.0,767.0 935.1,763.7 935.2,761.9 935.3,763.2 935.4,766.4 935.5,768.8 935.6,768.7 935.7,766.2 935.8,763.3 935.9,762.7 936.0,765.1 936.1,768.7 936.2,770.9 936.3,770.0 936.4,767.0 936.5,764.3 936.6,764.1 936.7,766.7 936.8,769.9 936.9,771.3 937.0,769.5 937.1,766.3 937.2,764.1 937.3,764.9 937.4,768.2 937.5,771.4 937.6,772.2 937.7,769.9 937.8,766.4 937.9,764.7 938.0,765.9 938.0,769.2 938.1,772.0 938.2,772.0 938.3,769.3 938.4,766.2 938.5,765.2 938.6,767.2 938.7,770.6 938.8,772.7 938.9,771.8 939.0,768.5 939.1,765.4 939.2,764.9 939.3,767.2 939.4,770.3 939.5,771.6 939.6,770.0 939.7,766.6 939.8,764.2 939.9,764.6 940.0,767.4 940.1,770.2 940.2,770.5 940.3,767.9 940.4,764.2 940.5,762.3 940.6,763.6 940.7,767.0 940.8,769.8 940.9,769.9 941.0,767.2 941.1,763.8 941.2,762.5 941.3,764.2 941.4,767.5 941.5,769.4 941.6,768.2 941.7,764.8 941.8,761.5 941.9,760.8 942.0,763.2 942.1,766.7 942.2,768.3 942.3,767.0 942.4,763.8 942.5,761.3 942.6,761.6 942.7,764.4 942.8,767.4 942.9,768.1 943.0,766.0 943.1,762.8 943.2,761.2 943.2,762.5 943.3,766.0 943.4,768.9 943.5,768.8 943.6,766.0 943.7,762.6 943.8,761.4 943.9,763.2 944.0,766.8 944.1,769.3 944.2,768.8 944.3,765.9 944.4,763.1 944.5,762.7 944.6,765.2 944.7,768.7 944.8,770.4 944.9,769.1 945.0,766.1 945.1,763.8 945.2,764.3 945.3,767.5 945.4,770.9 945.5,772.0 945.6,770.1 945.7,766.9 945.8,765.2 945.9,766.5 946.0,770.0 946.1,773.0 946.2,773.4 946.3,771.0 946.4,767.8 946.5,766.7 946.6,768.6 946.7,772.0 946.8,774.4 946.9,773.9 947.0,770.9 947.1,767.9 947.2,767.3 947.3,769.7 947.4,773.2 947.5,775.0 947.6,773.8 947.7,770.6 947.8,768.2 947.9,768.4 948.0,771.1 948.1,774.2 948.2,775.0 948.3,772.8" stroke="#0000ff" stroke-width="4.0"/>
</g>
<rect x="779.40" y="626.30" width="153.10" height="58.10" fill="#fff" stroke="#262626" stroke-width="3"/><path d="M784.90,642.00H846.70" stroke="#ff0000" stroke-width="3.2"/><path d="M784.90,668.80H846.70" stroke="#0000ff" stroke-width="3.2"/><text x="851.00" y="650.00" font-size="20" fill="#000">Desired</text><text x="851.00" y="676.80" font-size="20" fill="#000">Fuzzy</text>
<text x="470.9" y="1055" font-size="25" fill="#262626">Time (s)</text>
<text transform="translate(37.1,829.4) rotate(-90)" font-size="25" fill="#262626">I<tspan font-size="20.5" dy="12.7">c</tspan><tspan dy="-12.7"> (A)</tspan></text>
<text x="499.1" y="1115.2" font-size="33.5" fill="#000" text-anchor="middle">(b)</text>
</svg></body></html>
